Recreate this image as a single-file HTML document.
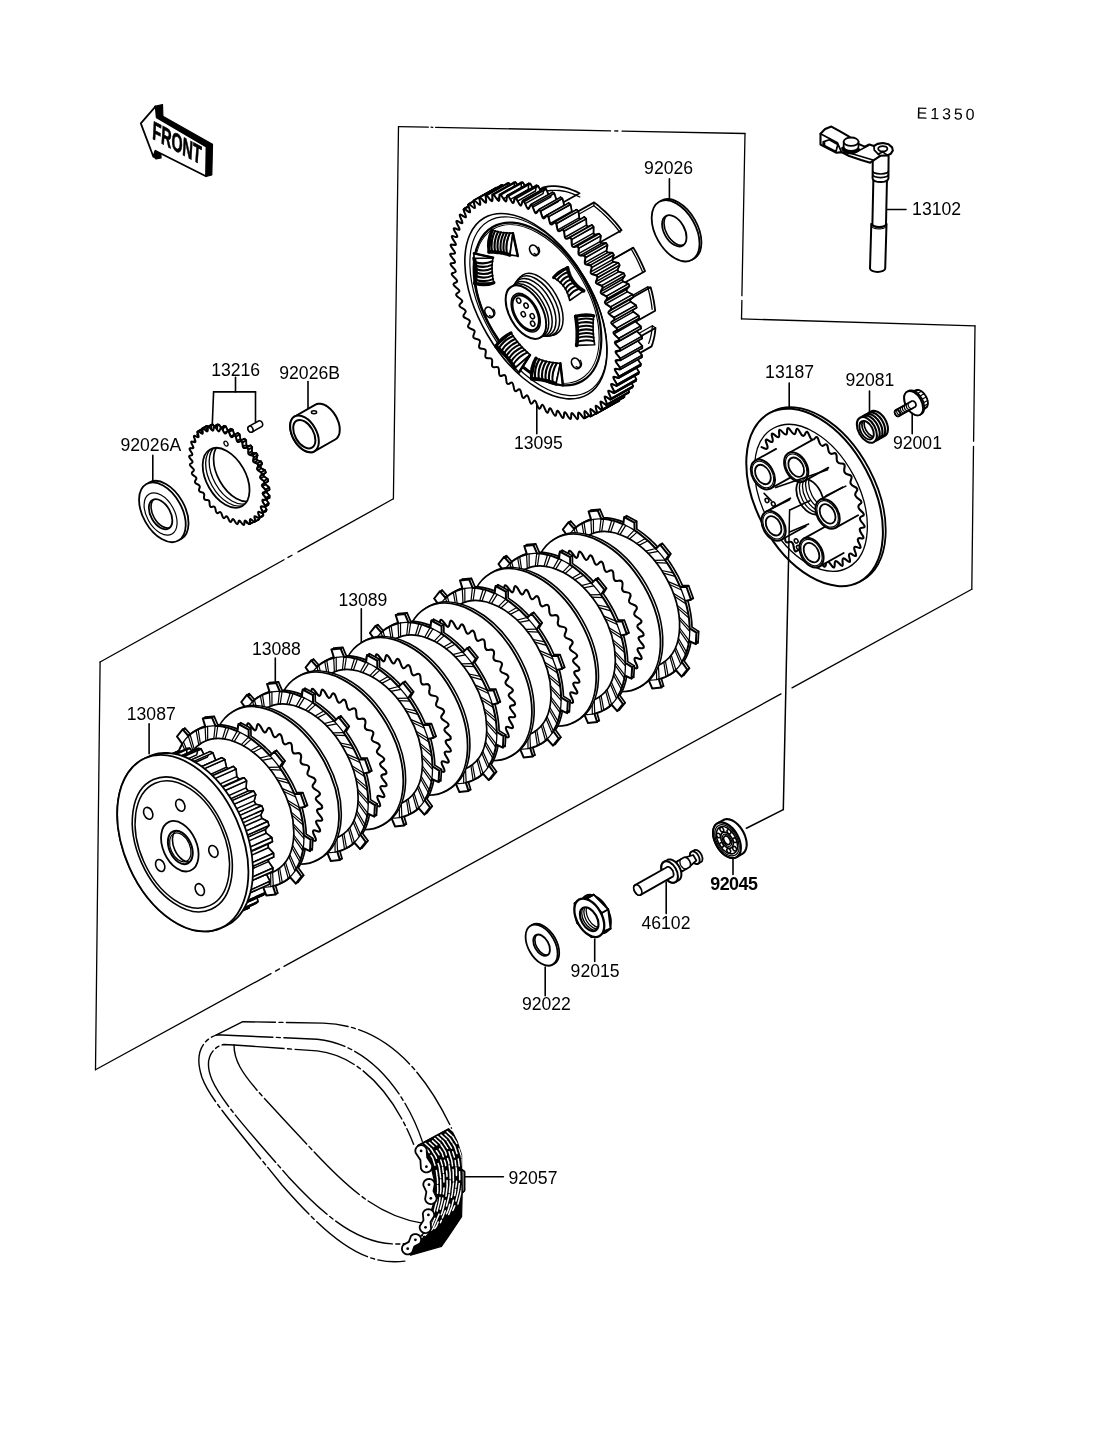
<!DOCTYPE html>
<html><head><meta charset="utf-8"><title>E1350 Clutch</title>
<style>
html,body{margin:0;padding:0;background:#fff;}
svg{display:block;font-family:"Liberation Sans",sans-serif;fill:#000;filter:grayscale(1);}
svg path,svg ellipse{stroke-linecap:round;stroke-linejoin:round;}
</style></head><body>
<svg width="1096" height="1434" viewBox="0 0 1096 1434">
<rect x="0" y="0" width="1096" height="1434" fill="#fff" stroke="none"/>
<path d="M393.4 498.8L398.5 126.6" stroke="#000" stroke-width="1.3" fill="none" />
<path d="M398.5 126.6L428.3 127.2" stroke="#000" stroke-width="1.3" fill="none" />
<path d="M431.1 127.2L432.8 127.3" stroke="#000" stroke-width="1.3" fill="none" />
<path d="M435.6 127.3L610.6 130.8" stroke="#000" stroke-width="1.3" fill="none" />
<path d="M614.7 130.9L617.8 131" stroke="#000" stroke-width="1.3" fill="none" />
<path d="M622 131.1L745 133.5" stroke="#000" stroke-width="1.3" fill="none" />
<path d="M745 133.5L741.9 295.7" stroke="#000" stroke-width="1.3" fill="none" />
<path d="M741.9 300.4L741.5 318.9" stroke="#000" stroke-width="1.3" fill="none" />
<path d="M741.5 318.9L975 325.8" stroke="#000" stroke-width="1.3" fill="none" />
<path d="M975 325.8L973.6 441.2" stroke="#000" stroke-width="1.3" fill="none" />
<path d="M973.5 446.5L971.8 589.3" stroke="#000" stroke-width="1.3" fill="none" />
<path d="M971.8 589.3L792 687.9" stroke="#000" stroke-width="1.3" fill="none" />
<path d="M781 693.9L284 966.4" stroke="#000" stroke-width="1.3" fill="none" />
<path d="M279.5 968.9L275.5 971.1" stroke="#000" stroke-width="1.3" fill="none" />
<path d="M271 973.6L95.5 1069.8" stroke="#000" stroke-width="1.3" fill="none" />
<path d="M95.5 1069.8L100.1 662" stroke="#000" stroke-width="1.3" fill="none" />
<path d="M100.1 662L284 559.7" stroke="#000" stroke-width="1.3" fill="none" />
<path d="M288 557.4L292 555.2" stroke="#000" stroke-width="1.3" fill="none" />
<path d="M298 551.9L393.4 498.8" stroke="#000" stroke-width="1.3" fill="none" />
<text x="912.1" y="215" font-size="17.6" >13102</text>
<text x="644.1" y="174.2" font-size="17.6" >92026</text>
<text x="211.2" y="376" font-size="17.6" >13216</text>
<text x="279.3" y="378.7" font-size="17.6" >92026B</text>
<text x="120.5" y="451.3" font-size="17.6" >92026A</text>
<text x="513.9" y="448.8" font-size="17.6" >13095</text>
<text x="765.1" y="377.5" font-size="17.6" >13187</text>
<text x="845.4" y="386.1" font-size="17.6" >92081</text>
<text x="893" y="448.9" font-size="17.6" >92001</text>
<text x="338.4" y="606" font-size="17.6" >13089</text>
<text x="251.9" y="654.7" font-size="17.6" >13088</text>
<text x="126.8" y="719.6" font-size="17.6" >13087</text>
<text x="641.5" y="928.7" font-size="17.6" >46102</text>
<text x="570.6" y="976.6" font-size="17.6" >92015</text>
<text x="521.9" y="1010.2" font-size="17.6" >92022</text>
<text x="508.5" y="1183.9" font-size="17.6" >92057</text>
<text x="710.2" y="889.8" font-size="17.9" font-weight="bold" textLength="47.8">92045</text>
<text x="916.6" y="118.6" font-size="16" letter-spacing="2.9" transform="rotate(1.2 916 118)">E1350</text>
<path d="M887.5 209.5L906 209.5" stroke="#000" stroke-width="1.6" fill="none" />
<path d="M669.4 178.7L669.4 200.2" stroke="#000" stroke-width="1.6" fill="none" />
<path d="M235.5 377.4L235.5 391.9" stroke="#000" stroke-width="1.6" fill="none" />
<path d="M213.6 391.9L255.5 391.9" stroke="#000" stroke-width="1.6" fill="none" />
<path d="M213.6 391.9L212.2 426.6" stroke="#000" stroke-width="1.6" fill="none" />
<path d="M255.5 391.9L255.5 421.7" stroke="#000" stroke-width="1.6" fill="none" />
<path d="M308 381.5L308 408.9" stroke="#000" stroke-width="1.6" fill="none" />
<path d="M152.8 455.4L152.8 482.8" stroke="#000" stroke-width="1.6" fill="none" />
<path d="M536.8 405L536.8 433.7" stroke="#000" stroke-width="1.6" fill="none" />
<path d="M789.2 383.1L789.2 408.2" stroke="#000" stroke-width="1.6" fill="none" />
<path d="M869.5 391.1L869.5 414.2" stroke="#000" stroke-width="1.6" fill="none" />
<path d="M912.2 413.2L912.2 433.7" stroke="#000" stroke-width="1.6" fill="none" />
<path d="M361.3 608.7L361.3 644.3" stroke="#000" stroke-width="1.6" fill="none" />
<path d="M275.3 658L275.3 683.5" stroke="#000" stroke-width="1.6" fill="none" />
<path d="M149.1 723.7L149.1 753.8" stroke="#000" stroke-width="1.6" fill="none" />
<path d="M733 858L733 874.5" stroke="#000" stroke-width="1.6" fill="none" />
<path d="M666.2 882.1L666.2 913.6" stroke="#000" stroke-width="1.6" fill="none" />
<path d="M594.7 939.1L594.7 961.5" stroke="#000" stroke-width="1.6" fill="none" />
<path d="M545.2 967L545.2 995.7" stroke="#000" stroke-width="1.6" fill="none" />
<path d="M464.7 1176.7L503.4 1176.7" stroke="#000" stroke-width="1.6" fill="none" />
<path d="M746.4 828.2L783.3 809.6" stroke="#000" stroke-width="1.6" fill="none" />
<ellipse cx="677.5" cy="229.7" rx="33.3" ry="20" transform="rotate(60.5 677.5 229.7)" fill="#fff" stroke="#000" stroke-width="1.8"/>
<ellipse cx="675.6" cy="230.8" rx="33.3" ry="20" transform="rotate(60.5 675.6 230.8)" fill="#fff" stroke="#000" stroke-width="1.8"/>
<clipPath id="c59284"><ellipse cx="674.3" cy="230.8" rx="17" ry="10.2" transform="rotate(60.5 674.3 230.8)"/></clipPath>
<g clip-path="url(#c59284)">
<ellipse cx="676.2" cy="229.7" rx="17" ry="10.2" transform="rotate(60.5 676.2 229.7)" fill="none" stroke="#000" stroke-width="1.6"/>
</g>
<ellipse cx="674.3" cy="230.8" rx="17" ry="10.2" transform="rotate(60.5 674.3 230.8)" fill="none" stroke="#000" stroke-width="1.8"/>
<ellipse cx="165.2" cy="510.7" rx="32.5" ry="19.5" transform="rotate(60.5 165.2 510.7)" fill="#fff" stroke="#000" stroke-width="1.8"/>
<ellipse cx="162.4" cy="512.3" rx="32.5" ry="19.5" transform="rotate(60.5 162.4 512.3)" fill="#fff" stroke="#000" stroke-width="1.8"/>
<ellipse cx="160.6" cy="514" rx="23" ry="13.8" transform="rotate(60.5 160.6 514)" fill="none" stroke="#000" stroke-width="1.2"/>
<clipPath id="c18770"><ellipse cx="160.6" cy="514.2" rx="16.4" ry="9.8" transform="rotate(60.5 160.6 514.2)"/></clipPath>
<g clip-path="url(#c18770)">
<ellipse cx="162.8" cy="513" rx="16.4" ry="9.8" transform="rotate(60.5 162.8 513)" fill="none" stroke="#000" stroke-width="1.6"/>
</g>
<ellipse cx="160.6" cy="514.2" rx="16.4" ry="9.8" transform="rotate(60.5 160.6 514.2)" fill="none" stroke="#000" stroke-width="1.8"/>
<ellipse cx="543.2" cy="944.3" rx="22.3" ry="13.4" transform="rotate(60.5 543.2 944.3)" fill="#fff" stroke="#000" stroke-width="1.8"/>
<ellipse cx="541.6" cy="945.2" rx="22.3" ry="13.4" transform="rotate(60.5 541.6 945.2)" fill="#fff" stroke="#000" stroke-width="1.8"/>
<clipPath id="c37927"><ellipse cx="541.6" cy="945.2" rx="11.6" ry="7" transform="rotate(60.5 541.6 945.2)"/></clipPath>
<g clip-path="url(#c37927)">
<ellipse cx="543.2" cy="944.3" rx="11.6" ry="7" transform="rotate(60.5 543.2 944.3)" fill="none" stroke="#000" stroke-width="1.6"/>
</g>
<ellipse cx="541.6" cy="945.2" rx="11.6" ry="7" transform="rotate(60.5 541.6 945.2)" fill="none" stroke="#000" stroke-width="1.8"/>
<path d="M294.7 416.5 L315.5 404.7 L316.3 404.3 L317.1 404 L317.9 403.8 L318.8 403.7 L319.7 403.7 L320.6 403.8 L321.6 403.9 L322.6 404.2 L323.6 404.5 L324.6 404.9 L325.6 405.5 L326.6 406 L327.6 406.7 L328.5 407.4 L329.5 408.3 L330.5 409.1 L331.4 410.1 L332.3 411.1 L333.1 412.1 L334 413.2 L334.7 414.4 L335.5 415.6 L336.2 416.8 L336.8 418 L337.4 419.3 L337.9 420.6 L338.4 421.8 L338.8 423.1 L339.1 424.4 L339.4 425.7 L339.6 426.9 L339.7 428.1 L339.7 429.3 L339.7 430.5 L339.6 431.6 L339.5 432.7 L339.3 433.7 L339 434.7 L338.6 435.6 L338.2 436.4 L337.7 437.2 L337.2 437.9 L336.6 438.5 L335.9 439 L335.2 439.5 L314.3 451.3 L313.6 451.7 L312.8 452 L312 452.2 L311.1 452.3 L310.2 452.3 L309.2 452.2 L308.3 452 L307.3 451.8 L306.3 451.5 L305.3 451 L304.3 450.5 L303.3 449.9 L302.3 449.3 L301.3 448.5 L300.4 447.7 L299.4 446.8 L298.5 445.9 L297.6 444.9 L296.7 443.8 L295.9 442.7 L295.1 441.6 L294.4 440.4 L293.7 439.2 L293.1 438 L292.5 436.7 L292 435.4 L291.5 434.1 L291.1 432.9 L290.8 431.6 L290.5 430.3 L290.3 429.1 L290.2 427.8 L290.1 426.6 L290.2 425.5 L290.2 424.4 L290.4 423.3 L290.6 422.3 L290.9 421.3 L291.3 420.4 L291.7 419.6 L292.2 418.8 L292.7 418.1 L293.3 417.5 L293.9 416.9 L294.7 416.5Z" fill="#fff" stroke="#000" stroke-width="2" />
<ellipse cx="304.5" cy="433.9" rx="20" ry="12" transform="rotate(60.5 304.5 433.9)" fill="#fff" stroke="#000" stroke-width="2"/>
<ellipse cx="304.3" cy="434.2" rx="15.5" ry="9.3" transform="rotate(60.5 304.3 434.2)" fill="none" stroke="#000" stroke-width="2"/>
<ellipse cx="314" cy="412.2" rx="2.6" ry="1.5" transform="rotate(0 314 412.2)" fill="none" stroke="#000" stroke-width="1.5"/>
<path d="M254.4 516.7 L257.8 520 L259.1 519.2 L257.8 514.6 L258.8 513.7 L262.3 516.3 L263.3 515.2 L261.4 510.6 L262.2 509.4 L265.8 511.3 L266.5 509.8 L264.2 505.4 L264.7 503.9 L268.2 505 L268.6 503.3 L265.8 499.2 L266 497.5 L269.4 497.8 L269.5 495.8 L266.3 492.1 L266.3 490.3 L269.4 489.7 L269.2 487.6 L265.7 484.5 L265.4 482.5 L268.1 481.2 L267.6 479 L264 476.5 L263.4 474.5 L265.7 472.4 L264.9 470.2 L261.2 468.4 L260.4 466.4 L262.1 463.6 L261 461.5 L257.5 460.5 L256.4 458.6 L257.5 455.2 L256.3 453.2 L252.9 453.1 L251.7 451.3 L252.1 447.3 L250.7 445.5 L247.6 446.2 L246.2 444.7 L246.1 440.3 L244.4 438.8 L241.8 440.3 L240.3 439 L239.5 434.4 L237.8 433.1 L235.7 435.4 L234.1 434.4 L232.7 429.7 L230.9 428.8 L229.4 431.8 L227.8 431.1 L225.8 426.5 L224.1 425.9 L223.1 429.5 L221.6 429.1 L219.1 424.8 L217.5 424.6 L217.2 428.6 L215.7 428.6 L212.8 424.6 L211.3 424.8 L211.6 429.2 L210.3 429.5 L207 426 L205.7 426.6 L206.7 431.2 L205.6 431.9 L202.1 428.9 L201 429.9 L202.6 434.5 L201.7 435.6 L198.1 433.3 L197.2 434.6 L199.4 439.1 L198.7 440.5 L195.1 439 L194.6 440.6 L197.2 444.9 L196.8 446.5 L193.3 445.8 L193.1 447.6 L196.1 451.5 L196 453.3 L192.8 453.4 L192.8 455.5 L196.1 458.9 L196.3 460.8 L193.4 461.8 L193.8 463.9 L197.3 466.7 L197.8 468.7 L195.3 470.5 L195.9 472.7 L199.6 474.8 L200.3 476.8 L198.3 479.3 L199.2 481.5 L202.8 482.8 L203.8 484.8 L202.4 487.9 L203.5 490 L207 490.5 L208.2 492.4 L207.4 496.1 L208.8 498 L211.9 497.7 L213.3 499.4 L213.1 503.5 L214.7 505.3 L217.5 504.1 L219 505.6 L219.5 510 L221.1 511.5 L223.5 509.6 L225.1 510.7 L226.2 515.4 L227.9 516.5 L229.8 513.8 L231.4 514.7 L233.1 519.3 L234.8 520.1 L236.1 516.8 L237.6 517.3 L239.9 521.8 L241.6 522.2 L242.2 518.4 L243.7 518.6 L246.4 522.8 L248 522.8 L248 518.6 L249.4 518.4 L252.5 522.2 L253.9 521.8 L253.2 517.3Z" fill="#fff" stroke="#000" stroke-width="2" />
<path d="M252.8 460.7 L253.9 457.3 L257.5 455.2 L256.4 458.6Z" fill="#fff" stroke="#000" stroke-width="1.7" />
<path d="M252.6 455.2 L249.3 455.1 L252.9 453.1 L256.3 453.2Z" fill="#fff" stroke="#000" stroke-width="1.7" />
<path d="M253.9 457.3 L252.6 455.2 L256.3 453.2 L257.5 455.2Z" fill="#fff" stroke="#000" stroke-width="1.7" />
<path d="M256.7 468.5 L258.4 465.7 L262.1 463.6 L260.4 466.4Z" fill="#fff" stroke="#000" stroke-width="1.7" />
<path d="M257.4 463.5 L253.9 462.6 L257.5 460.5 L261 461.5Z" fill="#fff" stroke="#000" stroke-width="1.7" />
<path d="M258.4 465.7 L257.4 463.5 L261 461.5 L262.1 463.6Z" fill="#fff" stroke="#000" stroke-width="1.7" />
<path d="M248 453.4 L248.5 449.4 L252.1 447.3 L251.7 451.3Z" fill="#fff" stroke="#000" stroke-width="1.7" />
<path d="M247 447.6 L244 448.3 L247.6 446.2 L250.7 445.5Z" fill="#fff" stroke="#000" stroke-width="1.7" />
<path d="M248.5 449.4 L247 447.6 L250.7 445.5 L252.1 447.3Z" fill="#fff" stroke="#000" stroke-width="1.7" />
<path d="M259.8 476.6 L262 474.4 L265.7 472.4 L263.4 474.5Z" fill="#fff" stroke="#000" stroke-width="1.7" />
<path d="M261.2 472.2 L257.6 470.5 L261.2 468.4 L264.9 470.2Z" fill="#fff" stroke="#000" stroke-width="1.7" />
<path d="M262 474.4 L261.2 472.2 L264.9 470.2 L265.7 472.4Z" fill="#fff" stroke="#000" stroke-width="1.7" />
<path d="M242.6 446.7 L242.4 442.4 L246.1 440.3 L246.2 444.7Z" fill="#fff" stroke="#000" stroke-width="1.7" />
<path d="M240.8 440.8 L238.2 442.4 L241.8 440.3 L244.4 438.8Z" fill="#fff" stroke="#000" stroke-width="1.7" />
<path d="M242.4 442.4 L240.8 440.8 L244.4 438.8 L246.1 440.3Z" fill="#fff" stroke="#000" stroke-width="1.7" />
<path d="M261.7 484.6 L264.5 483.2 L268.1 481.2 L265.4 482.5Z" fill="#fff" stroke="#000" stroke-width="1.7" />
<path d="M264 481.1 L260.4 478.6 L264 476.5 L267.6 479Z" fill="#fff" stroke="#000" stroke-width="1.7" />
<path d="M264.5 483.2 L264 481.1 L267.6 479 L268.1 481.2Z" fill="#fff" stroke="#000" stroke-width="1.7" />
<path d="M236.7 441 L235.8 436.5 L239.5 434.4 L240.3 439Z" fill="#fff" stroke="#000" stroke-width="1.7" />
<path d="M234.1 435.2 L232 437.5 L235.7 435.4 L237.8 433.1Z" fill="#fff" stroke="#000" stroke-width="1.7" />
<path d="M235.8 436.5 L234.1 435.2 L237.8 433.1 L239.5 434.4Z" fill="#fff" stroke="#000" stroke-width="1.7" />
<path d="M262.6 492.3 L265.7 491.8 L269.4 489.7 L266.3 490.3Z" fill="#fff" stroke="#000" stroke-width="1.7" />
<path d="M265.5 489.7 L262.1 486.6 L265.7 484.5 L269.2 487.6Z" fill="#fff" stroke="#000" stroke-width="1.7" />
<path d="M265.7 491.8 L265.5 489.7 L269.2 487.6 L269.4 489.7Z" fill="#fff" stroke="#000" stroke-width="1.7" />
<path d="M230.5 436.5 L229 431.8 L232.7 429.7 L234.1 434.4Z" fill="#fff" stroke="#000" stroke-width="1.7" />
<path d="M227.3 430.9 L225.7 433.8 L229.4 431.8 L230.9 428.8Z" fill="#fff" stroke="#000" stroke-width="1.7" />
<path d="M229 431.8 L227.3 430.9 L230.9 428.8 L232.7 429.7Z" fill="#fff" stroke="#000" stroke-width="1.7" />
<path d="M262.4 499.5 L265.8 499.8 L269.4 497.8 L266 497.5Z" fill="#fff" stroke="#000" stroke-width="1.7" />
<path d="M265.9 497.9 L262.7 494.2 L266.3 492.1 L269.5 495.8Z" fill="#fff" stroke="#000" stroke-width="1.7" />
<path d="M265.8 499.8 L265.9 497.9 L269.5 495.8 L269.4 497.8Z" fill="#fff" stroke="#000" stroke-width="1.7" />
<path d="M224.2 433.1 L222.1 428.6 L225.8 426.5 L227.8 431.1Z" fill="#fff" stroke="#000" stroke-width="1.7" />
<path d="M220.4 428 L219.5 431.5 L223.1 429.5 L224.1 425.9Z" fill="#fff" stroke="#000" stroke-width="1.7" />
<path d="M222.1 428.6 L220.4 428 L224.1 425.9 L225.8 426.5Z" fill="#fff" stroke="#000" stroke-width="1.7" />
<path d="M261 506 L264.6 507.1 L268.2 505 L264.7 503.9Z" fill="#fff" stroke="#000" stroke-width="1.7" />
<path d="M265 505.4 L262.1 501.2 L265.8 499.2 L268.6 503.3Z" fill="#fff" stroke="#000" stroke-width="1.7" />
<path d="M264.6 507.1 L265 505.4 L268.6 503.3 L268.2 505Z" fill="#fff" stroke="#000" stroke-width="1.7" />
<path d="M218 431.2 L215.4 426.8 L219.1 424.8 L221.6 429.1Z" fill="#fff" stroke="#000" stroke-width="1.7" />
<path d="M213.8 426.6 L213.5 430.7 L217.2 428.6 L217.5 424.6Z" fill="#fff" stroke="#000" stroke-width="1.7" />
<path d="M215.4 426.8 L213.8 426.6 L217.5 424.6 L219.1 424.8Z" fill="#fff" stroke="#000" stroke-width="1.7" />
<path d="M258.6 511.4 L262.2 513.3 L265.8 511.3 L262.2 509.4Z" fill="#fff" stroke="#000" stroke-width="1.7" />
<path d="M262.9 511.9 L260.5 507.4 L264.2 505.4 L266.5 509.8Z" fill="#fff" stroke="#000" stroke-width="1.7" />
<path d="M262.2 513.3 L262.9 511.9 L266.5 509.8 L265.8 511.3Z" fill="#fff" stroke="#000" stroke-width="1.7" />
<path d="M212.1 430.7 L209.1 426.6 L212.8 424.6 L215.7 428.6Z" fill="#fff" stroke="#000" stroke-width="1.7" />
<path d="M207.6 426.9 L208 431.2 L211.6 429.2 L211.3 424.8Z" fill="#fff" stroke="#000" stroke-width="1.7" />
<path d="M209.1 426.6 L207.6 426.9 L211.3 424.8 L212.8 424.6Z" fill="#fff" stroke="#000" stroke-width="1.7" />
<path d="M255.1 515.8 L258.7 518.4 L262.3 516.3 L258.8 513.7Z" fill="#fff" stroke="#000" stroke-width="1.7" />
<path d="M259.7 517.3 L257.8 512.6 L261.4 510.6 L263.3 515.2Z" fill="#fff" stroke="#000" stroke-width="1.7" />
<path d="M258.7 518.4 L259.7 517.3 L263.3 515.2 L262.3 516.3Z" fill="#fff" stroke="#000" stroke-width="1.7" />
<path d="M206.7 431.6 L203.4 428.1 L207 426 L210.3 429.5Z" fill="#fff" stroke="#000" stroke-width="1.7" />
<path d="M202.1 428.6 L203.1 433.2 L206.7 431.2 L205.7 426.6Z" fill="#fff" stroke="#000" stroke-width="1.7" />
<path d="M203.4 428.1 L202.1 428.6 L205.7 426.6 L207 426Z" fill="#fff" stroke="#000" stroke-width="1.7" />
<path d="M250.8 518.8 L254.2 522.1 L257.8 520 L254.4 516.7Z" fill="#fff" stroke="#000" stroke-width="1.7" />
<path d="M255.4 521.3 L254.1 516.6 L257.8 514.6 L259.1 519.2Z" fill="#fff" stroke="#000" stroke-width="1.7" />
<path d="M254.2 522.1 L255.4 521.3 L259.1 519.2 L257.8 520Z" fill="#fff" stroke="#000" stroke-width="1.7" />
<path d="M201.9 434 L198.4 431 L202.1 428.9 L205.6 431.9Z" fill="#fff" stroke="#000" stroke-width="1.7" />
<path d="M197.3 432 L198.9 436.6 L202.6 434.5 L201 429.9Z" fill="#fff" stroke="#000" stroke-width="1.7" />
<path d="M198.4 431 L197.3 432 L201 429.9 L202.1 428.9Z" fill="#fff" stroke="#000" stroke-width="1.7" />
<path d="M245.7 520.4 L248.8 524.2 L252.5 522.2 L249.4 518.4Z" fill="#fff" stroke="#000" stroke-width="1.7" />
<path d="M250.2 523.8 L249.6 519.3 L253.2 517.3 L253.9 521.8Z" fill="#fff" stroke="#000" stroke-width="1.7" />
<path d="M248.8 524.2 L250.2 523.8 L253.9 521.8 L252.5 522.2Z" fill="#fff" stroke="#000" stroke-width="1.7" />
<path d="M250.2 519.1 Q250.8 518.8 252.5 520.4 Q254.2 522.1 254.8 521.7 Q255.4 521.3 254.8 519 Q254.1 516.6 254.6 516.2 Q255.1 515.8 256.9 517.1 Q258.7 518.4 259.2 517.8 Q259.7 517.3 258.7 514.9 Q257.8 512.6 258.2 512 Q258.6 511.4 260.4 512.4 Q262.2 513.3 262.5 512.6 Q262.9 511.9 261.7 509.7 Q260.5 507.4 260.8 506.7 Q261 506 262.8 506.5 Q264.6 507.1 264.8 506.2 Q265 505.4 263.6 503.3 Q262.1 501.2 262.3 500.4 Q262.4 499.5 264.1 499.7 Q265.8 499.8 265.8 498.9 Q265.9 497.9 264.3 496 Q262.7 494.2 262.6 493.3 Q262.6 492.3 264.2 492.1 Q265.7 491.8 265.6 490.7 Q265.5 489.7 263.8 488.1 Q262.1 486.6 261.9 485.6 Q261.7 484.6 263.1 483.9 Q264.5 483.2 264.2 482.1 Q264 481.1 262.2 479.8 Q260.4 478.6 260.1 477.6 Q259.8 476.6 260.9 475.5 Q262 474.4 261.6 473.3 Q261.2 472.2 259.4 471.4 Q257.6 470.5 257.2 469.5 Q256.7 468.5 257.6 467.1 Q258.4 465.7 257.9 464.6 Q257.4 463.5 255.6 463.1 Q253.9 462.6 253.3 461.7 Q252.8 460.7 253.3 459 Q253.9 457.3 253.2 456.2 Q252.6 455.2 250.9 455.2 Q249.3 455.1 248.6 454.2 Q248 453.4 248.2 451.4 Q248.5 449.4 247.7 448.5 Q247 447.6 245.5 447.9 Q244 448.3 243.3 447.5 Q242.6 446.7 242.5 444.6 Q242.4 442.4 241.6 441.6 Q240.8 440.8 239.5 441.6 Q238.2 442.4 237.4 441.7 Q236.7 441 236.3 438.8 Q235.8 436.5 235 435.8 Q234.1 435.2 233.1 436.3 Q232 437.5 231.2 437 Q230.5 436.5 229.7 434.1 Q229 431.8 228.1 431.3 Q227.3 430.9 226.5 432.4 Q225.7 433.8 224.9 433.5 Q224.2 433.1 223.1 430.9 Q222.1 428.6 221.3 428.3 Q220.4 428 220 429.8 Q219.5 431.5 218.7 431.4 Q218 431.2 216.7 429 Q215.4 426.8 214.6 426.7 Q213.8 426.6 213.7 428.6 Q213.5 430.7 212.8 430.7 Q212.1 430.7 210.6 428.7 Q209.1 426.6 208.4 426.8 Q207.6 426.9 207.8 429 Q208 431.2 207.3 431.4 Q206.7 431.6 205 429.8 Q203.4 428.1 202.7 428.4 Q202.1 428.6 202.6 430.9 Q203.1 433.2 202.5 433.6 Q201.9 434 200.2 432.5 Q198.4 431 197.9 431.5 Q197.3 432 198.1 434.3 Q198.9 436.6 198.5 437.1 Q198 437.6 196.2 436.5 Q194.4 435.4 194 436 Q193.6 436.7 194.7 438.9 Q195.7 441.2 195.4 441.9 Q195.1 442.6 193.3 441.8 Q191.5 441 191.2 441.8 Q190.9 442.6 192.2 444.8 Q193.5 446.9 193.4 447.7 Q193.2 448.5 191.4 448.2 Q189.7 447.8 189.5 448.7 Q189.4 449.7 190.9 451.6 Q192.5 453.6 192.4 454.5 Q192.4 455.4 190.7 455.4 Q189.1 455.5 189.1 456.5 Q189.1 457.5 190.8 459.2 Q192.5 461 192.6 461.9 Q192.7 462.9 191.2 463.4 Q189.8 463.8 189.9 464.9 Q190.1 466 191.9 467.4 Q193.6 468.8 193.9 469.8 Q194.1 470.8 192.9 471.7 Q191.6 472.5 191.9 473.6 Q192.3 474.8 194.1 475.8 Q195.9 476.9 196.3 477.9 Q196.6 478.9 195.6 480.1 Q194.6 481.4 195.1 482.5 Q195.6 483.5 197.4 484.2 Q199.2 484.9 199.6 485.9 Q200.1 486.8 199.4 488.4 Q198.7 490 199.3 491 Q199.9 492.1 201.6 492.3 Q203.3 492.6 203.9 493.5 Q204.5 494.5 204.1 496.3 Q203.7 498.2 204.4 499.1 Q205.1 500.1 206.7 499.9 Q208.3 499.8 209 500.6 Q209.6 501.5 209.6 503.5 Q209.5 505.6 210.3 506.5 Q211 507.3 212.4 506.8 Q213.9 506.2 214.6 506.9 Q215.3 507.6 215.6 509.9 Q215.8 512.1 216.7 512.8 Q217.5 513.5 218.7 512.6 Q219.9 511.6 220.6 512.2 Q221.4 512.8 222 515.1 Q222.6 517.4 223.4 518 Q224.3 518.5 225.2 517.2 Q226.1 515.9 226.9 516.3 Q227.7 516.8 228.6 519.1 Q229.4 521.4 230.3 521.8 Q231.2 522.2 231.8 520.5 Q232.4 518.9 233.2 519.1 Q234 519.4 235.1 521.7 Q236.3 523.9 237.1 524.1 Q237.9 524.3 238.2 522.4 Q238.6 520.5 239.3 520.6 Q240 520.6 241.4 522.8 Q242.8 524.9 243.6 524.9 Q244.4 524.9 244.3 522.7 Q244.3 520.6 245 520.5 Q245.7 520.4 247.3 522.3 Q248.8 524.2 249.5 524 Q250.2 523.8 249.9 521.6 Q249.6 519.3 250.2 519.1Z" fill="#fff" stroke="#000" stroke-width="2" />
<clipPath id="bore1"><ellipse cx="226.1" cy="477.8" rx="32.6" ry="19.6" transform="rotate(60.5 226.1 477.8)"/></clipPath>
<g clip-path="url(#bore1)">
<ellipse cx="229.1" cy="476.1" rx="32.6" ry="19.6" transform="rotate(60.5 229.1 476.1)" fill="none" stroke="#000" stroke-width="1.3"/>
<ellipse cx="232.6" cy="474.1" rx="32.6" ry="19.6" transform="rotate(60.5 232.6 474.1)" fill="none" stroke="#000" stroke-width="1.3"/>
<ellipse cx="237" cy="471.6" rx="32.6" ry="19.6" transform="rotate(60.5 237 471.6)" fill="none" stroke="#000" stroke-width="1.7"/>
</g>
<ellipse cx="226.1" cy="477.8" rx="32.6" ry="19.6" transform="rotate(60.5 226.1 477.8)" fill="none" stroke="#000" stroke-width="1.8"/>
<ellipse cx="226" cy="443.6" rx="2.6" ry="1.8" transform="rotate(60.5 226 443.6)" fill="none" stroke="#000" stroke-width="1.3"/>
<path d="M248.9 426.4 L258.5 421 L258.6 420.9 L258.8 420.9 L259 420.8 L259.1 420.8 L259.3 420.8 L259.5 420.8 L259.7 420.8 L259.8 420.8 L260 420.8 L260.2 420.9 L260.4 421 L260.6 421 L260.7 421.1 L260.9 421.2 L261.1 421.4 L261.3 421.5 L261.4 421.6 L261.6 421.8 L261.7 422 L261.9 422.1 L262 422.3 L262.1 422.5 L262.2 422.7 L262.3 422.9 L262.4 423.1 L262.5 423.3 L262.5 423.5 L262.6 423.7 L262.6 423.9 L262.7 424.2 L262.7 424.4 L262.7 424.6 L262.7 424.8 L262.7 425 L262.6 425.2 L262.6 425.3 L262.5 425.5 L262.4 425.7 L262.4 425.8 L262.3 426 L262.2 426.1 L262 426.3 L261.9 426.4 L261.8 426.5 L261.6 426.6 L252.1 432 L251.9 432.1 L251.8 432.1 L251.6 432.2 L251.4 432.2 L251.3 432.2 L251.1 432.2 L250.9 432.2 L250.7 432.2 L250.5 432.1 L250.4 432.1 L250.2 432 L250 431.9 L249.8 431.8 L249.6 431.7 L249.5 431.6 L249.3 431.5 L249.2 431.3 L249 431.2 L248.9 431 L248.7 430.8 L248.6 430.7 L248.5 430.5 L248.4 430.3 L248.3 430.1 L248.2 429.9 L248.1 429.7 L248 429.5 L248 429.3 L247.9 429 L247.9 428.8 L247.9 428.6 L247.9 428.4 L247.9 428.2 L247.9 428 L248 427.8 L248 427.6 L248.1 427.5 L248.1 427.3 L248.2 427.1 L248.3 427 L248.4 426.8 L248.5 426.7 L248.6 426.6 L248.8 426.5 L248.9 426.4Z" fill="#fff" stroke="#000" stroke-width="1.5" />
<ellipse cx="250.5" cy="429.2" rx="3.2" ry="2.4" transform="rotate(60.5 250.5 429.2)" fill="#fff" stroke="#000" stroke-width="1.5"/>
<ellipse cx="595.9" cy="914.1" rx="20.8" ry="12.5" transform="rotate(60.5 595.9 914.1)" fill="#fff" stroke="#000" stroke-width="2.1"/>
<path d="M610.5 928.6 L608.2 909.3 L593.6 894.7 L581.3 899.5 L583.6 918.8 L598.2 933.4Z" fill="#fff" stroke="#000" stroke-width="2" />
<path d="M603.9 932.3 L601.6 913 L608.2 909.3 L610.5 928.6Z" fill="#fff" stroke="#000" stroke-width="1.8" />
<path d="M601.6 913 L587 898.5 L593.6 894.7 L608.2 909.3Z" fill="#fff" stroke="#000" stroke-width="1.8" />
<path d="M587 898.5 L574.7 903.3 L581.3 899.5 L593.6 894.7Z" fill="#fff" stroke="#000" stroke-width="1.8" />
<path d="M574.7 903.3 L577 922.6 L583.6 918.8 L581.3 899.5Z" fill="#fff" stroke="#000" stroke-width="1.8" />
<path d="M577 922.6 L591.6 937.1 L598.2 933.4 L583.6 918.8Z" fill="#fff" stroke="#000" stroke-width="1.8" />
<path d="M591.6 937.1 L603.9 932.3 L610.5 928.6 L598.2 933.4Z" fill="#fff" stroke="#000" stroke-width="1.8" />
<path d="M603.9 932.3 L601.6 913 L587 898.5 L574.7 903.3 L577 922.6 L591.6 937.1Z" fill="#fff" stroke="#000" stroke-width="2.1" />
<ellipse cx="589.3" cy="917.8" rx="20.9" ry="12.5" transform="rotate(60.5 589.3 917.8)" fill="#fff" stroke="#000" stroke-width="2.3"/>
<clipPath id="nutc"><ellipse cx="589.2" cy="919.2" rx="13" ry="7.8" transform="rotate(60.5 589.2 919.2)"/></clipPath>
<g clip-path="url(#nutc)">
<ellipse cx="591.1" cy="918.1" rx="13" ry="7.8" transform="rotate(60.5 591.1 918.1)" fill="none" stroke="#000" stroke-width="1.3"/>
<ellipse cx="593.2" cy="916.9" rx="13" ry="7.8" transform="rotate(60.5 593.2 916.9)" fill="none" stroke="#000" stroke-width="1.3"/>
<ellipse cx="595.5" cy="915.7" rx="13" ry="7.8" transform="rotate(60.5 595.5 915.7)" fill="none" stroke="#000" stroke-width="1.3"/>
</g>
<ellipse cx="589.2" cy="919.2" rx="13" ry="7.8" transform="rotate(60.5 589.2 919.2)" fill="none" stroke="#000" stroke-width="2.1"/>
<path d="M691.5 851.8 L694.2 850.3 L694.5 850.1 L694.8 850 L695.1 850 L695.4 849.9 L695.7 849.9 L696 849.9 L696.3 850 L696.6 850.1 L697 850.2 L697.3 850.3 L697.7 850.5 L698 850.7 L698.3 850.9 L698.7 851.2 L699 851.5 L699.3 851.8 L699.6 852.1 L699.9 852.4 L700.2 852.8 L700.5 853.2 L700.8 853.6 L701 854 L701.3 854.4 L701.5 854.8 L701.7 855.2 L701.8 855.7 L702 856.1 L702.1 856.5 L702.3 857 L702.3 857.4 L702.4 857.8 L702.5 858.2 L702.5 858.6 L702.5 859 L702.4 859.4 L702.4 859.8 L702.3 860.1 L702.2 860.5 L702.1 860.8 L702 861 L701.8 861.3 L701.6 861.5 L701.4 861.8 L701.2 861.9 L700.9 862.1 L698.2 863.7 L697.9 863.8 L697.6 863.9 L697.3 864 L697 864 L696.7 864 L696.4 864 L696.1 863.9 L695.8 863.8 L695.4 863.7 L695.1 863.6 L694.8 863.4 L694.4 863.2 L694.1 863 L693.7 862.7 L693.4 862.4 L693.1 862.1 L692.8 861.8 L692.5 861.5 L692.2 861.1 L691.9 860.8 L691.6 860.4 L691.4 860 L691.1 859.5 L690.9 859.1 L690.7 858.7 L690.6 858.3 L690.4 857.8 L690.3 857.4 L690.1 857 L690.1 856.5 L690 856.1 L689.9 855.7 L689.9 855.3 L689.9 854.9 L690 854.5 L690 854.1 L690.1 853.8 L690.2 853.5 L690.3 853.2 L690.4 852.9 L690.6 852.6 L690.8 852.4 L691 852.2 L691.2 852 L691.5 851.8Z" fill="#fff" stroke="#000" stroke-width="1.8" />
<ellipse cx="694.8" cy="857.7" rx="6.8" ry="4.1" transform="rotate(60.5 694.8 857.7)" fill="#fff" stroke="#000" stroke-width="1.8"/>
<path d="M689.1 867 L696.4 860.5 L693.2 855 L684 857.9Z" fill="#fff" stroke="#000" stroke-width="1.7" />
<path d="M669.9 865.4 L683.8 857.6 L684 857.4 L684.2 857.4 L684.5 857.3 L684.7 857.3 L684.9 857.3 L685.2 857.3 L685.5 857.3 L685.8 857.4 L686 857.5 L686.3 857.6 L686.6 857.8 L686.9 857.9 L687.1 858.1 L687.4 858.3 L687.7 858.6 L688 858.8 L688.2 859.1 L688.5 859.3 L688.7 859.6 L688.9 859.9 L689.2 860.3 L689.4 860.6 L689.6 860.9 L689.7 861.3 L689.9 861.6 L690 862 L690.2 862.4 L690.3 862.7 L690.4 863.1 L690.5 863.4 L690.5 863.8 L690.5 864.1 L690.6 864.5 L690.6 864.8 L690.5 865.1 L690.5 865.4 L690.4 865.7 L690.3 866 L690.2 866.2 L690.1 866.4 L690 866.7 L689.8 866.8 L689.7 867 L689.5 867.2 L689.3 867.3 L675.4 875.2 L675.2 875.3 L674.9 875.4 L674.7 875.4 L674.5 875.4 L674.2 875.4 L673.9 875.4 L673.7 875.4 L673.4 875.3 L673.1 875.2 L672.8 875.1 L672.6 875 L672.3 874.8 L672 874.6 L671.7 874.4 L671.5 874.2 L671.2 873.9 L670.9 873.7 L670.7 873.4 L670.4 873.1 L670.2 872.8 L670 872.5 L669.8 872.1 L669.6 871.8 L669.4 871.4 L669.3 871.1 L669.1 870.7 L669 870.4 L668.9 870 L668.8 869.7 L668.7 869.3 L668.6 868.9 L668.6 868.6 L668.6 868.3 L668.6 867.9 L668.6 867.6 L668.7 867.3 L668.7 867 L668.8 866.8 L668.9 866.5 L669 866.3 L669.2 866.1 L669.3 865.9 L669.5 865.7 L669.7 865.6 L669.9 865.4Z" fill="#fff" stroke="#000" stroke-width="1.7" />
<ellipse cx="672.6" cy="870.3" rx="5.6" ry="3.4" transform="rotate(60.5 672.6 870.3)" fill="#fff" stroke="#000" stroke-width="1.7"/>
<path d="M675.1 862.5 L674.9 862.6 L674.7 862.8 L674.5 862.9 L674.4 863.1 L674.2 863.3 L674.1 863.6 L674 863.8 L673.9 864.1 L673.9 864.4 L673.8 864.7 L673.8 865 L673.8 865.3 L673.8 865.7 L673.9 866 L673.9 866.3 L674 866.7 L674.1 867.1 L674.2 867.4 L674.3 867.8 L674.5 868.1 L674.6 868.5 L674.8 868.8 L675 869.2 L675.2 869.5 L675.4 869.8 L675.7 870.1 L675.9 870.4 L676.2 870.7 L676.4 871 L676.7 871.2 L677 871.4 L677.2 871.7 L677.5 871.8 L677.8 872 L678.1 872.1 L678.3 872.3 L678.6 872.4 L678.9 872.4 L679.2 872.5 L679.4 872.5 L679.7 872.5 L679.9 872.5 L680.2 872.4 L680.4 872.3 L680.6 872.2" fill="none" stroke="#000" stroke-width="1.3" />
<path d="M678.1 860.8 L677.9 860.9 L677.7 861 L677.6 861.2 L677.4 861.4 L677.3 861.6 L677.2 861.8 L677.1 862.1 L677 862.4 L676.9 862.7 L676.9 863 L676.9 863.3 L676.9 863.6 L676.9 863.9 L676.9 864.3 L677 864.6 L677 865 L677.1 865.3 L677.2 865.7 L677.4 866.1 L677.5 866.4 L677.7 866.8 L677.9 867.1 L678.1 867.4 L678.3 867.8 L678.5 868.1 L678.7 868.4 L679 868.7 L679.2 869 L679.5 869.2 L679.7 869.5 L680 869.7 L680.3 869.9 L680.6 870.1 L680.8 870.3 L681.1 870.4 L681.4 870.5 L681.7 870.6 L681.9 870.7 L682.2 870.8 L682.5 870.8 L682.7 870.8 L683 870.7 L683.2 870.7 L683.4 870.6 L683.6 870.5" fill="none" stroke="#000" stroke-width="1.3" />
<path d="M681.2 859 L681 859.2 L680.8 859.3 L680.6 859.5 L680.5 859.7 L680.3 859.9 L680.2 860.1 L680.1 860.4 L680 860.6 L680 860.9 L679.9 861.2 L679.9 861.5 L679.9 861.9 L679.9 862.2 L680 862.5 L680 862.9 L680.1 863.3 L680.2 863.6 L680.3 864 L680.4 864.3 L680.6 864.7 L680.7 865 L680.9 865.4 L681.1 865.7 L681.3 866.1 L681.5 866.4 L681.8 866.7 L682 867 L682.3 867.3 L682.5 867.5 L682.8 867.8 L683 868 L683.3 868.2 L683.6 868.4 L683.9 868.6 L684.2 868.7 L684.4 868.8 L684.7 868.9 L685 869 L685.3 869 L685.5 869 L685.8 869 L686 869 L686.3 869 L686.5 868.9 L686.7 868.8" fill="none" stroke="#000" stroke-width="1.3" />
<path d="M663.9 861.9 L667.3 860 L667.8 859.7 L668.2 859.6 L668.7 859.5 L669.2 859.4 L669.8 859.4 L670.3 859.4 L670.8 859.5 L671.4 859.7 L672 859.9 L672.6 860.1 L673.1 860.4 L673.7 860.8 L674.3 861.1 L674.9 861.6 L675.4 862 L676 862.6 L676.5 863.1 L677 863.7 L677.5 864.3 L678 864.9 L678.5 865.6 L678.9 866.3 L679.3 867 L679.7 867.7 L680 868.4 L680.3 869.2 L680.6 869.9 L680.8 870.7 L681 871.4 L681.2 872.1 L681.3 872.9 L681.3 873.6 L681.4 874.3 L681.4 874.9 L681.3 875.6 L681.2 876.2 L681.1 876.8 L680.9 877.4 L680.7 877.9 L680.5 878.4 L680.2 878.8 L679.9 879.2 L679.5 879.6 L679.2 879.9 L678.8 880.2 L675.3 882.1 L674.8 882.3 L674.4 882.5 L673.9 882.6 L673.4 882.7 L672.9 882.7 L672.3 882.6 L671.8 882.5 L671.2 882.4 L670.6 882.2 L670 882 L669.5 881.7 L668.9 881.3 L668.3 880.9 L667.7 880.5 L667.2 880 L666.6 879.5 L666.1 879 L665.6 878.4 L665.1 877.8 L664.6 877.2 L664.1 876.5 L663.7 875.8 L663.3 875.1 L662.9 874.4 L662.6 873.6 L662.3 872.9 L662 872.2 L661.8 871.4 L661.6 870.7 L661.5 869.9 L661.4 869.2 L661.3 868.5 L661.2 867.8 L661.3 867.1 L661.3 866.5 L661.4 865.9 L661.5 865.3 L661.7 864.7 L661.9 864.2 L662.1 863.7 L662.4 863.3 L662.7 862.9 L663.1 862.5 L663.4 862.2 L663.9 861.9Z" fill="#fff" stroke="#000" stroke-width="2" />
<ellipse cx="669.6" cy="872" rx="11.6" ry="7" transform="rotate(60.5 669.6 872)" fill="#fff" stroke="#000" stroke-width="2"/>
<path d="M635 885.1 L666.8 867.2 L667 867 L667.2 867 L667.5 866.9 L667.7 866.9 L668 866.9 L668.2 866.9 L668.5 866.9 L668.8 867 L669.1 867.1 L669.3 867.2 L669.6 867.4 L669.9 867.5 L670.2 867.7 L670.5 867.9 L670.7 868.2 L671 868.4 L671.2 868.7 L671.5 868.9 L671.7 869.2 L672 869.6 L672.2 869.9 L672.4 870.2 L672.6 870.5 L672.8 870.9 L672.9 871.2 L673.1 871.6 L673.2 872 L673.3 872.3 L673.4 872.7 L673.5 873 L673.5 873.4 L673.6 873.7 L673.6 874.1 L673.6 874.4 L673.6 874.7 L673.5 875 L673.5 875.3 L673.4 875.6 L673.3 875.8 L673.2 876 L673 876.3 L672.9 876.5 L672.7 876.6 L672.5 876.8 L672.3 876.9 L640.6 894.9 L640.3 895 L640.1 895.1 L639.9 895.1 L639.6 895.1 L639.4 895.1 L639.1 895.1 L638.9 895.1 L638.6 895 L638.3 894.9 L638 894.8 L637.8 894.7 L637.5 894.5 L637.2 894.3 L636.9 894.1 L636.6 893.9 L636.4 893.6 L636.1 893.4 L635.9 893.1 L635.6 892.8 L635.4 892.5 L635.2 892.2 L635 891.8 L634.8 891.5 L634.6 891.1 L634.4 890.8 L634.3 890.4 L634.2 890.1 L634.1 889.7 L634 889.4 L633.9 889 L633.8 888.6 L633.8 888.3 L633.8 888 L633.8 887.6 L633.8 887.3 L633.9 887 L633.9 886.7 L634 886.5 L634.1 886.2 L634.2 886 L634.3 885.8 L634.5 885.6 L634.7 885.4 L634.8 885.3 L635 885.1Z" fill="#fff" stroke="#000" stroke-width="1.8" />
<ellipse cx="637.8" cy="890" rx="5.6" ry="3.4" transform="rotate(60.5 637.8 890)" fill="#fff" stroke="#000" stroke-width="1.8"/>
<path d="M717.4 823.3 L723.2 820.1 L723.9 819.7 L724.7 819.4 L725.5 819.2 L726.4 819.1 L727.2 819.1 L728.1 819.2 L729.1 819.4 L730 819.6 L731 819.9 L731.9 820.3 L732.9 820.8 L733.9 821.4 L734.8 822 L735.8 822.8 L736.7 823.5 L737.7 824.4 L738.6 825.3 L739.4 826.3 L740.3 827.3 L741.1 828.4 L741.8 829.5 L742.5 830.6 L743.2 831.8 L743.8 833 L744.4 834.2 L744.9 835.5 L745.3 836.7 L745.7 838 L746 839.2 L746.3 840.4 L746.5 841.6 L746.6 842.8 L746.7 844 L746.7 845.1 L746.6 846.2 L746.4 847.2 L746.2 848.2 L745.9 849.2 L745.6 850 L745.2 850.9 L744.7 851.6 L744.2 852.3 L743.6 852.9 L743 853.4 L742.3 853.8 L736.6 857.1 L735.8 857.4 L735.1 857.7 L734.2 857.9 L733.4 858 L732.5 858 L731.6 858 L730.7 857.8 L729.7 857.6 L728.8 857.2 L727.8 856.8 L726.8 856.3 L725.9 855.8 L724.9 855.1 L723.9 854.4 L723 853.6 L722.1 852.8 L721.2 851.8 L720.3 850.9 L719.5 849.8 L718.7 848.8 L717.9 847.7 L717.2 846.5 L716.5 845.3 L715.9 844.1 L715.4 842.9 L714.9 841.7 L714.4 840.4 L714 839.2 L713.7 837.9 L713.4 836.7 L713.3 835.5 L713.1 834.3 L713.1 833.2 L713.1 832 L713.2 830.9 L713.3 829.9 L713.5 828.9 L713.8 828 L714.2 827.1 L714.6 826.3 L715 825.5 L715.5 824.9 L716.1 824.3 L716.8 823.8 L717.4 823.3Z" fill="#fff" stroke="#000" stroke-width="2.1" />
<ellipse cx="727" cy="840.2" rx="19.4" ry="11.6" transform="rotate(60.5 727 840.2)" fill="#fff" stroke="#000" stroke-width="2.1"/>
<ellipse cx="727" cy="840.2" rx="17" ry="10.2" transform="rotate(60.5 727 840.2)" fill="none" stroke="#000" stroke-width="1.2"/>
<ellipse cx="727" cy="840.2" rx="14.8" ry="8.9" transform="rotate(60.5 727 840.2)" fill="none" stroke="#000" stroke-width="1.6"/>
<ellipse cx="734.6" cy="848.7" rx="2.4" ry="1.7" transform="rotate(60.5 734.6 848.7)" fill="#fff" stroke="#000" stroke-width="1.5"/>
<ellipse cx="734.7" cy="840.2" rx="2.4" ry="1.7" transform="rotate(60.5 734.7 840.2)" fill="#fff" stroke="#000" stroke-width="1.5"/>
<ellipse cx="729" cy="831.7" rx="2.4" ry="1.7" transform="rotate(60.5 729 831.7)" fill="#fff" stroke="#000" stroke-width="1.5"/>
<ellipse cx="721.8" cy="829.6" rx="2.4" ry="1.7" transform="rotate(60.5 721.8 829.6)" fill="#fff" stroke="#000" stroke-width="1.5"/>
<ellipse cx="718.5" cy="835.5" rx="2.4" ry="1.7" transform="rotate(60.5 718.5 835.5)" fill="#fff" stroke="#000" stroke-width="1.5"/>
<ellipse cx="721.6" cy="844.9" rx="2.4" ry="1.7" transform="rotate(60.5 721.6 844.9)" fill="#fff" stroke="#000" stroke-width="1.5"/>
<ellipse cx="728.7" cy="850.8" rx="2.4" ry="1.7" transform="rotate(60.5 728.7 850.8)" fill="#fff" stroke="#000" stroke-width="1.5"/>
<ellipse cx="727" cy="840.2" rx="8.8" ry="5.3" transform="rotate(60.5 727 840.2)" fill="#fff" stroke="#000" stroke-width="1.7"/>
<ellipse cx="727" cy="840.2" rx="6.6" ry="4" transform="rotate(60.5 727 840.2)" fill="none" stroke="#000" stroke-width="1.2"/>
<ellipse cx="727" cy="840.2" rx="4.6" ry="2.8" transform="rotate(60.5 727 840.2)" fill="none" stroke="#000" stroke-width="1.8"/>
<path d="M860 417.7 L871 411.5 L871.5 411.3 L872.1 411.1 L872.6 410.9 L873.3 410.8 L873.9 410.8 L874.5 410.9 L875.2 411 L875.9 411.2 L876.6 411.4 L877.3 411.7 L878 412.1 L878.7 412.5 L879.4 412.9 L880.1 413.5 L880.8 414 L881.4 414.6 L882.1 415.3 L882.7 416 L883.3 416.7 L883.9 417.5 L884.4 418.3 L884.9 419.1 L885.4 420 L885.9 420.9 L886.3 421.7 L886.6 422.6 L886.9 423.5 L887.2 424.4 L887.5 425.3 L887.6 426.2 L887.8 427.1 L887.9 427.9 L887.9 428.8 L887.9 429.6 L887.8 430.4 L887.7 431.1 L887.6 431.8 L887.4 432.5 L887.1 433.1 L886.8 433.7 L886.5 434.3 L886.1 434.8 L885.7 435.2 L885.3 435.6 L884.8 435.9 L873.8 442.1 L873.3 442.3 L872.7 442.5 L872.1 442.7 L871.5 442.8 L870.9 442.8 L870.2 442.7 L869.6 442.6 L868.9 442.4 L868.2 442.2 L867.5 441.9 L866.8 441.5 L866.1 441.1 L865.4 440.7 L864.7 440.1 L864 439.6 L863.4 439 L862.7 438.3 L862.1 437.6 L861.5 436.9 L860.9 436.1 L860.3 435.3 L859.8 434.5 L859.4 433.6 L858.9 432.7 L858.5 431.9 L858.1 431 L857.8 430.1 L857.5 429.2 L857.3 428.3 L857.1 427.4 L857 426.5 L856.9 425.7 L856.9 424.8 L856.9 424 L856.9 423.2 L857 422.5 L857.2 421.8 L857.4 421.1 L857.6 420.5 L857.9 419.9 L858.3 419.3 L858.6 418.8 L859.1 418.4 L859.5 418 L860 417.7Z" fill="#fff" stroke="#000" stroke-width="0.1" />
<path d="M881 436.5 L881.7 436.6 L882.3 436.6 L883 436.5 L883.6 436.4 L884.1 436.2 L884.7 435.9 L885.2 435.6 L885.6 435.3 L886.1 434.8 L886.4 434.4 L886.8 433.8 L887.1 433.2 L887.4 432.6 L887.6 431.9 L887.7 431.2 L887.8 430.5 L887.9 429.7 L887.9 428.9 L887.9 428 L887.8 427.1 L887.7 426.3 L887.5 425.4 L887.2 424.5 L887 423.6 L886.6 422.7 L886.3 421.8 L885.9 420.9 L885.4 420 L884.9 419.1 L884.4 418.3 L883.9 417.5 L883.3 416.7 L882.7 416 L882 415.3 L881.4 414.6 L880.7 414 L880 413.4 L879.3 412.9 L878.6 412.4 L877.9 412 L877.2 411.7 L876.5 411.4 L875.8 411.1 L875.1 411 L874.4 410.9 L873.8 410.8 L873.2 410.9 L872.5 410.9 L872 411.1 L871.4 411.3 L870.9 411.6 L870.4 411.9 L869.9 412.3 L869.5 412.7 L869.1 413.2 L868.8 413.8 L868.5 414.4" fill="none" stroke="#000" stroke-width="2.1" />
<path d="M878.3 438 L878.9 438.1 L879.6 438.1 L880.2 438 L880.8 437.9 L881.4 437.7 L881.9 437.5 L882.4 437.2 L882.9 436.8 L883.3 436.4 L883.7 435.9 L884.1 435.4 L884.4 434.8 L884.6 434.2 L884.8 433.5 L885 432.8 L885.1 432 L885.2 431.2 L885.2 430.4 L885.1 429.6 L885 428.7 L884.9 427.8 L884.7 426.9 L884.5 426 L884.2 425.1 L883.9 424.2 L883.5 423.3 L883.1 422.4 L882.7 421.5 L882.2 420.7 L881.7 419.8 L881.1 419 L880.5 418.3 L879.9 417.5 L879.3 416.8 L878.6 416.2 L878 415.5 L877.3 415 L876.6 414.4 L875.9 414 L875.2 413.6 L874.5 413.2 L873.8 412.9 L873.1 412.7 L872.4 412.5 L871.7 412.4 L871 412.4 L870.4 412.4 L869.8 412.5 L869.2 412.6 L868.7 412.8 L868.1 413.1 L867.6 413.5 L867.2 413.8 L866.8 414.3 L866.4 414.8 L866.1 415.3 L865.8 416" fill="none" stroke="#000" stroke-width="2.1" />
<path d="M875.5 439.6 L876.2 439.7 L876.8 439.7 L877.5 439.6 L878.1 439.5 L878.6 439.3 L879.2 439 L879.7 438.7 L880.1 438.4 L880.6 437.9 L881 437.5 L881.3 436.9 L881.6 436.3 L881.9 435.7 L882.1 435 L882.2 434.3 L882.4 433.6 L882.4 432.8 L882.4 432 L882.4 431.1 L882.3 430.2 L882.2 429.4 L882 428.5 L881.8 427.6 L881.5 426.7 L881.2 425.8 L880.8 424.9 L880.4 424 L879.9 423.1 L879.4 422.2 L878.9 421.4 L878.4 420.6 L877.8 419.8 L877.2 419.1 L876.5 418.4 L875.9 417.7 L875.2 417.1 L874.5 416.5 L873.8 416 L873.1 415.5 L872.4 415.1 L871.7 414.8 L871 414.5 L870.3 414.2 L869.6 414.1 L869 414 L868.3 413.9 L867.7 414 L867.1 414 L866.5 414.2 L865.9 414.4 L865.4 414.7 L864.9 415 L864.4 415.4 L864 415.8 L863.7 416.3 L863.3 416.9 L863 417.5" fill="none" stroke="#000" stroke-width="2.1" />
<path d="M872.8 441.1 L873.5 441.2 L874.1 441.2 L874.7 441.1 L875.3 441 L875.9 440.8 L876.4 440.6 L876.9 440.3 L877.4 439.9 L877.8 439.5 L878.2 439 L878.6 438.5 L878.9 437.9 L879.1 437.3 L879.3 436.6 L879.5 435.9 L879.6 435.1 L879.7 434.3 L879.7 433.5 L879.7 432.7 L879.6 431.8 L879.4 430.9 L879.2 430 L879 429.1 L878.7 428.2 L878.4 427.3 L878 426.4 L877.6 425.5 L877.2 424.6 L876.7 423.8 L876.2 423 L875.6 422.1 L875 421.4 L874.4 420.6 L873.8 419.9 L873.2 419.3 L872.5 418.6 L871.8 418.1 L871.1 417.5 L870.4 417.1 L869.7 416.7 L869 416.3 L868.3 416 L867.6 415.8 L866.9 415.6 L866.2 415.5 L865.6 415.5 L864.9 415.5 L864.3 415.6 L863.7 415.7 L863.2 415.9 L862.6 416.2 L862.2 416.6 L861.7 416.9 L861.3 417.4 L860.9 417.9 L860.6 418.5 L860.3 419.1" fill="none" stroke="#000" stroke-width="2.1" />
<ellipse cx="866.9" cy="429.9" rx="14" ry="8.4" transform="rotate(60.5 866.9 429.9)" fill="#fff" stroke="#000" stroke-width="2.1"/>
<ellipse cx="866.6" cy="430.2" rx="10.1" ry="6" transform="rotate(60.5 866.6 430.2)" fill="none" stroke="#000" stroke-width="1.9"/>
<clipPath id="sp8669"><ellipse cx="866.9" cy="429.9" rx="10.1" ry="6" transform="rotate(60.5 866.9 429.9)"/></clipPath>
<g clip-path="url(#sp8669)">
<ellipse cx="869.1" cy="428.7" rx="10.1" ry="6" transform="rotate(60.5 869.1 428.7)" fill="none" stroke="#000" stroke-width="1.7"/>
<ellipse cx="871.3" cy="427.4" rx="10.1" ry="6" transform="rotate(60.5 871.3 427.4)" fill="none" stroke="#000" stroke-width="1.7"/>
</g>
<path d="M909.9 393.6 L915.5 390.4 L915.9 390.2 L916.3 390 L916.8 390 L917.2 389.9 L917.7 389.9 L918.1 389.9 L918.6 390 L919.1 390.1 L919.6 390.3 L920.1 390.5 L920.6 390.8 L921.2 391.1 L921.7 391.4 L922.2 391.8 L922.7 392.2 L923.1 392.7 L923.6 393.1 L924.1 393.7 L924.5 394.2 L924.9 394.8 L925.3 395.3 L925.7 395.9 L926.1 396.6 L926.4 397.2 L926.7 397.8 L926.9 398.5 L927.2 399.1 L927.4 399.8 L927.6 400.4 L927.7 401.1 L927.8 401.7 L927.9 402.4 L927.9 403 L927.9 403.6 L927.8 404.1 L927.8 404.7 L927.6 405.2 L927.5 405.7 L927.3 406.1 L927.1 406.6 L926.9 407 L926.6 407.3 L926.3 407.6 L925.9 407.9 L925.6 408.1 L919.9 411.3 L919.5 411.5 L919.1 411.7 L918.7 411.8 L918.3 411.8 L917.8 411.8 L917.3 411.8 L916.8 411.7 L916.3 411.6 L915.8 411.4 L915.3 411.2 L914.8 410.9 L914.3 410.6 L913.8 410.3 L913.3 409.9 L912.8 409.5 L912.3 409.1 L911.8 408.6 L911.4 408.1 L911 407.5 L910.5 407 L910.1 406.4 L909.8 405.8 L909.4 405.2 L909.1 404.5 L908.8 403.9 L908.5 403.2 L908.3 402.6 L908.1 401.9 L907.9 401.3 L907.8 400.6 L907.7 400 L907.6 399.4 L907.6 398.8 L907.6 398.2 L907.6 397.6 L907.7 397.1 L907.8 396.5 L908 396 L908.2 395.6 L908.4 395.1 L908.6 394.8 L908.9 394.4 L909.2 394.1 L909.5 393.8 L909.9 393.6Z" fill="#fff" stroke="#000" stroke-width="1.8" />
<ellipse cx="914.9" cy="402.5" rx="10.2" ry="6.1" transform="rotate(60.5 914.9 402.5)" fill="#fff" stroke="#000" stroke-width="1.8"/>
<path d="M921.4 409.8L927.1 406.6" stroke="#000" stroke-width="1.2" fill="none" />
<path d="M922.2 407L927.9 403.8" stroke="#000" stroke-width="1.2" fill="none" />
<path d="M921.9 403.6L927.6 400.4" stroke="#000" stroke-width="1.2" fill="none" />
<path d="M920.6 400.1L926.2 396.9" stroke="#000" stroke-width="1.2" fill="none" />
<path d="M918.4 396.9L924.1 393.7" stroke="#000" stroke-width="1.2" fill="none" />
<path d="M915.8 394.4L921.4 391.2" stroke="#000" stroke-width="1.2" fill="none" />
<path d="M913 393.2L918.6 390" stroke="#000" stroke-width="1.2" fill="none" />
<path d="M907.1 391.7 L908.3 391 L908.8 390.8 L909.3 390.6 L909.9 390.5 L910.5 390.4 L911.1 390.4 L911.7 390.4 L912.3 390.5 L913 390.7 L913.6 390.9 L914.3 391.2 L914.9 391.5 L915.6 391.9 L916.2 392.4 L916.9 392.9 L917.5 393.4 L918.2 394 L918.8 394.6 L919.4 395.3 L919.9 395.9 L920.5 396.7 L921 397.4 L921.5 398.2 L921.9 399 L922.4 399.8 L922.7 400.7 L923.1 401.5 L923.4 402.4 L923.6 403.2 L923.9 404 L924 404.9 L924.2 405.7 L924.3 406.5 L924.3 407.3 L924.3 408.1 L924.2 408.8 L924.1 409.5 L924 410.2 L923.8 410.8 L923.6 411.4 L923.3 412 L923 412.5 L922.6 412.9 L922.2 413.3 L921.8 413.7 L921.3 414 L920.1 414.7 L919.6 414.9 L919.1 415.1 L918.5 415.2 L917.9 415.3 L917.4 415.3 L916.7 415.3 L916.1 415.2 L915.5 415 L914.8 414.8 L914.1 414.5 L913.5 414.2 L912.8 413.8 L912.2 413.3 L911.5 412.9 L910.9 412.3 L910.3 411.7 L909.6 411.1 L909.1 410.5 L908.5 409.8 L907.9 409 L907.4 408.3 L906.9 407.5 L906.5 406.7 L906.1 405.9 L905.7 405 L905.3 404.2 L905 403.4 L904.8 402.5 L904.6 401.7 L904.4 400.8 L904.3 400 L904.2 399.2 L904.1 398.4 L904.1 397.6 L904.2 396.9 L904.3 396.2 L904.4 395.5 L904.6 394.9 L904.9 394.3 L905.1 393.7 L905.5 393.2 L905.8 392.8 L906.2 392.4 L906.6 392 L907.1 391.7Z" fill="#fff" stroke="#000" stroke-width="1.8" />
<ellipse cx="913.6" cy="403.2" rx="13.2" ry="7.9" transform="rotate(60.5 913.6 403.2)" fill="#fff" stroke="#000" stroke-width="1.8"/>
<path d="M895.8 410.1 L911.5 401.2 L911.7 401.1 L911.8 401.1 L912 401 L912.2 401 L912.4 401 L912.6 401 L912.8 401 L912.9 401 L913.1 401 L913.3 401.1 L913.5 401.2 L913.7 401.3 L913.9 401.4 L914.1 401.5 L914.3 401.6 L914.4 401.8 L914.6 401.9 L914.8 402.1 L914.9 402.2 L915.1 402.4 L915.2 402.6 L915.3 402.8 L915.5 403 L915.6 403.2 L915.7 403.5 L915.7 403.7 L915.8 403.9 L915.9 404.1 L915.9 404.3 L915.9 404.6 L916 404.8 L916 405 L916 405.2 L915.9 405.4 L915.9 405.6 L915.8 405.8 L915.8 406 L915.7 406.2 L915.6 406.4 L915.5 406.5 L915.4 406.7 L915.3 406.8 L915.2 406.9 L915 407 L914.9 407.1 L899.2 416 L899 416.1 L898.9 416.1 L898.7 416.2 L898.5 416.2 L898.3 416.3 L898.1 416.3 L898 416.2 L897.8 416.2 L897.6 416.2 L897.4 416.1 L897.2 416 L897 416 L896.8 415.9 L896.6 415.7 L896.4 415.6 L896.3 415.5 L896.1 415.3 L895.9 415.1 L895.8 415 L895.6 414.8 L895.5 414.6 L895.4 414.4 L895.2 414.2 L895.1 414 L895 413.8 L895 413.5 L894.9 413.3 L894.8 413.1 L894.8 412.9 L894.8 412.6 L894.7 412.4 L894.7 412.2 L894.8 412 L894.8 411.8 L894.8 411.6 L894.9 411.4 L894.9 411.2 L895 411 L895.1 410.8 L895.2 410.7 L895.3 410.5 L895.4 410.4 L895.6 410.3 L895.7 410.2 L895.8 410.1Z" fill="#fff" stroke="#000" stroke-width="1.7" />
<ellipse cx="897.5" cy="413" rx="3.4" ry="2.5" transform="rotate(60.5 897.5 413)" fill="#fff" stroke="#000" stroke-width="1.7"/>
<path d="M897.8 409 L897.6 409.1 L897.5 409.2 L897.3 409.3 L897.2 409.5 L897.1 409.6 L897 409.8 L896.9 409.9 L896.8 410.1 L896.8 410.3 L896.7 410.5 L896.7 410.7 L896.7 410.9 L896.7 411.1 L896.7 411.3 L896.7 411.6 L896.7 411.8 L896.8 412 L896.8 412.2 L896.9 412.5 L897 412.7 L897.1 412.9 L897.2 413.1 L897.3 413.3 L897.4 413.5 L897.5 413.7 L897.7 413.9 L897.8 414.1 L898 414.2 L898.2 414.4 L898.4 414.5 L898.5 414.7 L898.7 414.8 L898.9 414.9 L899.1 415 L899.3 415 L899.5 415.1 L899.7 415.1 L899.9 415.2 L900.1 415.2 L900.3 415.2 L900.4 415.1 L900.6 415.1 L900.8 415.1 L901 415 L901.1 414.9" fill="none" stroke="#000" stroke-width="1.2" />
<path d="M899.7 407.9 L899.5 408 L899.4 408.1 L899.3 408.2 L899.1 408.4 L899 408.5 L898.9 408.7 L898.8 408.9 L898.8 409 L898.7 409.2 L898.6 409.4 L898.6 409.6 L898.6 409.8 L898.6 410 L898.6 410.3 L898.6 410.5 L898.6 410.7 L898.7 410.9 L898.7 411.2 L898.8 411.4 L898.9 411.6 L899 411.8 L899.1 412 L899.2 412.2 L899.3 412.4 L899.5 412.6 L899.6 412.8 L899.8 413 L899.9 413.1 L900.1 413.3 L900.3 413.4 L900.4 413.6 L900.6 413.7 L900.8 413.8 L901 413.9 L901.2 413.9 L901.4 414 L901.6 414 L901.8 414.1 L902 414.1 L902.2 414.1 L902.3 414.1 L902.5 414 L902.7 414 L902.9 413.9 L903 413.8" fill="none" stroke="#000" stroke-width="1.2" />
<path d="M901.6 406.8 L901.4 406.9 L901.3 407 L901.2 407.2 L901 407.3 L900.9 407.4 L900.8 407.6 L900.7 407.8 L900.7 407.9 L900.6 408.1 L900.6 408.3 L900.5 408.5 L900.5 408.7 L900.5 409 L900.5 409.2 L900.5 409.4 L900.5 409.6 L900.6 409.8 L900.6 410.1 L900.7 410.3 L900.8 410.5 L900.9 410.7 L901 410.9 L901.1 411.1 L901.2 411.3 L901.4 411.5 L901.5 411.7 L901.7 411.9 L901.8 412.1 L902 412.2 L902.2 412.4 L902.4 412.5 L902.5 412.6 L902.7 412.7 L902.9 412.8 L903.1 412.9 L903.3 412.9 L903.5 413 L903.7 413 L903.9 413 L904.1 413 L904.3 413 L904.4 412.9 L904.6 412.9 L904.8 412.8 L904.9 412.8" fill="none" stroke="#000" stroke-width="1.2" />
<path d="M903.5 405.7 L903.4 405.8 L903.2 406 L903.1 406.1 L903 406.2 L902.8 406.4 L902.7 406.5 L902.7 406.7 L902.6 406.9 L902.5 407.1 L902.5 407.2 L902.4 407.5 L902.4 407.7 L902.4 407.9 L902.4 408.1 L902.4 408.3 L902.5 408.5 L902.5 408.8 L902.6 409 L902.6 409.2 L902.7 409.4 L902.8 409.6 L902.9 409.9 L903 410.1 L903.1 410.3 L903.3 410.5 L903.4 410.6 L903.6 410.8 L903.8 411 L903.9 411.1 L904.1 411.3 L904.3 411.4 L904.5 411.5 L904.7 411.6 L904.8 411.7 L905 411.8 L905.2 411.8 L905.4 411.9 L905.6 411.9 L905.8 411.9 L906 411.9 L906.2 411.9 L906.4 411.9 L906.5 411.8 L906.7 411.7 L906.9 411.7" fill="none" stroke="#000" stroke-width="1.2" />
<path d="M905.4 404.7 L905.3 404.8 L905.1 404.9 L905 405 L904.9 405.1 L904.8 405.3 L904.7 405.4 L904.6 405.6 L904.5 405.8 L904.4 406 L904.4 406.2 L904.4 406.4 L904.3 406.6 L904.3 406.8 L904.3 407 L904.3 407.2 L904.4 407.5 L904.4 407.7 L904.5 407.9 L904.5 408.1 L904.6 408.3 L904.7 408.6 L904.8 408.8 L904.9 409 L905.1 409.2 L905.2 409.4 L905.3 409.6 L905.5 409.7 L905.7 409.9 L905.8 410.1 L906 410.2 L906.2 410.3 L906.4 410.4 L906.6 410.5 L906.8 410.6 L907 410.7 L907.1 410.8 L907.3 410.8 L907.5 410.8 L907.7 410.8 L907.9 410.8 L908.1 410.8 L908.3 410.8 L908.4 410.7 L908.6 410.7 L908.8 410.6" fill="none" stroke="#000" stroke-width="1.2" />
<path d="M907.3 403.6 L907.2 403.7 L907 403.8 L906.9 403.9 L906.8 404 L906.7 404.2 L906.6 404.3 L906.5 404.5 L906.4 404.7 L906.4 404.9 L906.3 405.1 L906.3 405.3 L906.2 405.5 L906.2 405.7 L906.2 405.9 L906.3 406.1 L906.3 406.4 L906.3 406.6 L906.4 406.8 L906.5 407 L906.5 407.3 L906.6 407.5 L906.7 407.7 L906.9 407.9 L907 408.1 L907.1 408.3 L907.3 408.5 L907.4 408.6 L907.6 408.8 L907.8 409 L907.9 409.1 L908.1 409.2 L908.3 409.4 L908.5 409.5 L908.7 409.5 L908.9 409.6 L909.1 409.7 L909.3 409.7 L909.4 409.7 L909.6 409.8 L909.8 409.8 L910 409.7 L910.2 409.7 L910.4 409.6 L910.5 409.6 L910.7 409.5" fill="none" stroke="#000" stroke-width="1.2" />
<path d="M909.3 402.5 L909.1 402.6 L909 402.7 L908.8 402.8 L908.7 403 L908.6 403.1 L908.5 403.3 L908.4 403.4 L908.3 403.6 L908.3 403.8 L908.2 404 L908.2 404.2 L908.2 404.4 L908.1 404.6 L908.1 404.8 L908.2 405.1 L908.2 405.3 L908.2 405.5 L908.3 405.7 L908.4 406 L908.4 406.2 L908.5 406.4 L908.6 406.6 L908.8 406.8 L908.9 407 L909 407.2 L909.2 407.4 L909.3 407.6 L909.5 407.7 L909.7 407.9 L909.8 408 L910 408.2 L910.2 408.3 L910.4 408.4 L910.6 408.5 L910.8 408.5 L911 408.6 L911.2 408.6 L911.4 408.7 L911.6 408.7 L911.7 408.7 L911.9 408.6 L912.1 408.6 L912.3 408.6 L912.4 408.5 L912.6 408.4" fill="none" stroke="#000" stroke-width="1.2" />
<path d="M871.3 224 L870 268.5 A7.6 3.4 0 0 0 885.2 268.5 L886.5 224" fill="#fff" stroke="#000" stroke-width="2" />
<path d="M871.3 224 A7.6 3.2 0 0 0 886.5 224" fill="none" stroke="#000" stroke-width="1.6" />
<path d="M871.6 226.5 A7.6 3.2 0 0 0 886.2 226.5" fill="none" stroke="#000" stroke-width="1.2" />
<path d="M873.4 178 L872.4 224 A6.8 3.1 0 0 0 886 224 L887 178" fill="#fff" stroke="#000" stroke-width="2" />
<path d="M872.8 156 L872.6 178.5 A7.9 3.6 0 0 0 888.4 178.5 L888.6 156" fill="#fff" stroke="#000" stroke-width="2" />
<path d="M872.7 171 A7.9 3 0 0 0 888.5 171" fill="none" stroke="#000" stroke-width="1.6" />
<path d="M872.7 174.6 A7.9 3 0 0 0 888.5 174.6" fill="none" stroke="#000" stroke-width="1.6" />
<path d="M820.5 133.7 L825.1 129.1 L831.4 126.6 L840.1 131.4 L848.3 136.2 L858.4 143.9 L864.7 146.6 L869.3 144.5 L873.9 146 L877.5 143.9 L883 143 L888.5 144.2 L892.1 147.4 L892.8 150.6 L890.7 153.8 L887.6 155.4 L880.3 155.8 L873.9 160.1 L870.2 162.7 L861.1 160.1 L849.2 156 L841.5 152.1 L836.5 152.7 L828.2 148.5 L820.5 144.6Z" fill="#fff" stroke="#000" stroke-width="2.1" />
<path d="M873.9 146 L874.3 150.1 L878 153.9 L880.3 155.8" fill="none" stroke="#000" stroke-width="1.7" />
<ellipse cx="882.8" cy="148.8" rx="4.6" ry="2.7" transform="rotate(0 882.8 148.8)" fill="none" stroke="#000" stroke-width="1.8"/>
<path d="M878 153.9 L883 152.1 L887.6 155.4" fill="none" stroke="#000" stroke-width="1.6" />
<path d="M820.5 133.7 L837.4 142.8 L841.5 152.1" fill="none" stroke="#000" stroke-width="1.8" />
<path d="M823.2 141.9 L829.3 139.7 L837.8 144.5 L836 151.5 L823.2 145.1Z" fill="#fff" stroke="#000" stroke-width="1.7" />
<path d="M824.6 142.8 L824.6 145.7" fill="none" stroke="#000" stroke-width="1.5" />
<path d="M841.5 152.1 L852.9 153.9 L868.4 145.5" fill="none" stroke="#000" stroke-width="1.6" />
<path d="M852.9 153.9 L873 160.1" fill="none" stroke="#000" stroke-width="1.6" />
<path d="M842.7 148.2 A8.6 4.8 0 0 0 858.7 149.7" fill="none" stroke="#000" stroke-width="3.2" />
<path d="M843.7 141.7 L843.7 146.7 A7.4 4.2 0 0 0 858.5 146.7 L858.5 141.7" fill="#fff" stroke="#000" stroke-width="1.8" />
<ellipse cx="851.1" cy="141.7" rx="7.4" ry="4.2" transform="rotate(0 851.1 141.7)" fill="#fff" stroke="#000" stroke-width="1.8"/>
<path d="M154.8 106.4 L162.5 104.5 L162.9 116.3 L212.5 144.2 L211.8 174.9 L206 176.5 L206.5 146.9 L156.7 117.4Z" fill="#000" stroke="#000" stroke-width="1.2" />
<path d="M152.8 155.7 L156.1 159 L161.1 157.9 L160.7 152.4 L154.8 147.8Z" fill="#000" stroke="#000" stroke-width="1.2" />
<path d="M140.8 123.4 L155.6 106.4 L156.7 117.4 L206.5 146.7 L206 176.3 L155.3 150.8 L153.4 156.8Z" fill="#fff" stroke="#000" stroke-width="1.8" />
<text transform="matrix(0.875 0.47 -0.06 1 152 138.4)" font-size="25.5" font-weight="bold" textLength="56" lengthAdjust="spacingAndGlyphs" stroke="#000" stroke-width="0.7" x="0" y="0">FRONT</text>
<path d="M579.5 193.2 L575.9 191.4 L572.3 190 L568.7 188.7 L565.2 187.7 L561.7 186.9 L558.3 186.4 L555 186.2 L551.8 186.2 L548.6 186.4 L545.6 187 L542.6 187.7 L508.6 206.9 L511.6 206.1 L514.6 205.6 L517.8 205.3 L521 205.3 L524.3 205.6 L527.7 206.1 L531.2 206.8 L534.7 207.8 L538.3 209.1 L541.9 210.6 L545.5 212.3Z" fill="#fff" stroke="#000" stroke-width="1.8" />
<path d="M579.8 197 L576.3 195.3 L572.9 193.9 L569.5 192.7 L566.1 191.7 L562.8 191 L559.5 190.5 L556.4 190.3 L553.3 190.3 L550.3 190.5 L547.4 191 L544.5 191.7" fill="none" stroke="#000" stroke-width="1.3" />
<path d="M542.6 187.7 L544.5 191.7 L515.8 207.9" fill="none" stroke="#000" stroke-width="1.3" />
<path d="M621.6 230.2 L618.5 226.1 L615.2 222.2 L611.8 218.5 L608.4 214.9 L604.9 211.5 L601.3 208.3 L597.8 205.2 L594.1 202.4 L560.2 221.5 L563.8 224.4 L567.4 227.4 L570.9 230.6 L574.4 234 L577.8 237.6 L581.2 241.4 L584.5 245.3 L587.7 249.3Z" fill="#fff" stroke="#000" stroke-width="1.8" />
<path d="M620.1 232.3 L617 228.5 L613.9 224.7 L610.7 221.2 L607.4 217.7 L604 214.5 L600.7 211.4 L597.2 208.5 L593.8 205.8" fill="none" stroke="#000" stroke-width="1.3" />
<path d="M594.1 202.4 L593.8 205.8 L565 222" fill="none" stroke="#000" stroke-width="1.3" />
<path d="M645 271.2 L643 266.4 L640.8 261.6 L638.4 256.9 L636 252.2 L633.3 247.6 L599.4 266.8 L602 271.3 L604.5 276 L606.8 280.7 L609 285.5 L611 290.3Z" fill="#fff" stroke="#000" stroke-width="1.8" />
<path d="M642.4 271.5 L640.4 266.9 L638.3 262.3 L636.1 257.8 L633.7 253.4 L631.2 249" fill="none" stroke="#000" stroke-width="1.3" />
<path d="M633.3 247.6 L631.2 249 L602.5 265.2" fill="none" stroke="#000" stroke-width="1.3" />
<path d="M655.2 310.7 L654.6 306.2 L653.9 301.5 L653 296.8 L651.9 292 L650.6 287.3 L616.6 306.4 L617.9 311.2 L619 315.9 L619.9 320.7 L620.7 325.3 L621.2 329.9Z" fill="#fff" stroke="#000" stroke-width="1.8" />
<path d="M652.1 309.3 L651.6 304.9 L650.9 300.5 L650 296 L648.9 291.4 L647.7 286.9" fill="none" stroke="#000" stroke-width="1.3" />
<path d="M650.6 287.3 L647.7 286.9 L618.9 303.1" fill="none" stroke="#000" stroke-width="1.3" />
<path d="M651.6 346.4 L652.7 343.1 L653.7 339.6 L654.5 335.9 L655.1 332 L655.5 328 L621.5 347.1 L621.1 351.1 L620.5 355 L619.7 358.7 L618.8 362.2 L617.6 365.6Z" fill="#fff" stroke="#000" stroke-width="1.8" />
<path d="M648.7 343.4 L649.8 340.2 L650.7 336.8 L651.4 333.3 L652 329.6 L652.4 325.8" fill="none" stroke="#000" stroke-width="1.3" />
<path d="M655.5 328 L652.4 325.8 L623.6 342" fill="none" stroke="#000" stroke-width="1.3" />
<path d="M612.9 396.3 L617.9 401.5 L619.1 400.8 L617 393.8 L618.1 393 L623.3 397.8 L624.4 396.8 L621.8 389.8 L622.8 388.8 L628.1 393.1 L629 391.9 L626.1 384.9 L626.9 383.8 L632.2 387.5 L633 386.1 L629.6 379.3 L630.3 377.9 L635.7 381 L636.3 379.5 L632.6 372.8 L633.1 371.3 L638.4 373.8 L638.9 372.1 L634.8 365.7 L635.2 364 L640.4 365.9 L640.8 364.1 L636.4 357.9 L636.6 356.1 L641.7 357.3 L641.9 355.3 L637.2 349.5 L637.3 347.6 L642.2 348.2 L642.2 346.1 L637.3 340.6 L637.2 338.6 L641.9 338.5 L641.8 336.4 L636.7 331.3 L636.5 329.2 L640.9 328.5 L640.6 326.2 L635.4 321.7 L635 319.6 L639.1 318.2 L638.6 315.9 L633.3 311.9 L632.8 309.7 L636.5 307.6 L635.9 305.3 L630.6 301.8 L629.9 299.6 L633.3 296.9 L632.5 294.6 L627.2 291.8 L626.3 289.5 L629.3 286.2 L628.4 283.9 L623.1 281.7 L622.1 279.5 L624.7 275.6 L623.6 273.3 L618.5 271.8 L617.4 269.6 L619.5 265.2 L618.3 262.9 L613.3 262 L612.1 259.9 L613.7 255 L612.4 252.8 L607.6 252.6 L606.3 250.6 L607.4 245.2 L606 243.1 L601.4 243.5 L600 241.6 L600.7 235.8 L599.1 233.8 L594.8 234.9 L593.4 233.1 L593.5 227 L591.9 225.1 L587.9 226.9 L586.4 225.2 L586 218.8 L584.3 217.1 L580.8 219.5 L579.1 217.9 L578.3 211.2 L576.6 209.7 L573.4 212.7 L571.7 211.3 L570.4 204.5 L568.6 203.1 L565.8 206.7 L564.1 205.5 L562.3 198.5 L560.5 197.3 L558.2 201.5 L556.5 200.4 L554.2 193.4 L552.4 192.4 L550.5 197.1 L548.9 196.2 L546.1 189.2 L544.4 188.4 L543 193.6 L541.3 192.9 L538.1 186 L536.4 185.4 L535.5 191 L533.9 190.6 L530.3 183.8 L528.7 183.4 L528.3 189.4 L526.7 189.1 L522.8 182.5 L521.2 182.4 L521.3 188.7 L519.8 188.7 L515.5 182.3 L514 182.4 L514.6 188.9 L513.2 189.1 L508.7 183.1 L507.2 183.4 L508.3 190.2 L507 190.6 L502.2 184.9 L500.9 185.4 L502.5 192.4 L501.3 193 L496.3 187.7 L495 188.5 L497.1 195.5 L496 196.3 L490.9 191.5 L489.8 192.4 L492.3 199.5 L491.3 200.5 L486.1 196.2 L485.1 197.3 L488.1 204.3 L487.3 205.5 L482 201.8 L481.1 203.1 L484.5 210 L483.8 211.4 L478.5 208.2 L477.8 209.7 L481.6 216.4 L481 218 L475.7 215.4 L475.2 217.1 L479.3 223.6 L478.9 225.3 L473.7 223.4 L473.4 225.2 L477.8 231.4 L477.5 233.2 L472.5 231.9 L472.3 233.9 L476.9 239.8 L476.9 241.7 L472 241.1 L472 243.2 L476.8 248.6 L476.9 250.6 L472.2 250.7 L472.4 252.9 L477.5 257.9 L477.7 260 L473.3 260.8 L473.6 263 L478.8 267.5 L479.2 269.7 L475.1 271.1 L475.6 273.4 L480.9 277.4 L481.4 279.6 L477.6 281.6 L478.3 284 L483.6 287.4 L484.3 289.6 L480.9 292.3 L481.7 294.7 L487 297.5 L487.8 299.7 L484.8 303 L485.8 305.4 L491 307.5 L492 309.7 L489.4 313.6 L490.5 315.9 L495.7 317.5 L496.8 319.7 L494.7 324.1 L495.9 326.3 L500.9 327.2 L502.1 329.3 L500.5 334.2 L501.8 336.4 L506.6 336.7 L507.9 338.7 L506.8 344.1 L508.2 346.2 L512.8 345.7 L514.2 347.6 L513.5 353.4 L515 355.4 L519.3 354.3 L520.8 356.1 L520.7 362.3 L522.3 364.1 L526.2 362.4 L527.8 364.1 L528.1 370.5 L529.8 372.2 L533.4 369.8 L535 371.4 L535.9 378 L537.6 379.6 L540.8 376.6 L542.5 378 L543.8 384.8 L545.6 386.2 L548.4 382.6 L550 383.8 L551.9 390.8 L553.6 392 L556 387.8 L557.7 388.8 L560 395.9 L561.7 396.9 L563.6 392.2 L565.3 393 L568 400 L569.8 400.8 L571.2 395.7 L572.8 396.3 L576 403.3 L577.7 403.8 L578.6 398.3 L580.3 398.7 L583.8 405.5 L585.5 405.9 L585.9 399.9 L587.5 400.1 L591.4 406.7 L593 406.9 L592.9 400.6 L594.4 400.6 L598.6 407 L600.2 406.9 L599.6 400.3 L601 400.1 L605.5 406.2 L607 405.8 L605.8 399.1 L607.2 398.7 L611.9 404.3 L613.3 403.8 L611.7 396.9Z" fill="#fff" stroke="#000" stroke-width="2" />
<path d="M469.6 212.7 L464.3 208.5 L486.1 196.2 L491.3 200.5Z" fill="#fff" stroke="#000" stroke-width="1.5" />
<path d="M463.4 209.6 L466.3 216.6 L488.1 204.3 L485.1 197.3Z" fill="#fff" stroke="#000" stroke-width="1.5" />
<path d="M464.3 208.5 L463.4 209.6 L485.1 197.3 L486.1 196.2Z" fill="#fff" stroke="#000" stroke-width="1.5" />
<path d="M579.2 412.4 L583.7 418.4 L605.5 406.2 L601 400.1Z" fill="#fff" stroke="#000" stroke-width="1.5" />
<path d="M585.2 418.1 L584.1 411.3 L605.8 399.1 L607 405.8Z" fill="#fff" stroke="#000" stroke-width="1.5" />
<path d="M583.7 418.4 L585.2 418.1 L607 405.8 L605.5 406.2Z" fill="#fff" stroke="#000" stroke-width="1.5" />
<path d="M474.2 208.5 L469.1 203.7 L490.9 191.5 L496 196.3Z" fill="#fff" stroke="#000" stroke-width="1.5" />
<path d="M468 204.7 L470.5 211.7 L492.3 199.5 L489.8 192.4Z" fill="#fff" stroke="#000" stroke-width="1.5" />
<path d="M469.1 203.7 L468 204.7 L489.8 192.4 L490.9 191.5Z" fill="#fff" stroke="#000" stroke-width="1.5" />
<path d="M585.4 410.9 L590.2 416.6 L611.9 404.3 L607.2 398.7Z" fill="#fff" stroke="#000" stroke-width="1.5" />
<path d="M591.5 416.1 L589.9 409.2 L611.7 396.9 L613.3 403.8Z" fill="#fff" stroke="#000" stroke-width="1.5" />
<path d="M590.2 416.6 L591.5 416.1 L613.3 403.8 L611.9 404.3Z" fill="#fff" stroke="#000" stroke-width="1.5" />
<path d="M479.5 205.2 L474.5 200 L496.3 187.7 L501.3 193Z" fill="#fff" stroke="#000" stroke-width="1.5" />
<path d="M473.3 200.7 L475.4 207.7 L497.1 195.5 L495 188.5Z" fill="#fff" stroke="#000" stroke-width="1.5" />
<path d="M474.5 200 L473.3 200.7 L495 188.5 L496.3 187.7Z" fill="#fff" stroke="#000" stroke-width="1.5" />
<path d="M591.1 408.6 L596.1 413.8 L617.9 401.5 L612.9 396.3Z" fill="#fff" stroke="#000" stroke-width="1.5" />
<path d="M597.3 413.1 L595.2 406.1 L617 393.8 L619.1 400.8Z" fill="#fff" stroke="#000" stroke-width="1.5" />
<path d="M596.1 413.8 L597.3 413.1 L619.1 400.8 L617.9 401.5Z" fill="#fff" stroke="#000" stroke-width="1.5" />
<path d="M485.2 202.9 L480.4 197.2 L502.2 184.9 L507 190.6Z" fill="#fff" stroke="#000" stroke-width="1.5" />
<path d="M479.1 197.7 L480.7 204.6 L502.5 192.4 L500.9 185.4Z" fill="#fff" stroke="#000" stroke-width="1.5" />
<path d="M480.4 197.2 L479.1 197.7 L500.9 185.4 L502.2 184.9Z" fill="#fff" stroke="#000" stroke-width="1.5" />
<path d="M596.4 405.3 L601.5 410.1 L623.3 397.8 L618.1 393Z" fill="#fff" stroke="#000" stroke-width="1.5" />
<path d="M602.6 409.1 L600.1 402.1 L621.8 389.8 L624.4 396.8Z" fill="#fff" stroke="#000" stroke-width="1.5" />
<path d="M601.5 410.1 L602.6 409.1 L624.4 396.8 L623.3 397.8Z" fill="#fff" stroke="#000" stroke-width="1.5" />
<path d="M491.4 201.4 L486.9 195.4 L508.7 183.1 L513.2 189.1Z" fill="#fff" stroke="#000" stroke-width="1.5" />
<path d="M485.4 195.7 L486.5 202.5 L508.3 190.2 L507.2 183.4Z" fill="#fff" stroke="#000" stroke-width="1.5" />
<path d="M486.9 195.4 L485.4 195.7 L507.2 183.4 L508.7 183.1Z" fill="#fff" stroke="#000" stroke-width="1.5" />
<path d="M601 401.1 L606.3 405.3 L628.1 393.1 L622.8 388.8Z" fill="#fff" stroke="#000" stroke-width="1.5" />
<path d="M607.2 404.2 L604.3 397.2 L626.1 384.9 L629 391.9Z" fill="#fff" stroke="#000" stroke-width="1.5" />
<path d="M606.3 405.3 L607.2 404.2 L629 391.9 L628.1 393.1Z" fill="#fff" stroke="#000" stroke-width="1.5" />
<path d="M498 200.9 L493.8 194.6 L515.5 182.3 L519.8 188.7Z" fill="#fff" stroke="#000" stroke-width="1.5" />
<path d="M492.2 194.7 L492.8 201.2 L514.6 188.9 L514 182.4Z" fill="#fff" stroke="#000" stroke-width="1.5" />
<path d="M493.8 194.6 L492.2 194.7 L514 182.4 L515.5 182.3Z" fill="#fff" stroke="#000" stroke-width="1.5" />
<path d="M605.1 396 L610.4 399.8 L632.2 387.5 L626.9 383.8Z" fill="#fff" stroke="#000" stroke-width="1.5" />
<path d="M611.2 398.4 L607.9 391.5 L629.6 379.3 L633 386.1Z" fill="#fff" stroke="#000" stroke-width="1.5" />
<path d="M610.4 399.8 L611.2 398.4 L633 386.1 L632.2 387.5Z" fill="#fff" stroke="#000" stroke-width="1.5" />
<path d="M504.9 201.4 L501 194.8 L522.8 182.5 L526.7 189.1Z" fill="#fff" stroke="#000" stroke-width="1.5" />
<path d="M499.4 194.7 L499.5 200.9 L521.3 188.7 L521.2 182.4Z" fill="#fff" stroke="#000" stroke-width="1.5" />
<path d="M501 194.8 L499.4 194.7 L521.2 182.4 L522.8 182.5Z" fill="#fff" stroke="#000" stroke-width="1.5" />
<path d="M608.6 390.2 L613.9 393.3 L635.7 381 L630.3 377.9Z" fill="#fff" stroke="#000" stroke-width="1.5" />
<path d="M614.6 391.8 L610.8 385.1 L632.6 372.8 L636.3 379.5Z" fill="#fff" stroke="#000" stroke-width="1.5" />
<path d="M613.9 393.3 L614.6 391.8 L636.3 379.5 L635.7 381Z" fill="#fff" stroke="#000" stroke-width="1.5" />
<path d="M512.1 202.8 L508.6 196 L530.3 183.8 L533.9 190.6Z" fill="#fff" stroke="#000" stroke-width="1.5" />
<path d="M506.9 195.7 L506.5 201.6 L528.3 189.4 L528.7 183.4Z" fill="#fff" stroke="#000" stroke-width="1.5" />
<path d="M508.6 196 L506.9 195.7 L528.7 183.4 L530.3 183.8Z" fill="#fff" stroke="#000" stroke-width="1.5" />
<path d="M611.4 383.6 L616.6 386.1 L638.4 373.8 L633.1 371.3Z" fill="#fff" stroke="#000" stroke-width="1.5" />
<path d="M617.2 384.4 L613.1 377.9 L634.8 365.7 L638.9 372.1Z" fill="#fff" stroke="#000" stroke-width="1.5" />
<path d="M616.6 386.1 L617.2 384.4 L638.9 372.1 L638.4 373.8Z" fill="#fff" stroke="#000" stroke-width="1.5" />
<path d="M519.5 205.2 L516.4 198.3 L538.1 186 L541.3 192.9Z" fill="#fff" stroke="#000" stroke-width="1.5" />
<path d="M514.6 197.7 L513.7 203.3 L535.5 191 L536.4 185.4Z" fill="#fff" stroke="#000" stroke-width="1.5" />
<path d="M516.4 198.3 L514.6 197.7 L536.4 185.4 L538.1 186Z" fill="#fff" stroke="#000" stroke-width="1.5" />
<path d="M613.5 376.3 L618.7 378.2 L640.4 365.9 L635.2 364Z" fill="#fff" stroke="#000" stroke-width="1.5" />
<path d="M619 376.3 L614.6 370.1 L636.4 357.9 L640.8 364.1Z" fill="#fff" stroke="#000" stroke-width="1.5" />
<path d="M618.7 378.2 L619 376.3 L640.8 364.1 L640.4 365.9Z" fill="#fff" stroke="#000" stroke-width="1.5" />
<path d="M527.1 208.5 L524.3 201.5 L546.1 189.2 L548.9 196.2Z" fill="#fff" stroke="#000" stroke-width="1.5" />
<path d="M522.6 200.7 L521.2 205.9 L543 193.6 L544.4 188.4Z" fill="#fff" stroke="#000" stroke-width="1.5" />
<path d="M524.3 201.5 L522.6 200.7 L544.4 188.4 L546.1 189.2Z" fill="#fff" stroke="#000" stroke-width="1.5" />
<path d="M614.8 368.3 L619.9 369.6 L641.7 357.3 L636.6 356.1Z" fill="#fff" stroke="#000" stroke-width="1.5" />
<path d="M620.1 367.6 L615.4 361.8 L637.2 349.5 L641.9 355.3Z" fill="#fff" stroke="#000" stroke-width="1.5" />
<path d="M619.9 369.6 L620.1 367.6 L641.9 355.3 L641.7 357.3Z" fill="#fff" stroke="#000" stroke-width="1.5" />
<path d="M534.7 212.7 L532.4 205.7 L554.2 193.4 L556.5 200.4Z" fill="#fff" stroke="#000" stroke-width="1.5" />
<path d="M530.6 204.7 L528.8 209.3 L550.5 197.1 L552.4 192.4Z" fill="#fff" stroke="#000" stroke-width="1.5" />
<path d="M532.4 205.7 L530.6 204.7 L552.4 192.4 L554.2 193.4Z" fill="#fff" stroke="#000" stroke-width="1.5" />
<path d="M615.5 359.9 L620.4 360.4 L642.2 348.2 L637.3 347.6Z" fill="#fff" stroke="#000" stroke-width="1.5" />
<path d="M620.4 358.4 L615.5 352.9 L637.3 340.6 L642.2 346.1Z" fill="#fff" stroke="#000" stroke-width="1.5" />
<path d="M620.4 360.4 L620.4 358.4 L642.2 346.1 L642.2 348.2Z" fill="#fff" stroke="#000" stroke-width="1.5" />
<path d="M542.4 217.7 L540.5 210.8 L562.3 198.5 L564.1 205.5Z" fill="#fff" stroke="#000" stroke-width="1.5" />
<path d="M538.7 209.6 L536.4 213.7 L558.2 201.5 L560.5 197.3Z" fill="#fff" stroke="#000" stroke-width="1.5" />
<path d="M540.5 210.8 L538.7 209.6 L560.5 197.3 L562.3 198.5Z" fill="#fff" stroke="#000" stroke-width="1.5" />
<path d="M615.5 350.9 L620.1 350.8 L641.9 338.5 L637.2 338.6Z" fill="#fff" stroke="#000" stroke-width="1.5" />
<path d="M620 348.6 L614.9 343.6 L636.7 331.3 L641.8 336.4Z" fill="#fff" stroke="#000" stroke-width="1.5" />
<path d="M620.1 350.8 L620 348.6 L641.8 336.4 L641.9 338.5Z" fill="#fff" stroke="#000" stroke-width="1.5" />
<path d="M549.9 223.6 L548.6 216.7 L570.4 204.5 L571.7 211.3Z" fill="#fff" stroke="#000" stroke-width="1.5" />
<path d="M546.8 215.3 L544 218.9 L565.8 206.7 L568.6 203.1Z" fill="#fff" stroke="#000" stroke-width="1.5" />
<path d="M548.6 216.7 L546.8 215.3 L568.6 203.1 L570.4 204.5Z" fill="#fff" stroke="#000" stroke-width="1.5" />
<path d="M614.7 341.5 L619.1 340.8 L640.9 328.5 L636.5 329.2Z" fill="#fff" stroke="#000" stroke-width="1.5" />
<path d="M618.8 338.5 L613.6 334 L635.4 321.7 L640.6 326.2Z" fill="#fff" stroke="#000" stroke-width="1.5" />
<path d="M619.1 340.8 L618.8 338.5 L640.6 326.2 L640.9 328.5Z" fill="#fff" stroke="#000" stroke-width="1.5" />
<path d="M557.4 230.2 L556.5 223.5 L578.3 211.2 L579.1 217.9Z" fill="#fff" stroke="#000" stroke-width="1.5" />
<path d="M554.8 222 L551.6 225 L573.4 212.7 L576.6 209.7Z" fill="#fff" stroke="#000" stroke-width="1.5" />
<path d="M556.5 223.5 L554.8 222 L576.6 209.7 L578.3 211.2Z" fill="#fff" stroke="#000" stroke-width="1.5" />
<path d="M613.2 331.8 L617.3 330.4 L639.1 318.2 L635 319.6Z" fill="#fff" stroke="#000" stroke-width="1.5" />
<path d="M616.8 328.1 L611.5 324.1 L633.3 311.9 L638.6 315.9Z" fill="#fff" stroke="#000" stroke-width="1.5" />
<path d="M617.3 330.4 L616.8 328.1 L638.6 315.9 L639.1 318.2Z" fill="#fff" stroke="#000" stroke-width="1.5" />
<path d="M564.6 237.5 L564.2 231 L586 218.8 L586.4 225.2Z" fill="#fff" stroke="#000" stroke-width="1.5" />
<path d="M562.6 229.3 L559 231.7 L580.8 219.5 L584.3 217.1Z" fill="#fff" stroke="#000" stroke-width="1.5" />
<path d="M564.2 231 L562.6 229.3 L584.3 217.1 L586 218.8Z" fill="#fff" stroke="#000" stroke-width="1.5" />
<path d="M611 321.9 L614.8 319.9 L636.5 307.6 L632.8 309.7Z" fill="#fff" stroke="#000" stroke-width="1.5" />
<path d="M614.1 317.5 L608.8 314.1 L630.6 301.8 L635.9 305.3Z" fill="#fff" stroke="#000" stroke-width="1.5" />
<path d="M614.8 319.9 L614.1 317.5 L635.9 305.3 L636.5 307.6Z" fill="#fff" stroke="#000" stroke-width="1.5" />
<path d="M571.6 245.4 L571.7 239.3 L593.5 227 L593.4 233.1Z" fill="#fff" stroke="#000" stroke-width="1.5" />
<path d="M570.1 237.4 L566.2 239.2 L587.9 226.9 L591.9 225.1Z" fill="#fff" stroke="#000" stroke-width="1.5" />
<path d="M571.7 239.3 L570.1 237.4 L591.9 225.1 L593.5 227Z" fill="#fff" stroke="#000" stroke-width="1.5" />
<path d="M608.1 311.9 L611.5 309.2 L633.3 296.9 L629.9 299.6Z" fill="#fff" stroke="#000" stroke-width="1.5" />
<path d="M610.7 306.9 L605.4 304 L627.2 291.8 L632.5 294.6Z" fill="#fff" stroke="#000" stroke-width="1.5" />
<path d="M611.5 309.2 L610.7 306.9 L632.5 294.6 L633.3 296.9Z" fill="#fff" stroke="#000" stroke-width="1.5" />
<path d="M578.2 253.9 L578.9 248.1 L600.7 235.8 L600 241.6Z" fill="#fff" stroke="#000" stroke-width="1.5" />
<path d="M577.3 246.1 L573.1 247.2 L594.8 234.9 L599.1 233.8Z" fill="#fff" stroke="#000" stroke-width="1.5" />
<path d="M578.9 248.1 L577.3 246.1 L599.1 233.8 L600.7 235.8Z" fill="#fff" stroke="#000" stroke-width="1.5" />
<path d="M604.5 301.8 L607.5 298.5 L629.3 286.2 L626.3 289.5Z" fill="#fff" stroke="#000" stroke-width="1.5" />
<path d="M606.6 296.2 L601.3 294 L623.1 281.7 L628.4 283.9Z" fill="#fff" stroke="#000" stroke-width="1.5" />
<path d="M607.5 298.5 L606.6 296.2 L628.4 283.9 L629.3 286.2Z" fill="#fff" stroke="#000" stroke-width="1.5" />
<path d="M584.5 262.8 L585.6 257.5 L607.4 245.2 L606.3 250.6Z" fill="#fff" stroke="#000" stroke-width="1.5" />
<path d="M584.2 255.4 L579.6 255.8 L601.4 243.5 L606 243.1Z" fill="#fff" stroke="#000" stroke-width="1.5" />
<path d="M585.6 257.5 L584.2 255.4 L606 243.1 L607.4 245.2Z" fill="#fff" stroke="#000" stroke-width="1.5" />
<path d="M600.4 291.8 L602.9 287.9 L624.7 275.6 L622.1 279.5Z" fill="#fff" stroke="#000" stroke-width="1.5" />
<path d="M601.8 285.6 L596.7 284 L618.5 271.8 L623.6 273.3Z" fill="#fff" stroke="#000" stroke-width="1.5" />
<path d="M602.9 287.9 L601.8 285.6 L623.6 273.3 L624.7 275.6Z" fill="#fff" stroke="#000" stroke-width="1.5" />
<path d="M590.3 272.2 L591.9 267.3 L613.7 255 L612.1 259.9Z" fill="#fff" stroke="#000" stroke-width="1.5" />
<path d="M590.6 265.1 L585.8 264.9 L607.6 252.6 L612.4 252.8Z" fill="#fff" stroke="#000" stroke-width="1.5" />
<path d="M591.9 267.3 L590.6 265.1 L612.4 252.8 L613.7 255Z" fill="#fff" stroke="#000" stroke-width="1.5" />
<path d="M595.6 281.9 L597.7 277.5 L619.5 265.2 L617.4 269.6Z" fill="#fff" stroke="#000" stroke-width="1.5" />
<path d="M596.5 275.2 L591.5 274.3 L613.3 262 L618.3 262.9Z" fill="#fff" stroke="#000" stroke-width="1.5" />
<path d="M597.7 277.5 L596.5 275.2 L618.3 262.9 L619.5 265.2Z" fill="#fff" stroke="#000" stroke-width="1.5" />
<path d="M590.5 408.9 Q591.1 408.6 593.6 411.2 Q596.1 413.8 596.7 413.4 Q597.3 413.1 596.3 409.6 Q595.2 406.1 595.8 405.7 Q596.4 405.3 598.9 407.7 Q601.5 410.1 602 409.6 Q602.6 409.1 601.3 405.6 Q600.1 402.1 600.5 401.6 Q601 401.1 603.7 403.2 Q606.3 405.3 606.8 404.8 Q607.2 404.2 605.8 400.7 Q604.3 397.2 604.7 396.6 Q605.1 396 607.8 397.9 Q610.4 399.8 610.8 399.1 Q611.2 398.4 609.6 395 Q607.9 391.5 608.2 390.9 Q608.6 390.2 611.2 391.7 Q613.9 393.3 614.2 392.6 Q614.6 391.8 612.7 388.4 Q610.8 385.1 611.1 384.3 Q611.4 383.6 614 384.8 Q616.6 386.1 616.9 385.3 Q617.2 384.4 615.1 381.2 Q613.1 377.9 613.3 377.1 Q613.5 376.3 616.1 377.2 Q618.7 378.2 618.8 377.2 Q619 376.3 616.8 373.2 Q614.6 370.1 614.7 369.2 Q614.8 368.3 617.4 369 Q619.9 369.6 620 368.6 Q620.1 367.6 617.8 364.7 Q615.4 361.8 615.5 360.8 Q615.5 359.9 618 360.1 Q620.4 360.4 620.4 359.4 Q620.4 358.4 618 355.6 Q615.5 352.9 615.5 351.9 Q615.5 350.9 617.8 350.8 Q620.1 350.8 620.1 349.7 Q620 348.6 617.4 346.1 Q614.9 343.6 614.8 342.6 Q614.7 341.5 616.9 341.1 Q619.1 340.8 618.9 339.6 Q618.8 338.5 616.2 336.3 Q613.6 334 613.4 332.9 Q613.2 331.8 615.2 331.1 Q617.3 330.4 617.1 329.3 Q616.8 328.1 614.2 326.1 Q611.5 324.1 611.2 323 Q611 321.9 612.9 320.9 Q614.8 319.9 614.4 318.7 Q614.1 317.5 611.4 315.8 Q608.8 314.1 608.4 313 Q608.1 311.9 609.8 310.6 Q611.5 309.2 611.1 308 Q610.7 306.9 608 305.4 Q605.4 304 605 302.9 Q604.5 301.8 606 300.2 Q607.5 298.5 607.1 297.3 Q606.6 296.2 604 295.1 Q601.3 294 600.8 292.9 Q600.4 291.8 601.6 289.8 Q602.9 287.9 602.4 286.7 Q601.8 285.6 599.3 284.8 Q596.7 284 596.1 283 Q595.6 281.9 596.7 279.7 Q597.7 277.5 597.1 276.3 Q596.5 275.2 594 274.8 Q591.5 274.3 590.9 273.3 Q590.3 272.2 591.1 269.7 Q591.9 267.3 591.3 266.2 Q590.6 265.1 588.2 265 Q585.8 264.9 585.1 263.9 Q584.5 262.8 585 260.2 Q585.6 257.5 584.9 256.4 Q584.2 255.4 581.9 255.6 Q579.6 255.8 578.9 254.8 Q578.2 253.9 578.5 251 Q578.9 248.1 578.1 247.1 Q577.3 246.1 575.2 246.7 Q573.1 247.2 572.3 246.3 Q571.6 245.4 571.6 242.3 Q571.7 239.3 570.9 238.3 Q570.1 237.4 568.1 238.3 Q566.2 239.2 565.4 238.3 Q564.6 237.5 564.4 234.3 Q564.2 231 563.4 230.2 Q562.6 229.3 560.8 230.5 Q559 231.7 558.2 230.9 Q557.4 230.2 556.9 226.8 Q556.5 223.5 555.6 222.7 Q554.8 222 553.2 223.5 Q551.6 225 550.7 224.3 Q549.9 223.6 549.2 220.2 Q548.6 216.7 547.7 216 Q546.8 215.3 545.4 217.1 Q544 218.9 543.2 218.3 Q542.4 217.7 541.4 214.2 Q540.5 210.8 539.6 210.2 Q538.7 209.6 537.6 211.6 Q536.4 213.7 535.6 213.2 Q534.7 212.7 533.6 209.2 Q532.4 205.7 531.5 205.2 Q530.6 204.7 529.7 207 Q528.8 209.3 527.9 208.9 Q527.1 208.5 525.7 205 Q524.3 201.5 523.5 201.1 Q522.6 200.7 521.9 203.3 Q521.2 205.9 520.4 205.5 Q519.5 205.2 518 201.7 Q516.4 198.3 515.5 198 Q514.6 197.7 514.2 200.5 Q513.7 203.3 512.9 203.1 Q512.1 202.8 510.3 199.4 Q508.6 196 507.7 195.8 Q506.9 195.7 506.7 198.7 Q506.5 201.6 505.7 201.5 Q504.9 201.4 503 198.1 Q501 194.8 500.2 194.7 Q499.4 194.7 499.4 197.8 Q499.5 200.9 498.7 200.9 Q498 200.9 495.9 197.8 Q493.8 194.6 493 194.6 Q492.2 194.7 492.5 197.9 Q492.8 201.2 492.1 201.3 Q491.4 201.4 489.1 198.4 Q486.9 195.4 486.1 195.5 Q485.4 195.7 486 199.1 Q486.5 202.5 485.9 202.7 Q485.2 202.9 482.8 200 Q480.4 197.2 479.8 197.4 Q479.1 197.7 479.9 201.2 Q480.7 204.6 480.1 204.9 Q479.5 205.2 477 202.6 Q474.5 200 473.9 200.4 Q473.3 200.7 474.3 204.2 Q475.4 207.7 474.8 208.1 Q474.2 208.5 471.7 206.1 Q469.1 203.7 468.6 204.2 Q468 204.7 469.3 208.2 Q470.5 211.7 470.1 212.2 Q469.6 212.7 466.9 210.6 Q464.3 208.5 463.8 209 Q463.4 209.6 464.8 213.1 Q466.3 216.6 465.9 217.2 Q465.5 217.8 462.8 215.9 Q460.2 214 459.8 214.7 Q459.4 215.4 461 218.8 Q462.7 222.3 462.4 222.9 Q462 223.6 459.4 222.1 Q456.7 220.5 456.4 221.2 Q456 222 457.9 225.4 Q459.8 228.7 459.5 229.5 Q459.2 230.2 456.6 229 Q454 227.7 453.7 228.5 Q453.4 229.4 455.5 232.6 Q457.5 235.9 457.3 236.7 Q457.1 237.5 454.5 236.6 Q451.9 235.6 451.8 236.6 Q451.6 237.5 453.8 240.6 Q456 243.7 455.9 244.6 Q455.8 245.5 453.2 244.8 Q450.7 244.2 450.6 245.2 Q450.5 246.2 452.8 249.1 Q455.2 252 455.1 253 Q455.1 253.9 452.6 253.7 Q450.2 253.4 450.2 254.4 Q450.2 255.4 452.6 258.2 Q455.1 260.9 455.1 261.9 Q455.1 262.9 452.8 263 Q450.5 263 450.5 264.1 Q450.6 265.2 453.2 267.7 Q455.7 270.2 455.8 271.2 Q455.9 272.3 453.7 272.7 Q451.5 273 451.7 274.2 Q451.8 275.3 454.4 277.5 Q457 279.8 457.2 280.9 Q457.4 282 455.4 282.7 Q453.3 283.4 453.5 284.5 Q453.8 285.7 456.4 287.7 Q459.1 289.7 459.4 290.8 Q459.6 291.9 457.7 292.9 Q455.8 293.9 456.2 295.1 Q456.5 296.3 459.2 298 Q461.8 299.7 462.2 300.8 Q462.5 301.9 460.8 303.2 Q459.1 304.6 459.5 305.8 Q459.9 306.9 462.6 308.4 Q465.2 309.8 465.6 310.9 Q466.1 312 464.6 313.6 Q463.1 315.3 463.5 316.5 Q464 317.6 466.6 318.7 Q469.3 319.8 469.8 320.9 Q470.2 322 469 324 Q467.7 325.9 468.2 327.1 Q468.8 328.2 471.3 329 Q473.9 329.8 474.5 330.8 Q475 331.9 473.9 334.1 Q472.9 336.3 473.5 337.5 Q474.1 338.6 476.6 339 Q479.1 339.5 479.7 340.5 Q480.3 341.6 479.5 344.1 Q478.7 346.5 479.3 347.6 Q480 348.7 482.4 348.8 Q484.8 348.9 485.5 349.9 Q486.1 351 485.6 353.6 Q485 356.3 485.7 357.4 Q486.4 358.4 488.7 358.2 Q491 358 491.7 359 Q492.4 359.9 492.1 362.8 Q491.7 365.7 492.5 366.7 Q493.3 367.7 495.4 367.1 Q497.5 366.6 498.3 367.5 Q499 368.4 499 371.5 Q498.9 374.5 499.7 375.5 Q500.5 376.4 502.5 375.5 Q504.4 374.6 505.2 375.5 Q506 376.3 506.2 379.5 Q506.4 382.8 507.2 383.6 Q508 384.5 509.8 383.3 Q511.6 382.1 512.4 382.9 Q513.2 383.6 513.7 387 Q514.1 390.3 515 391.1 Q515.8 391.8 517.4 390.3 Q519 388.8 519.9 389.5 Q520.7 390.2 521.4 393.6 Q522 397.1 522.9 397.8 Q523.8 398.5 525.2 396.7 Q526.6 394.9 527.4 395.5 Q528.2 396.1 529.2 399.6 Q530.1 403 531 403.6 Q531.9 404.2 533 402.2 Q534.2 400.1 535 400.6 Q535.9 401.1 537 404.6 Q538.2 408.1 539.1 408.6 Q540 409.1 540.9 406.8 Q541.8 404.5 542.7 404.9 Q543.5 405.3 544.9 408.8 Q546.3 412.3 547.1 412.7 Q548 413.1 548.7 410.5 Q549.4 407.9 550.2 408.3 Q551.1 408.6 552.6 412.1 Q554.2 415.5 555.1 415.8 Q556 416.1 556.4 413.3 Q556.9 410.5 557.7 410.7 Q558.5 411 560.3 414.4 Q562 417.8 562.9 418 Q563.7 418.1 563.9 415.1 Q564.1 412.2 564.9 412.3 Q565.7 412.4 567.6 415.7 Q569.6 419 570.4 419.1 Q571.2 419.1 571.2 416 Q571.1 412.9 571.9 412.9 Q572.6 412.9 574.7 416 Q576.8 419.2 577.6 419.2 Q578.4 419.1 578.1 415.9 Q577.8 412.6 578.5 412.5 Q579.2 412.4 581.5 415.4 Q583.7 418.4 584.5 418.3 Q585.2 418.1 584.6 414.7 Q584.1 411.3 584.7 411.1 Q585.4 410.9 587.8 413.8 Q590.2 416.6 590.8 416.4 Q591.5 416.1 590.7 412.6 Q589.9 409.2 590.5 408.9Z" fill="#fff" stroke="#000" stroke-width="2" />
<ellipse cx="535.9" cy="306.2" rx="102.3" ry="56.3" transform="rotate(59.5 535.9 306.2)" fill="none" stroke="#000" stroke-width="1.6"/>
<ellipse cx="538.4" cy="306.2" rx="98.7" ry="54.3" transform="rotate(59.5 538.4 306.2)" fill="none" stroke="#000" stroke-width="1.2"/>
<ellipse cx="537.5" cy="304" rx="89.1" ry="52.6" transform="rotate(59.8 537.5 304)" fill="none" stroke="#000" stroke-width="2.2"/>
<ellipse cx="537" cy="304" rx="86.8" ry="51.2" transform="rotate(59.8 537 304)" fill="none" stroke="#000" stroke-width="1.1"/>
<path d="M492.1 230.1 L494.2 230.8 L496.2 231.3 L498.3 231.8 L500.3 232.2 L502.4 232.5 L504.5 232.7 L506.6 232.9 L508.7 233 L510.8 233.1 L512.9 233.1 L509.9 254.9 L507.8 254.2 L505.8 253.7 L503.7 253.2 L501.7 252.8 L499.6 252.5 L497.5 252.3 L495.4 252.1 L493.3 252 L491.2 251.9 L489.1 251.9Z" fill="#fff" stroke="#000" stroke-width="1.6" />
<path d="M509.9 254.9 L507.8 254.2 L505.8 253.7 L503.7 253.2 L501.7 252.8 L499.6 252.5 L497.5 252.3 L495.4 252.1 L493.3 252 L491.2 251.9 L489.1 251.9" fill="none" stroke="#000" stroke-width="3.7" />
<path d="M492.1 230.1 Q487.1 240.6 489.1 251.9" fill="none" stroke="#000" stroke-width="3.2" />
<path d="M495 231 Q490.1 241 492.1 251.9" fill="none" stroke="#000" stroke-width="2.1" />
<path d="M498 231.7 Q493.1 241.4 495.1 252.1" fill="none" stroke="#000" stroke-width="2.1" />
<path d="M500.9 232.3 Q496 241.8 498.1 252.3" fill="none" stroke="#000" stroke-width="2.1" />
<path d="M503.9 232.7 Q499 242.2 501.1 252.7" fill="none" stroke="#000" stroke-width="2.1" />
<path d="M506.9 232.9 Q502 242.6 504 253.3" fill="none" stroke="#000" stroke-width="2.1" />
<path d="M509.9 233.1 Q505 243.1 507 254" fill="none" stroke="#000" stroke-width="2.1" />
<path d="M512.9 233.1 L509.9 254.9 L517.8 256Z" fill="#fff" stroke="#000" stroke-width="1.7" />
<path d="M512.9 233.1 L517.8 256" fill="none" stroke="#000" stroke-width="2.4" />
<path d="M493.1 257.7 L492.6 260.2 L492.3 262.7 L492.1 265.2 L492 267.7 L492.1 270.2 L492.2 272.7 L492.5 275.2 L492.8 277.7 L493.3 280.2 L493.9 282.7 L474.9 283.3 L475.4 280.8 L475.7 278.3 L475.9 275.8 L476 273.3 L475.9 270.8 L475.8 268.3 L475.5 265.8 L475.2 263.3 L474.7 260.8 L474.1 258.3Z" fill="#fff" stroke="#000" stroke-width="1.6" />
<path d="M474.9 283.3 L475.4 280.8 L475.7 278.3 L475.9 275.8 L476 273.3 L475.9 270.8 L475.8 268.3 L475.5 265.8 L475.2 263.3 L474.7 260.8 L474.1 258.3" fill="none" stroke="#000" stroke-width="3.7" />
<path d="M493.9 282.7 Q484.6 286.5 474.9 283.3" fill="none" stroke="#000" stroke-width="3.2" />
<path d="M492.5 261.3 Q483.8 265.1 474.9 261.9" fill="none" stroke="#000" stroke-width="2.1" />
<path d="M492.1 264.9 Q483.9 268.6 475.5 265.4" fill="none" stroke="#000" stroke-width="2.1" />
<path d="M492 268.4 Q484.1 272.2 475.8 269" fill="none" stroke="#000" stroke-width="2.1" />
<path d="M492.2 272 Q484.2 275.8 476 272.6" fill="none" stroke="#000" stroke-width="2.1" />
<path d="M492.5 275.6 Q484.3 279.4 475.9 276.1" fill="none" stroke="#000" stroke-width="2.1" />
<path d="M493.1 279.1 Q484.4 282.9 475.5 279.7" fill="none" stroke="#000" stroke-width="2.1" />
<path d="M493.1 257.7 L474.1 258.3 L473.9 253.3Z" fill="#fff" stroke="#000" stroke-width="1.7" />
<path d="M493.1 257.7 L473.9 253.3" fill="none" stroke="#000" stroke-width="2.4" />
<path d="M567.5 267.9 L568.2 270.8 L569.1 273.6 L570.1 276.3 L571.4 278.8 L572.9 281.2 L574.6 283.4 L576.6 285.5 L578.7 287.4 L581 289.2 L583.6 290.8 L569.7 300.5 L569 297.6 L568.1 294.8 L567.1 292.1 L565.8 289.6 L564.3 287.2 L562.6 285 L560.6 282.9 L558.5 281 L556.2 279.2 L553.6 277.6Z" fill="#fff" stroke="#000" stroke-width="1.6" />
<path d="M567.5 267.9 L568.2 270.8 L569.1 273.6 L570.1 276.3 L571.4 278.8 L572.9 281.2 L574.6 283.4 L576.6 285.5 L578.7 287.4 L581 289.2 L583.6 290.8" fill="none" stroke="#000" stroke-width="3.7" />
<path d="M567.5 267.9 Q559.1 270.7 553.6 277.6" fill="none" stroke="#000" stroke-width="3.2" />
<path d="M568.5 272 Q561.4 274 557.2 280" fill="none" stroke="#000" stroke-width="2.1" />
<path d="M570 275.9 Q563.7 277.2 560.4 282.6" fill="none" stroke="#000" stroke-width="2.1" />
<path d="M571.8 279.5 Q566 280.5 563.1 285.6" fill="none" stroke="#000" stroke-width="2.1" />
<path d="M574.1 282.8 Q568.3 283.8 565.4 288.9" fill="none" stroke="#000" stroke-width="2.1" />
<path d="M576.8 285.8 Q570.6 287.1 567.2 292.5" fill="none" stroke="#000" stroke-width="2.1" />
<path d="M580 288.4 Q572.9 290.3 568.7 296.4" fill="none" stroke="#000" stroke-width="2.1" />
<path d="M593.7 315.8 L593.4 318.7 L593.2 321.6 L593.1 324.5 L593.1 327.4 L593.1 330.3 L593.3 333.2 L593.5 336.1 L593.8 339 L594.2 341.9 L594.7 344.8 L576.7 345.4 L577 342.5 L577.2 339.6 L577.3 336.7 L577.3 333.8 L577.3 330.9 L577.1 328 L576.9 325.1 L576.6 322.2 L576.2 319.3 L575.7 316.4Z" fill="#fff" stroke="#000" stroke-width="1.6" />
<path d="M576.7 345.4 L577 342.5 L577.2 339.6 L577.3 336.7 L577.3 333.8 L577.3 330.9 L577.1 328 L576.9 325.1 L576.6 322.2 L576.2 319.3 L575.7 316.4" fill="none" stroke="#000" stroke-width="3.7" />
<path d="M593.7 315.8 Q584.6 313.6 575.7 316.4" fill="none" stroke="#000" stroke-width="3.2" />
<path d="M593.3 319.4 Q584.7 317.2 576.3 320" fill="none" stroke="#000" stroke-width="2.1" />
<path d="M593.1 323.1 Q584.9 320.9 576.8 323.6" fill="none" stroke="#000" stroke-width="2.1" />
<path d="M593.1 326.7 Q585 324.5 577.1 327.3" fill="none" stroke="#000" stroke-width="2.1" />
<path d="M593.1 330.3 Q585.1 328.1 577.3 330.9" fill="none" stroke="#000" stroke-width="2.1" />
<path d="M593.3 333.9 Q585.2 331.7 577.3 334.5" fill="none" stroke="#000" stroke-width="2.1" />
<path d="M593.6 337.6 Q585.4 335.3 577.3 338.1" fill="none" stroke="#000" stroke-width="2.1" />
<path d="M594.1 341.2 Q585.5 339 577.1 341.8" fill="none" stroke="#000" stroke-width="2.1" />
<path d="M511 333 L512.7 335.4 L514.4 337.8 L516.1 340.1 L517.9 342.4 L519.8 344.6 L521.7 346.8 L523.7 348.9 L525.8 350.9 L527.9 352.9 L530.1 354.9 L515 368 L513.3 365.6 L511.6 363.2 L509.9 360.9 L508.1 358.6 L506.2 356.4 L504.3 354.2 L502.3 352.1 L500.2 350.1 L498.1 348.1 L495.9 346.1Z" fill="#fff" stroke="#000" stroke-width="1.6" />
<path d="M515 368 L513.3 365.6 L511.6 363.2 L509.9 360.9 L508.1 358.6 L506.2 356.4 L504.3 354.2 L502.3 352.1 L500.2 350.1 L498.1 348.1 L495.9 346.1" fill="none" stroke="#000" stroke-width="3.7" />
<path d="M511 333 Q501.5 337.3 495.9 346.1" fill="none" stroke="#000" stroke-width="3.2" />
<path d="M513.1 336 Q503.9 340 498.6 348.6" fill="none" stroke="#000" stroke-width="2.1" />
<path d="M515.2 339 Q506.3 342.8 501.3 351.1" fill="none" stroke="#000" stroke-width="2.1" />
<path d="M517.5 341.8 Q508.7 345.5 503.8 353.7" fill="none" stroke="#000" stroke-width="2.1" />
<path d="M519.8 344.6 Q511 348.2 506.2 356.4" fill="none" stroke="#000" stroke-width="2.1" />
<path d="M522.2 347.3 Q513.4 351 508.5 359.2" fill="none" stroke="#000" stroke-width="2.1" />
<path d="M524.7 349.9 Q515.8 353.7 510.8 362" fill="none" stroke="#000" stroke-width="2.1" />
<path d="M527.4 352.4 Q518.2 356.4 512.9 365" fill="none" stroke="#000" stroke-width="2.1" />
<path d="M530.1 354.9 L515 368 L518.9 372.5Z" fill="#fff" stroke="#000" stroke-width="1.7" />
<path d="M530.1 354.9 L518.9 372.5" fill="none" stroke="#000" stroke-width="2.4" />
<path d="M536 358.1 L538.3 359 L540.7 359.8 L543.1 360.6 L545.5 361.2 L548 361.8 L550.4 362.2 L552.9 362.6 L555.4 362.9 L557.9 363.2 L560.4 363.3 L556 383.9 L553.7 383 L551.3 382.2 L548.9 381.4 L546.5 380.8 L544 380.2 L541.6 379.8 L539.1 379.4 L536.6 379.1 L534.1 378.8 L531.6 378.7Z" fill="#fff" stroke="#000" stroke-width="1.6" />
<path d="M556 383.9 L553.7 383 L551.3 382.2 L548.9 381.4 L546.5 380.8 L544 380.2 L541.6 379.8 L539.1 379.4 L536.6 379.1 L534.1 378.8 L531.6 378.7" fill="none" stroke="#000" stroke-width="3.7" />
<path d="M536 358.1 Q530.3 367.7 531.6 378.7" fill="none" stroke="#000" stroke-width="3.2" />
<path d="M539.3 359.4 Q533.8 368.4 535.2 378.9" fill="none" stroke="#000" stroke-width="2.1" />
<path d="M542.8 360.5 Q537.3 369.2 538.8 379.3" fill="none" stroke="#000" stroke-width="2.1" />
<path d="M546.2 361.4 Q540.8 369.9 542.3 379.9" fill="none" stroke="#000" stroke-width="2.1" />
<path d="M549.7 362.1 Q544.3 370.6 545.8 380.6" fill="none" stroke="#000" stroke-width="2.1" />
<path d="M553.2 362.7 Q547.8 371.4 549.2 381.5" fill="none" stroke="#000" stroke-width="2.1" />
<path d="M556.8 363.1 Q551.3 372.1 552.7 382.6" fill="none" stroke="#000" stroke-width="2.1" />
<path d="M560.4 363.3 L556 383.9 L562.9 385.3Z" fill="#fff" stroke="#000" stroke-width="1.7" />
<path d="M560.4 363.3 L562.9 385.3" fill="none" stroke="#000" stroke-width="2.4" />
<ellipse cx="534" cy="250.3" rx="5.6" ry="4" transform="rotate(60 534 250.3)" fill="#fff" stroke="#000" stroke-width="1.7"/>
<path d="M534.1 253.4 L534.4 253.6 L534.7 253.8 L534.9 253.9 L535.2 254.1 L535.5 254.2 L535.8 254.3 L536 254.3 L536.3 254.4 L536.6 254.4 L536.9 254.4 L537.1 254.4 L537.4 254.3 L537.6 254.2 L537.9 254.1 L538.1 254 L538.3 253.9 L538.5 253.7 L538.7 253.6 L538.8 253.4 L539 253.1 L539.1 252.9 L539.2 252.7 L539.4 252.4 L539.4 252.1 L539.5 251.9 L539.5 251.6 L539.6 251.3 L539.6 250.9 L539.6 250.6 L539.5 250.3 L539.5 250 L539.4 249.6 L539.3 249.3 L539.2 249 L539.1 248.7 L538.9 248.4 L538.8 248 L538.6 247.7 L538.4 247.4 L538.2 247.2" fill="none" stroke="#000" stroke-width="1.3" />
<ellipse cx="489.3" cy="312.3" rx="5.6" ry="4" transform="rotate(60 489.3 312.3)" fill="#fff" stroke="#000" stroke-width="1.7"/>
<path d="M489.4 315.5 L489.7 315.6 L490 315.8 L490.2 316 L490.5 316.1 L490.8 316.2 L491.1 316.3 L491.3 316.4 L491.6 316.4 L491.9 316.4 L492.2 316.4 L492.4 316.4 L492.7 316.3 L492.9 316.3 L493.1 316.2 L493.4 316.1 L493.6 315.9 L493.8 315.8 L494 315.6 L494.1 315.4 L494.3 315.2 L494.4 315 L494.5 314.7 L494.6 314.5 L494.7 314.2 L494.8 313.9 L494.8 313.6 L494.9 313.3 L494.9 313 L494.9 312.7 L494.8 312.3 L494.8 312 L494.7 311.7 L494.6 311.4 L494.5 311 L494.4 310.7 L494.2 310.4 L494.1 310.1 L493.9 309.8 L493.7 309.5 L493.5 309.2" fill="none" stroke="#000" stroke-width="1.3" />
<ellipse cx="575.9" cy="363.4" rx="5.6" ry="4" transform="rotate(60 575.9 363.4)" fill="#fff" stroke="#000" stroke-width="1.7"/>
<path d="M576.1 366.6 L576.4 366.7 L576.6 366.9 L576.9 367.1 L577.2 367.2 L577.5 367.3 L577.7 367.4 L578 367.5 L578.3 367.5 L578.6 367.5 L578.8 367.5 L579.1 367.5 L579.3 367.4 L579.6 367.4 L579.8 367.3 L580 367.2 L580.3 367 L580.5 366.9 L580.6 366.7 L580.8 366.5 L581 366.3 L581.1 366.1 L581.2 365.8 L581.3 365.5 L581.4 365.3 L581.5 365 L581.5 364.7 L581.5 364.4 L581.5 364.1 L581.5 363.8 L581.5 363.4 L581.4 363.1 L581.4 362.8 L581.3 362.5 L581.2 362.1 L581.1 361.8 L580.9 361.5 L580.8 361.2 L580.6 360.9 L580.4 360.6 L580.2 360.3" fill="none" stroke="#000" stroke-width="1.3" />
<ellipse cx="539.6" cy="304.4" rx="34" ry="19" transform="rotate(60.6 539.6 304.4)" fill="#fff" stroke="#000" stroke-width="1.5"/>
<ellipse cx="536.8" cy="306" rx="33" ry="18.5" transform="rotate(60.6 536.8 306)" fill="#fff" stroke="#000" stroke-width="1.5"/>
<ellipse cx="534.2" cy="307.4" rx="31.5" ry="17.6" transform="rotate(60.6 534.2 307.4)" fill="#fff" stroke="#000" stroke-width="1.5"/>
<ellipse cx="531.3" cy="309.1" rx="30.2" ry="16.9" transform="rotate(60.6 531.3 309.1)" fill="#fff" stroke="#000" stroke-width="1.5"/>
<ellipse cx="528.5" cy="310.6" rx="29.3" ry="16.4" transform="rotate(60.6 528.5 310.6)" fill="#fff" stroke="#000" stroke-width="1.5"/>
<ellipse cx="525.9" cy="312.1" rx="29.3" ry="16.4" transform="rotate(60.6 525.9 312.1)" fill="#fff" stroke="#000" stroke-width="2"/>
<ellipse cx="525.7" cy="312.7" rx="21.1" ry="11.8" transform="rotate(60.6 525.7 312.7)" fill="none" stroke="#000" stroke-width="1.5"/>
<ellipse cx="525.7" cy="312.7" rx="19.2" ry="10.8" transform="rotate(60.6 525.7 312.7)" fill="none" stroke="#000" stroke-width="2.2"/>
<ellipse cx="518.7" cy="300.6" rx="2.7" ry="2" transform="rotate(62 518.7 300.6)" fill="none" stroke="#000" stroke-width="1.5"/>
<ellipse cx="526.1" cy="305.6" rx="2.7" ry="2" transform="rotate(62 526.1 305.6)" fill="none" stroke="#000" stroke-width="1.5"/>
<ellipse cx="523.3" cy="314.2" rx="2.7" ry="2" transform="rotate(62 523.3 314.2)" fill="none" stroke="#000" stroke-width="1.5"/>
<ellipse cx="532.3" cy="316.2" rx="2.7" ry="2" transform="rotate(62 532.3 316.2)" fill="none" stroke="#000" stroke-width="1.5"/>
<ellipse cx="532.7" cy="323.6" rx="2.7" ry="2" transform="rotate(62 532.7 323.6)" fill="none" stroke="#000" stroke-width="1.5"/>
<path d="M677.9 668.7 L683.8 675.3 L689.5 668.2 L684.2 660.9 L685.9 657.8 L687.4 654.6 L688.7 651.1 L689.8 647.5 L690.6 643.7 L691.3 639.7 L698 642.8 L698.7 631.4 L692 627.1 L691.8 622.7 L691.3 618.2 L690.7 613.6 L689.8 609 L688.8 604.3 L687.5 599.6 L693.3 598.4 L688.7 585.7 L682.5 585.6 L680.4 581 L678.2 576.4 L675.7 572 L673.2 567.6 L670.4 563.3 L667.6 559.1 L670.8 553.9 L662.3 543.3 L658.1 547.5 L654.8 543.9 L651.3 540.5 L647.8 537.4 L644.2 534.4 L640.5 531.6 L636.8 529.1 L636.7 521.3 L626.5 515.7 L625.6 522.9 L621.8 521.4 L618 520.1 L614.3 519.1 L610.7 518.3 L607.1 517.8 L603.5 517.6 L600 509.3 L590.9 510.2 L593.4 518.6 L590.3 519.4 L587.2 520.6 L584.3 522 L581.6 523.6 L579 525.5 L576.6 527.7 L570.7 521.1 L565 528.2 L570.3 535.5 L568.6 538.6 L567.1 541.8 L565.8 545.3 L564.8 548.9 L563.9 552.7 L563.2 556.7 L556.5 553.6 L555.8 565 L562.5 569.3 L562.7 573.7 L563.2 578.2 L563.8 582.8 L564.7 587.4 L565.7 592.1 L567 596.8 L561.2 598 L565.8 610.7 L572 610.8 L574.1 615.4 L576.3 620 L578.8 624.4 L581.3 628.8 L584.1 633.1 L586.9 637.3 L583.7 642.5 L592.2 653.1 L596.4 648.9 L599.7 652.5 L603.2 655.9 L606.7 659 L610.3 662 L614 664.8 L617.7 667.3 L617.8 675.1 L628 680.7 L629 673.5 L632.7 675 L636.5 676.3 L640.2 677.3 L643.8 678.1 L647.4 678.6 L651 678.8 L654.5 687.1 L663.6 686.2 L661.1 677.8 L664.2 677 L667.3 675.8 L670.2 674.4 L672.9 672.8 L675.5 670.9Z" fill="#fff" stroke="#000" stroke-width="1.7" />
<path d="M681.6 676.6L683.8 675.3" stroke="#000" stroke-width="1.3" fill="none" />
<path d="M687.2 669.5L689.5 668.2" stroke="#000" stroke-width="1.3" fill="none" />
<path d="M695.8 644.1L698 642.8" stroke="#000" stroke-width="1.3" fill="none" />
<path d="M696.4 632.7L698.7 631.4" stroke="#000" stroke-width="1.3" fill="none" />
<path d="M691 599.7L693.3 598.4" stroke="#000" stroke-width="1.3" fill="none" />
<path d="M686.5 587L688.7 585.7" stroke="#000" stroke-width="1.3" fill="none" />
<path d="M668.6 555.2L670.8 553.9" stroke="#000" stroke-width="1.3" fill="none" />
<path d="M660.1 544.6L662.3 543.3" stroke="#000" stroke-width="1.3" fill="none" />
<path d="M634.4 522.6L636.7 521.3" stroke="#000" stroke-width="1.3" fill="none" />
<path d="M624.2 517L626.5 515.7" stroke="#000" stroke-width="1.3" fill="none" />
<path d="M597.8 510.6L600 509.3" stroke="#000" stroke-width="1.3" fill="none" />
<path d="M588.6 511.5L590.9 510.2" stroke="#000" stroke-width="1.3" fill="none" />
<path d="M568.4 522.4L570.7 521.1" stroke="#000" stroke-width="1.3" fill="none" />
<path d="M562.8 529.5L565 528.2" stroke="#000" stroke-width="1.3" fill="none" />
<path d="M554.2 554.9L556.5 553.6" stroke="#000" stroke-width="1.3" fill="none" />
<path d="M553.6 566.3L555.8 565" stroke="#000" stroke-width="1.3" fill="none" />
<path d="M559 599.3L561.2 598" stroke="#000" stroke-width="1.3" fill="none" />
<path d="M563.5 612L565.8 610.7" stroke="#000" stroke-width="1.3" fill="none" />
<path d="M581.4 643.8L583.7 642.5" stroke="#000" stroke-width="1.3" fill="none" />
<path d="M589.9 654.4L592.2 653.1" stroke="#000" stroke-width="1.3" fill="none" />
<path d="M615.6 676.4L617.8 675.1" stroke="#000" stroke-width="1.3" fill="none" />
<path d="M625.8 682L628 680.7" stroke="#000" stroke-width="1.3" fill="none" />
<path d="M652.2 688.4L654.5 687.1" stroke="#000" stroke-width="1.3" fill="none" />
<path d="M661.4 687.5L663.6 686.2" stroke="#000" stroke-width="1.3" fill="none" />
<path d="M675.7 670 L681.6 676.6 L687.2 669.5 L681.9 662.2 L683.6 659.1 L685.1 655.9 L686.4 652.4 L687.5 648.8 L688.4 645 L689 641 L695.8 644.1 L696.4 632.7 L689.7 628.4 L689.5 624 L689.1 619.5 L688.5 614.9 L687.6 610.3 L686.5 605.6 L685.2 600.9 L691 599.7 L686.5 587 L680.2 586.9 L678.1 582.3 L675.9 577.7 L673.5 573.3 L670.9 568.9 L668.2 564.6 L665.3 560.4 L668.6 555.2 L660.1 544.6 L655.9 548.8 L652.5 545.2 L649.1 541.8 L645.5 538.7 L641.9 535.7 L638.3 532.9 L634.6 530.4 L634.4 522.6 L624.2 517 L623.3 524.2 L619.5 522.7 L615.8 521.4 L612.1 520.4 L608.4 519.6 L604.8 519.1 L601.3 518.9 L597.8 510.6 L588.6 511.5 L591.2 519.9 L588 520.7 L585 521.9 L582.1 523.3 L579.3 524.9 L576.7 526.8 L574.3 529 L568.4 522.4 L562.8 529.5 L568.1 536.8 L566.4 539.9 L564.9 543.1 L563.6 546.6 L562.5 550.2 L561.6 554 L561 558 L554.2 554.9 L553.6 566.3 L560.3 570.6 L560.5 575 L560.9 579.5 L561.5 584.1 L562.4 588.7 L563.5 593.4 L564.8 598.1 L559 599.3 L563.5 612 L569.8 612.1 L571.9 616.7 L574.1 621.3 L576.5 625.7 L579.1 630.1 L581.8 634.4 L584.7 638.6 L581.4 643.8 L589.9 654.4 L594.1 650.2 L597.5 653.8 L600.9 657.2 L604.5 660.3 L608.1 663.3 L611.7 666.1 L615.4 668.6 L615.6 676.4 L625.8 682 L626.7 674.8 L630.5 676.3 L634.2 677.6 L637.9 678.6 L641.6 679.4 L645.2 679.9 L648.7 680.1 L652.2 688.4 L661.4 687.5 L658.8 679.1 L662 678.3 L665 677.1 L667.9 675.7 L670.7 674.1 L673.3 672.2Z" fill="#fff" stroke="#000" stroke-width="2" />
<path d="M675.7 670 L677.4 668.3 L679 666.4 L680.5 664.3 L681.9 662.2" fill="none" stroke="#000" stroke-width="1.3" />
<path d="M689 641 L689.4 638 L689.6 634.9 L689.7 631.7 L689.7 628.4" fill="none" stroke="#000" stroke-width="1.3" />
<path d="M685.2 600.9 L684.2 597.4 L682.9 593.9 L681.6 590.4 L680.2 586.9" fill="none" stroke="#000" stroke-width="1.3" />
<path d="M665.3 560.4 L663.1 557.4 L660.7 554.4 L658.3 551.6 L655.9 548.8" fill="none" stroke="#000" stroke-width="1.3" />
<path d="M634.6 530.4 L631.8 528.6 L628.9 527 L626.1 525.6 L623.3 524.2" fill="none" stroke="#000" stroke-width="1.3" />
<path d="M601.3 518.9 L598.7 518.9 L596.1 519.1 L593.6 519.4 L591.2 519.9" fill="none" stroke="#000" stroke-width="1.3" />
<path d="M574.3 529 L572.6 530.7 L571 532.6 L569.5 534.7 L568.1 536.8" fill="none" stroke="#000" stroke-width="1.3" />
<path d="M561 558 L560.6 561 L560.4 564.1 L560.3 567.3 L560.3 570.6" fill="none" stroke="#000" stroke-width="1.3" />
<path d="M564.8 598.1 L565.8 601.6 L567.1 605.1 L568.4 608.6 L569.8 612.1" fill="none" stroke="#000" stroke-width="1.3" />
<path d="M584.7 638.6 L586.9 641.6 L589.3 644.6 L591.7 647.4 L594.1 650.2" fill="none" stroke="#000" stroke-width="1.3" />
<path d="M615.4 668.6 L618.2 670.4 L621.1 672 L623.9 673.4 L626.7 674.8" fill="none" stroke="#000" stroke-width="1.3" />
<path d="M648.7 680.1 L651.3 680.1 L653.9 679.9 L656.4 679.6 L658.8 679.1" fill="none" stroke="#000" stroke-width="1.3" />
<ellipse cx="625" cy="599.5" rx="73.8" ry="46.5" transform="rotate(60 625 599.5)" fill="none" stroke="#000" stroke-width="1.7"/>
<path d="M663.8 662.2L666 676.7" stroke="#000" stroke-width="1.2" fill="none" />
<path d="M665.4 661L668.1 675.6" stroke="#000" stroke-width="1.2" fill="none" />
<path d="M669.9 656.7L674.1 671.5" stroke="#000" stroke-width="1.2" fill="none" />
<path d="M671.2 655L675.9 669.9" stroke="#000" stroke-width="1.2" fill="none" />
<path d="M674.6 649.5L680.7 664.1" stroke="#000" stroke-width="1.2" fill="none" />
<path d="M675.6 647.4L682 662" stroke="#000" stroke-width="1.2" fill="none" />
<path d="M677.8 640.7L685.6 654.8" stroke="#000" stroke-width="1.2" fill="none" />
<path d="M678.4 638.3L686.5 652.1" stroke="#000" stroke-width="1.2" fill="none" />
<path d="M679.4 630.7L688.6 643.7" stroke="#000" stroke-width="1.2" fill="none" />
<path d="M679.6 628L689.1 640.7" stroke="#000" stroke-width="1.2" fill="none" />
<path d="M679.4 619.7L689.7 631.3" stroke="#000" stroke-width="1.2" fill="none" />
<path d="M679.1 616.8L689.7 628.1" stroke="#000" stroke-width="1.2" fill="none" />
<path d="M677.7 608.1L688.9 618" stroke="#000" stroke-width="1.2" fill="none" />
<path d="M677 605.1L688.4 614.6" stroke="#000" stroke-width="1.2" fill="none" />
<path d="M674.4 596.3L686.1 604.1" stroke="#000" stroke-width="1.2" fill="none" />
<path d="M673.3 593.3L685.1 600.6" stroke="#000" stroke-width="1.2" fill="none" />
<path d="M669.6 584.5L681.5 590" stroke="#000" stroke-width="1.2" fill="none" />
<path d="M668.2 581.6L680.1 586.6" stroke="#000" stroke-width="1.2" fill="none" />
<path d="M663.4 573.2L675.1 576.3" stroke="#000" stroke-width="1.2" fill="none" />
<path d="M661.7 570.5L673.3 572.9" stroke="#000" stroke-width="1.2" fill="none" />
<path d="M656.1 562.7L667.3 563.2" stroke="#000" stroke-width="1.2" fill="none" />
<path d="M654.1 560.3L665.1 560.1" stroke="#000" stroke-width="1.2" fill="none" />
<path d="M647.9 553.3L658.1 551.3" stroke="#000" stroke-width="1.2" fill="none" />
<path d="M645.7 551.2L655.6 548.5" stroke="#000" stroke-width="1.2" fill="none" />
<path d="M638.9 545.4L647.9 540.8" stroke="#000" stroke-width="1.2" fill="none" />
<path d="M636.6 543.6L645.3 538.4" stroke="#000" stroke-width="1.2" fill="none" />
<path d="M629.5 539L637.1 532.1" stroke="#000" stroke-width="1.2" fill="none" />
<path d="M627.1 537.7L634.3 530.2" stroke="#000" stroke-width="1.2" fill="none" />
<path d="M620 534.6L625.8 525.4" stroke="#000" stroke-width="1.2" fill="none" />
<path d="M617.6 533.7L623 524.1" stroke="#000" stroke-width="1.2" fill="none" />
<path d="M610.6 532L614.6 521" stroke="#000" stroke-width="1.2" fill="none" />
<path d="M608.3 531.7L611.8 520.3" stroke="#000" stroke-width="1.2" fill="none" />
<path d="M601.7 531.6L603.6 519" stroke="#000" stroke-width="1.2" fill="none" />
<path d="M599.6 531.8L601 518.9" stroke="#000" stroke-width="1.2" fill="none" />
<path d="M593.5 533.2L593.4 519.4" stroke="#000" stroke-width="1.2" fill="none" />
<path d="M591.6 533.9L590.9 519.9" stroke="#000" stroke-width="1.2" fill="none" />
<path d="M586.2 536.8L584 522.3" stroke="#000" stroke-width="1.2" fill="none" />
<path d="M584.6 538L581.9 523.4" stroke="#000" stroke-width="1.2" fill="none" />
<path d="M580.1 542.3L575.9 527.5" stroke="#000" stroke-width="1.2" fill="none" />
<path d="M578.8 544L574.1 529.1" stroke="#000" stroke-width="1.2" fill="none" />
<path d="M575.4 549.5L569.3 534.9" stroke="#000" stroke-width="1.2" fill="none" />
<path d="M574.4 551.6L568 537" stroke="#000" stroke-width="1.2" fill="none" />
<path d="M572.2 558.3L564.4 544.2" stroke="#000" stroke-width="1.2" fill="none" />
<path d="M571.6 560.7L563.5 546.9" stroke="#000" stroke-width="1.2" fill="none" />
<path d="M570.6 568.3L561.4 555.3" stroke="#000" stroke-width="1.2" fill="none" />
<path d="M570.4 571L560.9 558.3" stroke="#000" stroke-width="1.2" fill="none" />
<path d="M570.6 579.3L560.3 567.7" stroke="#000" stroke-width="1.2" fill="none" />
<path d="M570.9 582.2L560.3 570.9" stroke="#000" stroke-width="1.2" fill="none" />
<path d="M572.3 590.9L561.1 581" stroke="#000" stroke-width="1.2" fill="none" />
<path d="M573 593.9L561.6 584.4" stroke="#000" stroke-width="1.2" fill="none" />
<path d="M575.6 602.7L563.9 594.9" stroke="#000" stroke-width="1.2" fill="none" />
<path d="M576.7 605.7L564.9 598.4" stroke="#000" stroke-width="1.2" fill="none" />
<path d="M580.4 614.5L568.5 609" stroke="#000" stroke-width="1.2" fill="none" />
<path d="M581.8 617.4L569.9 612.4" stroke="#000" stroke-width="1.2" fill="none" />
<path d="M586.6 625.8L574.9 622.7" stroke="#000" stroke-width="1.2" fill="none" />
<path d="M588.3 628.5L576.7 626.1" stroke="#000" stroke-width="1.2" fill="none" />
<path d="M593.9 636.3L582.7 635.8" stroke="#000" stroke-width="1.2" fill="none" />
<path d="M595.9 638.7L584.9 638.9" stroke="#000" stroke-width="1.2" fill="none" />
<path d="M602.1 645.7L591.9 647.7" stroke="#000" stroke-width="1.2" fill="none" />
<path d="M604.3 647.8L594.4 650.5" stroke="#000" stroke-width="1.2" fill="none" />
<path d="M611.1 653.6L602.1 658.2" stroke="#000" stroke-width="1.2" fill="none" />
<path d="M613.4 655.4L604.7 660.6" stroke="#000" stroke-width="1.2" fill="none" />
<path d="M620.5 660L612.9 666.9" stroke="#000" stroke-width="1.2" fill="none" />
<path d="M622.9 661.3L615.7 668.8" stroke="#000" stroke-width="1.2" fill="none" />
<path d="M630 664.4L624.2 673.6" stroke="#000" stroke-width="1.2" fill="none" />
<path d="M632.4 665.3L627 674.9" stroke="#000" stroke-width="1.2" fill="none" />
<path d="M639.4 667L635.4 678" stroke="#000" stroke-width="1.2" fill="none" />
<path d="M641.7 667.3L638.2 678.7" stroke="#000" stroke-width="1.2" fill="none" />
<path d="M648.3 667.4L646.4 680" stroke="#000" stroke-width="1.2" fill="none" />
<path d="M650.4 667.2L649 680.1" stroke="#000" stroke-width="1.2" fill="none" />
<path d="M656.5 665.8L656.6 679.6" stroke="#000" stroke-width="1.2" fill="none" />
<path d="M658.4 665.1L659.1 679.1" stroke="#000" stroke-width="1.2" fill="none" />
<ellipse cx="599.6" cy="611.6" rx="85.4" ry="53.8" transform="rotate(60 599.6 611.6)" fill="#fff" stroke="#000" stroke-width="1.6"/>
<ellipse cx="597.3" cy="612.9" rx="85.4" ry="53.8" transform="rotate(60 597.3 612.9)" fill="#fff" stroke="#000" stroke-width="1.8"/>
<path d="M622.7 679.9 Q623.8 679.5 623 675.7 Q622.3 671.9 623.2 671.4 Q624.1 670.8 627.1 673.4 Q630 676 630.9 675.3 Q631.7 674.5 630.4 670.7 Q629 666.8 629.7 666 Q630.5 665.1 633.5 667.1 Q636.6 669 637.3 668 Q637.9 667 636 663.3 Q634 659.6 634.6 658.5 Q635.1 657.3 638.2 658.5 Q641.3 659.7 641.6 658.5 Q642 657.2 639.7 653.8 Q637.3 650.4 637.5 649.1 Q637.8 647.7 640.7 648.2 Q643.7 648.6 643.8 647.1 Q644 645.7 641.2 642.7 Q638.5 639.7 638.5 638.3 Q638.4 636.8 641.2 636.4 Q643.9 636 643.7 634.4 Q643.6 632.8 640.6 630.4 Q637.6 628.1 637.3 626.5 Q637.1 624.9 639.4 623.7 Q641.8 622.5 641.4 620.9 Q640.9 619.2 637.8 617.6 Q634.8 615.9 634.2 614.3 Q633.7 612.7 635.6 610.7 Q637.5 608.8 636.8 607.2 Q636.1 605.6 633.1 604.6 Q630 603.7 629.2 602.1 Q628.5 600.6 629.8 598 Q631.1 595.4 630.2 593.9 Q629.4 592.3 626.4 592.2 Q623.5 592.1 622.6 590.6 Q621.6 589.2 622.4 586.1 Q623.1 583 622 581.6 Q620.9 580.2 618.3 580.8 Q615.7 581.5 614.6 580.2 Q613.5 579 613.5 575.5 Q613.6 571.9 612.4 570.7 Q611.2 569.6 609 571 Q606.8 572.5 605.6 571.4 Q604.3 570.4 603.8 566.6 Q603.2 562.9 601.9 561.9 Q600.6 561 598.9 563.2 Q597.2 565.3 595.9 564.6 Q594.6 563.8 593.5 560 Q592.3 556.1 590.9 555.5 Q589.6 554.9 588.5 557.6 Q587.4 560.4 586.1 560 Q584.8 559.5 583.1 555.8 Q581.3 552 580 551.7 Q578.7 551.4 578.2 554.7 Q577.7 558 576.5 557.9 Q575.3 557.7 573 554.2 Q570.8 550.7 569.6 550.7 Q568.4 550.8 568.5 554.4 Q568.6 558.1 567.5 558.3 Q566.4 558.5 563.8 555.4 Q561.1 552.3 560.1 552.7 Q559 553.1 559.8 556.9 Q560.6 560.7 559.6 561.2 Q558.7 561.8 555.8 559.2 Q552.8 556.6 552 557.3 Q551.1 558.1 552.5 561.9 Q553.8 565.8 553.1 566.6 Q552.4 567.5 549.3 565.5 Q546.2 563.6 545.6 564.6 Q544.9 565.6 546.8 569.3 Q548.8 573 548.3 574.1 Q547.8 575.3 544.7 574.1 Q541.6 572.9 541.2 574.1 Q540.8 575.4 543.2 578.8 Q545.6 582.2 545.3 583.5 Q545 584.9 542.1 584.4 Q539.1 584 539 585.5 Q538.9 586.9 541.6 589.9 Q544.4 592.9 544.4 594.3 Q544.4 595.8 541.6 596.2 Q538.9 596.6 539.1 598.2 Q539.2 599.8 542.2 602.2 Q545.2 604.5 545.5 606.1 Q545.8 607.7 543.4 608.9 Q541 610.1 541.5 611.7 Q541.9 613.4 545 615 Q548.1 616.7 548.6 618.3 Q549.1 619.9 547.2 621.9 Q545.4 623.8 546 625.4 Q546.7 627 549.8 628 Q552.8 628.9 553.6 630.5 Q554.4 632 553 634.6 Q551.7 637.2 552.6 638.7 Q553.5 640.3 556.4 640.4 Q559.3 640.5 560.2 642 Q561.2 643.4 560.5 646.5 Q559.7 649.6 560.8 651 Q561.9 652.4 564.5 651.8 Q567.1 651.1 568.2 652.4 Q569.4 653.6 569.3 657.1 Q569.2 660.7 570.4 661.9 Q571.6 663 573.8 661.6 Q576 660.1 577.3 661.2 Q578.5 662.2 579.1 666 Q579.6 669.7 580.9 670.7 Q582.2 671.6 583.9 669.4 Q585.6 667.3 586.9 668 Q588.2 668.8 589.4 672.6 Q590.5 676.5 591.9 677.1 Q593.2 677.7 594.3 675 Q595.5 672.2 596.7 672.6 Q598 673.1 599.8 676.8 Q601.5 680.6 602.8 680.9 Q604.1 681.2 604.6 677.9 Q605.1 674.6 606.3 674.7 Q607.6 674.9 609.8 678.4 Q612.1 681.9 613.3 681.9 Q614.5 681.8 614.3 678.2 Q614.2 674.5 615.3 674.3 Q616.4 674.1 619 677.2 Q621.7 680.3 622.7 679.9Z" fill="none" stroke="#000" stroke-width="2.1" />
<path d="M613.6 703.2 L619.5 709.8 L625.2 702.7 L619.9 695.4 L621.6 692.3 L623.1 689.1 L624.4 685.6 L625.5 682 L626.3 678.2 L627 674.2 L633.7 677.3 L634.4 665.9 L627.7 661.6 L627.5 657.2 L627 652.7 L626.4 648.1 L625.5 643.5 L624.5 638.8 L623.2 634.1 L629 632.9 L624.4 620.2 L618.2 620.1 L616.1 615.5 L613.9 610.9 L611.4 606.5 L608.9 602.1 L606.1 597.8 L603.3 593.6 L606.5 588.4 L598 577.8 L593.8 582 L590.5 578.4 L587 575 L583.5 571.9 L579.9 568.9 L576.2 566.1 L572.5 563.6 L572.4 555.8 L562.2 550.2 L561.3 557.4 L557.5 555.9 L553.7 554.6 L550 553.6 L546.4 552.8 L542.8 552.3 L539.2 552.1 L535.7 543.8 L526.6 544.7 L529.1 553.1 L526 553.9 L522.9 555.1 L520 556.5 L517.3 558.1 L514.7 560 L512.3 562.2 L506.4 555.6 L500.7 562.7 L506 570 L504.3 573.1 L502.8 576.3 L501.5 579.8 L500.5 583.4 L499.6 587.2 L498.9 591.2 L492.2 588.1 L491.5 599.5 L498.2 603.8 L498.4 608.2 L498.9 612.7 L499.5 617.3 L500.4 621.9 L501.4 626.6 L502.7 631.3 L496.9 632.5 L501.5 645.2 L507.7 645.3 L509.8 649.9 L512 654.5 L514.5 658.9 L517 663.3 L519.8 667.6 L522.6 671.8 L519.4 677 L527.9 687.6 L532.1 683.4 L535.4 687 L538.9 690.4 L542.4 693.5 L546 696.5 L549.7 699.3 L553.4 701.8 L553.5 709.6 L563.7 715.2 L564.7 708 L568.4 709.5 L572.2 710.8 L575.9 711.8 L579.5 712.6 L583.1 713.1 L586.7 713.3 L590.2 721.6 L599.3 720.7 L596.8 712.3 L599.9 711.5 L603 710.3 L605.9 708.9 L608.6 707.3 L611.2 705.4Z" fill="#fff" stroke="#000" stroke-width="1.7" />
<path d="M617.3 711.1L619.5 709.8" stroke="#000" stroke-width="1.3" fill="none" />
<path d="M622.9 704L625.2 702.7" stroke="#000" stroke-width="1.3" fill="none" />
<path d="M631.5 678.6L633.7 677.3" stroke="#000" stroke-width="1.3" fill="none" />
<path d="M632.1 667.2L634.4 665.9" stroke="#000" stroke-width="1.3" fill="none" />
<path d="M626.7 634.2L629 632.9" stroke="#000" stroke-width="1.3" fill="none" />
<path d="M622.2 621.5L624.4 620.2" stroke="#000" stroke-width="1.3" fill="none" />
<path d="M604.3 589.7L606.5 588.4" stroke="#000" stroke-width="1.3" fill="none" />
<path d="M595.8 579.1L598 577.8" stroke="#000" stroke-width="1.3" fill="none" />
<path d="M570.1 557.1L572.4 555.8" stroke="#000" stroke-width="1.3" fill="none" />
<path d="M559.9 551.5L562.2 550.2" stroke="#000" stroke-width="1.3" fill="none" />
<path d="M533.5 545.1L535.7 543.8" stroke="#000" stroke-width="1.3" fill="none" />
<path d="M524.3 546L526.6 544.7" stroke="#000" stroke-width="1.3" fill="none" />
<path d="M504.1 556.9L506.4 555.6" stroke="#000" stroke-width="1.3" fill="none" />
<path d="M498.5 564L500.7 562.7" stroke="#000" stroke-width="1.3" fill="none" />
<path d="M489.9 589.4L492.2 588.1" stroke="#000" stroke-width="1.3" fill="none" />
<path d="M489.3 600.8L491.5 599.5" stroke="#000" stroke-width="1.3" fill="none" />
<path d="M494.7 633.8L496.9 632.5" stroke="#000" stroke-width="1.3" fill="none" />
<path d="M499.2 646.5L501.5 645.2" stroke="#000" stroke-width="1.3" fill="none" />
<path d="M517.1 678.3L519.4 677" stroke="#000" stroke-width="1.3" fill="none" />
<path d="M525.6 688.9L527.9 687.6" stroke="#000" stroke-width="1.3" fill="none" />
<path d="M551.3 710.9L553.5 709.6" stroke="#000" stroke-width="1.3" fill="none" />
<path d="M561.5 716.5L563.7 715.2" stroke="#000" stroke-width="1.3" fill="none" />
<path d="M587.9 722.9L590.2 721.6" stroke="#000" stroke-width="1.3" fill="none" />
<path d="M597.1 722L599.3 720.7" stroke="#000" stroke-width="1.3" fill="none" />
<path d="M611.4 704.5 L617.3 711.1 L622.9 704 L617.6 696.7 L619.3 693.6 L620.8 690.4 L622.1 686.9 L623.2 683.3 L624.1 679.5 L624.7 675.5 L631.5 678.6 L632.1 667.2 L625.4 662.9 L625.2 658.5 L624.8 654 L624.2 649.4 L623.3 644.8 L622.2 640.1 L620.9 635.4 L626.7 634.2 L622.2 621.5 L615.9 621.4 L613.8 616.8 L611.6 612.2 L609.2 607.8 L606.6 603.4 L603.9 599.1 L601 594.9 L604.3 589.7 L595.8 579.1 L591.6 583.3 L588.2 579.7 L584.8 576.3 L581.2 573.2 L577.6 570.2 L574 567.4 L570.3 564.9 L570.1 557.1 L559.9 551.5 L559 558.7 L555.2 557.2 L551.5 555.9 L547.8 554.9 L544.1 554.1 L540.5 553.6 L537 553.4 L533.5 545.1 L524.3 546 L526.9 554.4 L523.7 555.2 L520.7 556.4 L517.8 557.8 L515 559.4 L512.4 561.3 L510 563.5 L504.1 556.9 L498.5 564 L503.8 571.3 L502.1 574.4 L500.6 577.6 L499.3 581.1 L498.2 584.7 L497.3 588.5 L496.7 592.5 L489.9 589.4 L489.3 600.8 L496 605.1 L496.2 609.5 L496.6 614 L497.2 618.6 L498.1 623.2 L499.2 627.9 L500.5 632.6 L494.7 633.8 L499.2 646.5 L505.5 646.6 L507.6 651.2 L509.8 655.8 L512.2 660.2 L514.8 664.6 L517.5 668.9 L520.4 673.1 L517.1 678.3 L525.6 688.9 L529.8 684.7 L533.2 688.3 L536.6 691.7 L540.2 694.8 L543.8 697.8 L547.4 700.6 L551.1 703.1 L551.3 710.9 L561.5 716.5 L562.4 709.3 L566.2 710.8 L569.9 712.1 L573.6 713.1 L577.3 713.9 L580.9 714.4 L584.4 714.6 L587.9 722.9 L597.1 722 L594.5 713.6 L597.7 712.8 L600.7 711.6 L603.6 710.2 L606.4 708.6 L609 706.7Z" fill="#fff" stroke="#000" stroke-width="2" />
<path d="M611.4 704.5 L613.1 702.8 L614.7 700.9 L616.2 698.8 L617.6 696.7" fill="none" stroke="#000" stroke-width="1.3" />
<path d="M624.7 675.5 L625.1 672.5 L625.3 669.4 L625.4 666.2 L625.4 662.9" fill="none" stroke="#000" stroke-width="1.3" />
<path d="M620.9 635.4 L619.9 631.9 L618.6 628.4 L617.3 624.9 L615.9 621.4" fill="none" stroke="#000" stroke-width="1.3" />
<path d="M601 594.9 L598.8 591.9 L596.4 588.9 L594 586.1 L591.6 583.3" fill="none" stroke="#000" stroke-width="1.3" />
<path d="M570.3 564.9 L567.5 563.1 L564.6 561.5 L561.8 560.1 L559 558.7" fill="none" stroke="#000" stroke-width="1.3" />
<path d="M537 553.4 L534.4 553.4 L531.8 553.6 L529.3 553.9 L526.9 554.4" fill="none" stroke="#000" stroke-width="1.3" />
<path d="M510 563.5 L508.3 565.2 L506.7 567.1 L505.2 569.2 L503.8 571.3" fill="none" stroke="#000" stroke-width="1.3" />
<path d="M496.7 592.5 L496.3 595.5 L496.1 598.6 L496 601.8 L496 605.1" fill="none" stroke="#000" stroke-width="1.3" />
<path d="M500.5 632.6 L501.5 636.1 L502.8 639.6 L504.1 643.1 L505.5 646.6" fill="none" stroke="#000" stroke-width="1.3" />
<path d="M520.4 673.1 L522.6 676.1 L525 679.1 L527.4 681.9 L529.8 684.7" fill="none" stroke="#000" stroke-width="1.3" />
<path d="M551.1 703.1 L553.9 704.9 L556.8 706.5 L559.6 707.9 L562.4 709.3" fill="none" stroke="#000" stroke-width="1.3" />
<path d="M584.4 714.6 L587 714.6 L589.6 714.4 L592.1 714.1 L594.5 713.6" fill="none" stroke="#000" stroke-width="1.3" />
<ellipse cx="560.7" cy="634" rx="73.8" ry="46.5" transform="rotate(60 560.7 634)" fill="none" stroke="#000" stroke-width="1.7"/>
<path d="M599.5 696.7L601.7 711.2" stroke="#000" stroke-width="1.2" fill="none" />
<path d="M601.1 695.5L603.8 710.1" stroke="#000" stroke-width="1.2" fill="none" />
<path d="M605.6 691.2L609.8 706" stroke="#000" stroke-width="1.2" fill="none" />
<path d="M606.9 689.5L611.6 704.4" stroke="#000" stroke-width="1.2" fill="none" />
<path d="M610.3 684L616.4 698.6" stroke="#000" stroke-width="1.2" fill="none" />
<path d="M611.3 681.9L617.7 696.5" stroke="#000" stroke-width="1.2" fill="none" />
<path d="M613.5 675.2L621.3 689.3" stroke="#000" stroke-width="1.2" fill="none" />
<path d="M614.1 672.8L622.2 686.6" stroke="#000" stroke-width="1.2" fill="none" />
<path d="M615.1 665.2L624.3 678.2" stroke="#000" stroke-width="1.2" fill="none" />
<path d="M615.3 662.5L624.8 675.2" stroke="#000" stroke-width="1.2" fill="none" />
<path d="M615.1 654.2L625.4 665.8" stroke="#000" stroke-width="1.2" fill="none" />
<path d="M614.8 651.3L625.4 662.6" stroke="#000" stroke-width="1.2" fill="none" />
<path d="M613.4 642.6L624.6 652.5" stroke="#000" stroke-width="1.2" fill="none" />
<path d="M612.7 639.6L624.1 649.1" stroke="#000" stroke-width="1.2" fill="none" />
<path d="M610.1 630.8L621.8 638.6" stroke="#000" stroke-width="1.2" fill="none" />
<path d="M609 627.8L620.8 635.1" stroke="#000" stroke-width="1.2" fill="none" />
<path d="M605.3 619L617.2 624.5" stroke="#000" stroke-width="1.2" fill="none" />
<path d="M603.9 616.1L615.8 621.1" stroke="#000" stroke-width="1.2" fill="none" />
<path d="M599.1 607.7L610.8 610.8" stroke="#000" stroke-width="1.2" fill="none" />
<path d="M597.4 605L609 607.4" stroke="#000" stroke-width="1.2" fill="none" />
<path d="M591.8 597.2L603 597.7" stroke="#000" stroke-width="1.2" fill="none" />
<path d="M589.8 594.8L600.8 594.6" stroke="#000" stroke-width="1.2" fill="none" />
<path d="M583.6 587.8L593.8 585.8" stroke="#000" stroke-width="1.2" fill="none" />
<path d="M581.4 585.7L591.3 583" stroke="#000" stroke-width="1.2" fill="none" />
<path d="M574.6 579.9L583.6 575.3" stroke="#000" stroke-width="1.2" fill="none" />
<path d="M572.3 578.1L581 572.9" stroke="#000" stroke-width="1.2" fill="none" />
<path d="M565.2 573.5L572.8 566.6" stroke="#000" stroke-width="1.2" fill="none" />
<path d="M562.8 572.2L570 564.7" stroke="#000" stroke-width="1.2" fill="none" />
<path d="M555.7 569.1L561.5 559.9" stroke="#000" stroke-width="1.2" fill="none" />
<path d="M553.3 568.2L558.7 558.6" stroke="#000" stroke-width="1.2" fill="none" />
<path d="M546.3 566.5L550.3 555.5" stroke="#000" stroke-width="1.2" fill="none" />
<path d="M544 566.2L547.5 554.8" stroke="#000" stroke-width="1.2" fill="none" />
<path d="M537.4 566.1L539.3 553.5" stroke="#000" stroke-width="1.2" fill="none" />
<path d="M535.3 566.3L536.7 553.4" stroke="#000" stroke-width="1.2" fill="none" />
<path d="M529.2 567.7L529.1 553.9" stroke="#000" stroke-width="1.2" fill="none" />
<path d="M527.3 568.4L526.6 554.4" stroke="#000" stroke-width="1.2" fill="none" />
<path d="M521.9 571.3L519.7 556.8" stroke="#000" stroke-width="1.2" fill="none" />
<path d="M520.3 572.5L517.6 557.9" stroke="#000" stroke-width="1.2" fill="none" />
<path d="M515.8 576.8L511.6 562" stroke="#000" stroke-width="1.2" fill="none" />
<path d="M514.5 578.5L509.8 563.6" stroke="#000" stroke-width="1.2" fill="none" />
<path d="M511.1 584L505 569.4" stroke="#000" stroke-width="1.2" fill="none" />
<path d="M510.1 586.1L503.7 571.5" stroke="#000" stroke-width="1.2" fill="none" />
<path d="M507.9 592.8L500.1 578.7" stroke="#000" stroke-width="1.2" fill="none" />
<path d="M507.3 595.2L499.2 581.4" stroke="#000" stroke-width="1.2" fill="none" />
<path d="M506.3 602.8L497.1 589.8" stroke="#000" stroke-width="1.2" fill="none" />
<path d="M506.1 605.5L496.6 592.8" stroke="#000" stroke-width="1.2" fill="none" />
<path d="M506.3 613.8L496 602.2" stroke="#000" stroke-width="1.2" fill="none" />
<path d="M506.6 616.7L496 605.4" stroke="#000" stroke-width="1.2" fill="none" />
<path d="M508 625.4L496.8 615.5" stroke="#000" stroke-width="1.2" fill="none" />
<path d="M508.7 628.4L497.3 618.9" stroke="#000" stroke-width="1.2" fill="none" />
<path d="M511.3 637.2L499.6 629.4" stroke="#000" stroke-width="1.2" fill="none" />
<path d="M512.4 640.2L500.6 632.9" stroke="#000" stroke-width="1.2" fill="none" />
<path d="M516.1 649L504.2 643.5" stroke="#000" stroke-width="1.2" fill="none" />
<path d="M517.5 651.9L505.6 646.9" stroke="#000" stroke-width="1.2" fill="none" />
<path d="M522.3 660.3L510.6 657.2" stroke="#000" stroke-width="1.2" fill="none" />
<path d="M524 663L512.4 660.6" stroke="#000" stroke-width="1.2" fill="none" />
<path d="M529.6 670.8L518.4 670.3" stroke="#000" stroke-width="1.2" fill="none" />
<path d="M531.6 673.2L520.6 673.4" stroke="#000" stroke-width="1.2" fill="none" />
<path d="M537.8 680.2L527.6 682.2" stroke="#000" stroke-width="1.2" fill="none" />
<path d="M540 682.3L530.1 685" stroke="#000" stroke-width="1.2" fill="none" />
<path d="M546.8 688.1L537.8 692.7" stroke="#000" stroke-width="1.2" fill="none" />
<path d="M549.1 689.9L540.4 695.1" stroke="#000" stroke-width="1.2" fill="none" />
<path d="M556.2 694.5L548.6 701.4" stroke="#000" stroke-width="1.2" fill="none" />
<path d="M558.6 695.8L551.4 703.3" stroke="#000" stroke-width="1.2" fill="none" />
<path d="M565.7 698.9L559.9 708.1" stroke="#000" stroke-width="1.2" fill="none" />
<path d="M568.1 699.8L562.7 709.4" stroke="#000" stroke-width="1.2" fill="none" />
<path d="M575.1 701.5L571.1 712.5" stroke="#000" stroke-width="1.2" fill="none" />
<path d="M577.4 701.8L573.9 713.2" stroke="#000" stroke-width="1.2" fill="none" />
<path d="M584 701.9L582.1 714.5" stroke="#000" stroke-width="1.2" fill="none" />
<path d="M586.1 701.7L584.7 714.6" stroke="#000" stroke-width="1.2" fill="none" />
<path d="M592.2 700.3L592.3 714.1" stroke="#000" stroke-width="1.2" fill="none" />
<path d="M594.1 699.6L594.8 713.6" stroke="#000" stroke-width="1.2" fill="none" />
<ellipse cx="535.3" cy="646.1" rx="85.4" ry="53.8" transform="rotate(60 535.3 646.1)" fill="#fff" stroke="#000" stroke-width="1.6"/>
<ellipse cx="533" cy="647.4" rx="85.4" ry="53.8" transform="rotate(60 533 647.4)" fill="#fff" stroke="#000" stroke-width="1.8"/>
<path d="M558.4 714.4 Q559.5 714 558.7 710.2 Q558 706.4 558.9 705.9 Q559.8 705.3 562.8 707.9 Q565.7 710.5 566.6 709.8 Q567.4 709 566.1 705.2 Q564.7 701.3 565.4 700.5 Q566.2 699.6 569.2 701.6 Q572.3 703.5 573 702.5 Q573.6 701.5 571.7 697.8 Q569.7 694.1 570.3 693 Q570.8 691.8 573.9 693 Q577 694.2 577.3 693 Q577.7 691.7 575.4 688.3 Q573 684.9 573.2 683.6 Q573.5 682.2 576.4 682.7 Q579.4 683.1 579.5 681.6 Q579.7 680.2 576.9 677.2 Q574.2 674.2 574.2 672.8 Q574.1 671.3 576.9 670.9 Q579.6 670.5 579.4 668.9 Q579.3 667.3 576.3 664.9 Q573.3 662.6 573 661 Q572.8 659.4 575.1 658.2 Q577.5 657 577.1 655.4 Q576.6 653.7 573.5 652.1 Q570.5 650.4 569.9 648.8 Q569.4 647.2 571.3 645.2 Q573.2 643.3 572.5 641.7 Q571.8 640.1 568.8 639.1 Q565.7 638.2 564.9 636.6 Q564.2 635.1 565.5 632.5 Q566.8 629.9 565.9 628.4 Q565.1 626.8 562.1 626.7 Q559.2 626.6 558.3 625.1 Q557.3 623.7 558.1 620.6 Q558.8 617.5 557.7 616.1 Q556.6 614.7 554 615.3 Q551.4 616 550.3 614.7 Q549.2 613.5 549.2 610 Q549.3 606.4 548.1 605.2 Q546.9 604.1 544.7 605.5 Q542.5 607 541.3 605.9 Q540 604.9 539.5 601.1 Q538.9 597.4 537.6 596.4 Q536.3 595.5 534.6 597.7 Q532.9 599.8 531.6 599.1 Q530.3 598.3 529.2 594.5 Q528 590.6 526.6 590 Q525.3 589.4 524.2 592.1 Q523.1 594.9 521.8 594.5 Q520.5 594 518.8 590.3 Q517 586.5 515.7 586.2 Q514.4 585.9 513.9 589.2 Q513.4 592.5 512.2 592.4 Q511 592.2 508.7 588.7 Q506.5 585.2 505.3 585.2 Q504.1 585.3 504.2 588.9 Q504.3 592.6 503.2 592.8 Q502.1 593 499.5 589.9 Q496.8 586.8 495.8 587.2 Q494.7 587.6 495.5 591.4 Q496.3 595.2 495.3 595.7 Q494.4 596.3 491.5 593.7 Q488.5 591.1 487.7 591.8 Q486.8 592.6 488.2 596.4 Q489.5 600.3 488.8 601.1 Q488.1 602 485 600 Q481.9 598.1 481.3 599.1 Q480.6 600.1 482.5 603.8 Q484.5 607.5 484 608.6 Q483.5 609.8 480.4 608.6 Q477.3 607.4 476.9 608.6 Q476.5 609.9 478.9 613.3 Q481.3 616.7 481 618 Q480.7 619.4 477.8 618.9 Q474.8 618.5 474.7 620 Q474.6 621.4 477.3 624.4 Q480.1 627.4 480.1 628.8 Q480.1 630.3 477.3 630.7 Q474.6 631.1 474.8 632.7 Q474.9 634.3 477.9 636.7 Q480.9 639 481.2 640.6 Q481.5 642.2 479.1 643.4 Q476.7 644.6 477.2 646.2 Q477.6 647.9 480.7 649.5 Q483.8 651.2 484.3 652.8 Q484.8 654.4 482.9 656.4 Q481.1 658.3 481.7 659.9 Q482.4 661.5 485.5 662.5 Q488.5 663.4 489.3 665 Q490.1 666.5 488.7 669.1 Q487.4 671.7 488.3 673.2 Q489.2 674.8 492.1 674.9 Q495 675 495.9 676.5 Q496.9 677.9 496.2 681 Q495.4 684.1 496.5 685.5 Q497.6 686.9 500.2 686.3 Q502.8 685.6 503.9 686.9 Q505.1 688.1 505 691.6 Q504.9 695.2 506.1 696.4 Q507.3 697.5 509.5 696.1 Q511.7 694.6 513 695.7 Q514.2 696.7 514.8 700.5 Q515.3 704.2 516.6 705.2 Q517.9 706.1 519.6 703.9 Q521.3 701.8 522.6 702.5 Q523.9 703.3 525.1 707.1 Q526.2 711 527.6 711.6 Q528.9 712.2 530 709.5 Q531.2 706.7 532.4 707.1 Q533.7 707.6 535.5 711.3 Q537.2 715.1 538.5 715.4 Q539.8 715.7 540.3 712.4 Q540.8 709.1 542 709.2 Q543.3 709.4 545.5 712.9 Q547.8 716.4 549 716.4 Q550.2 716.3 550 712.7 Q549.9 709 551 708.8 Q552.1 708.6 554.7 711.7 Q557.4 714.8 558.4 714.4Z" fill="none" stroke="#000" stroke-width="2.1" />
<path d="M549.3 737.7 L555.2 744.3 L560.9 737.2 L555.6 729.9 L557.3 726.8 L558.8 723.6 L560.1 720.1 L561.2 716.5 L562 712.7 L562.7 708.7 L569.4 711.8 L570.1 700.4 L563.4 696.1 L563.2 691.7 L562.7 687.2 L562.1 682.6 L561.2 678 L560.2 673.3 L558.9 668.6 L564.7 667.4 L560.1 654.7 L553.9 654.6 L551.8 650 L549.6 645.4 L547.1 641 L544.6 636.6 L541.8 632.3 L539 628.1 L542.2 622.9 L533.7 612.3 L529.5 616.5 L526.2 612.9 L522.7 609.5 L519.2 606.4 L515.6 603.4 L511.9 600.6 L508.2 598.1 L508.1 590.3 L497.9 584.7 L497 591.9 L493.2 590.4 L489.4 589.1 L485.7 588.1 L482.1 587.3 L478.5 586.8 L474.9 586.6 L471.4 578.3 L462.3 579.2 L464.8 587.6 L461.7 588.4 L458.6 589.6 L455.7 591 L453 592.6 L450.4 594.5 L448 596.7 L442.1 590.1 L436.4 597.2 L441.7 604.5 L440 607.6 L438.5 610.8 L437.2 614.3 L436.2 617.9 L435.3 621.7 L434.6 625.7 L427.9 622.6 L427.2 634 L433.9 638.3 L434.1 642.7 L434.6 647.2 L435.2 651.8 L436.1 656.4 L437.1 661.1 L438.4 665.8 L432.6 667 L437.2 679.7 L443.4 679.8 L445.5 684.4 L447.7 689 L450.2 693.4 L452.7 697.8 L455.5 702.1 L458.3 706.3 L455.1 711.5 L463.6 722.1 L467.8 717.9 L471.1 721.5 L474.6 724.9 L478.1 728 L481.7 731 L485.4 733.8 L489.1 736.3 L489.2 744.1 L499.4 749.7 L500.4 742.5 L504.1 744 L507.9 745.3 L511.6 746.3 L515.2 747.1 L518.8 747.6 L522.4 747.8 L525.9 756.1 L535 755.2 L532.5 746.8 L535.6 746 L538.7 744.8 L541.6 743.4 L544.3 741.8 L546.9 739.9Z" fill="#fff" stroke="#000" stroke-width="1.7" />
<path d="M553 745.6L555.2 744.3" stroke="#000" stroke-width="1.3" fill="none" />
<path d="M558.6 738.5L560.9 737.2" stroke="#000" stroke-width="1.3" fill="none" />
<path d="M567.2 713.1L569.4 711.8" stroke="#000" stroke-width="1.3" fill="none" />
<path d="M567.8 701.7L570.1 700.4" stroke="#000" stroke-width="1.3" fill="none" />
<path d="M562.4 668.7L564.7 667.4" stroke="#000" stroke-width="1.3" fill="none" />
<path d="M557.9 656L560.1 654.7" stroke="#000" stroke-width="1.3" fill="none" />
<path d="M540 624.2L542.2 622.9" stroke="#000" stroke-width="1.3" fill="none" />
<path d="M531.5 613.6L533.7 612.3" stroke="#000" stroke-width="1.3" fill="none" />
<path d="M505.8 591.6L508.1 590.3" stroke="#000" stroke-width="1.3" fill="none" />
<path d="M495.6 586L497.9 584.7" stroke="#000" stroke-width="1.3" fill="none" />
<path d="M469.2 579.6L471.4 578.3" stroke="#000" stroke-width="1.3" fill="none" />
<path d="M460 580.5L462.3 579.2" stroke="#000" stroke-width="1.3" fill="none" />
<path d="M439.8 591.4L442.1 590.1" stroke="#000" stroke-width="1.3" fill="none" />
<path d="M434.2 598.5L436.4 597.2" stroke="#000" stroke-width="1.3" fill="none" />
<path d="M425.6 623.9L427.9 622.6" stroke="#000" stroke-width="1.3" fill="none" />
<path d="M425 635.3L427.2 634" stroke="#000" stroke-width="1.3" fill="none" />
<path d="M430.4 668.3L432.6 667" stroke="#000" stroke-width="1.3" fill="none" />
<path d="M434.9 681L437.2 679.7" stroke="#000" stroke-width="1.3" fill="none" />
<path d="M452.8 712.8L455.1 711.5" stroke="#000" stroke-width="1.3" fill="none" />
<path d="M461.3 723.4L463.6 722.1" stroke="#000" stroke-width="1.3" fill="none" />
<path d="M487 745.4L489.2 744.1" stroke="#000" stroke-width="1.3" fill="none" />
<path d="M497.2 751L499.4 749.7" stroke="#000" stroke-width="1.3" fill="none" />
<path d="M523.6 757.4L525.9 756.1" stroke="#000" stroke-width="1.3" fill="none" />
<path d="M532.8 756.5L535 755.2" stroke="#000" stroke-width="1.3" fill="none" />
<path d="M547.1 739 L553 745.6 L558.6 738.5 L553.3 731.2 L555 728.1 L556.5 724.9 L557.8 721.4 L558.9 717.8 L559.8 714 L560.4 710 L567.2 713.1 L567.8 701.7 L561.1 697.4 L560.9 693 L560.5 688.5 L559.9 683.9 L559 679.3 L557.9 674.6 L556.6 669.9 L562.4 668.7 L557.9 656 L551.6 655.9 L549.5 651.3 L547.3 646.7 L544.9 642.3 L542.3 637.9 L539.6 633.6 L536.7 629.4 L540 624.2 L531.5 613.6 L527.3 617.8 L523.9 614.2 L520.5 610.8 L516.9 607.7 L513.3 604.7 L509.7 601.9 L506 599.4 L505.8 591.6 L495.6 586 L494.7 593.2 L490.9 591.7 L487.2 590.4 L483.5 589.4 L479.8 588.6 L476.2 588.1 L472.7 587.9 L469.2 579.6 L460 580.5 L462.6 588.9 L459.4 589.7 L456.4 590.9 L453.5 592.3 L450.7 593.9 L448.1 595.8 L445.7 598 L439.8 591.4 L434.2 598.5 L439.5 605.8 L437.8 608.9 L436.3 612.1 L435 615.6 L433.9 619.2 L433 623 L432.4 627 L425.6 623.9 L425 635.3 L431.7 639.6 L431.9 644 L432.3 648.5 L432.9 653.1 L433.8 657.7 L434.9 662.4 L436.2 667.1 L430.4 668.3 L434.9 681 L441.2 681.1 L443.3 685.7 L445.5 690.3 L447.9 694.7 L450.5 699.1 L453.2 703.4 L456.1 707.6 L452.8 712.8 L461.3 723.4 L465.5 719.2 L468.9 722.8 L472.3 726.2 L475.9 729.3 L479.5 732.3 L483.1 735.1 L486.8 737.6 L487 745.4 L497.2 751 L498.1 743.8 L501.9 745.3 L505.6 746.6 L509.3 747.6 L513 748.4 L516.6 748.9 L520.1 749.1 L523.6 757.4 L532.8 756.5 L530.2 748.1 L533.4 747.3 L536.4 746.1 L539.3 744.7 L542.1 743.1 L544.7 741.2Z" fill="#fff" stroke="#000" stroke-width="2" />
<path d="M547.1 739 L548.8 737.3 L550.4 735.4 L551.9 733.3 L553.3 731.2" fill="none" stroke="#000" stroke-width="1.3" />
<path d="M560.4 710 L560.8 707 L561 703.9 L561.1 700.7 L561.1 697.4" fill="none" stroke="#000" stroke-width="1.3" />
<path d="M556.6 669.9 L555.6 666.4 L554.3 662.9 L553 659.4 L551.6 655.9" fill="none" stroke="#000" stroke-width="1.3" />
<path d="M536.7 629.4 L534.5 626.4 L532.1 623.4 L529.7 620.6 L527.3 617.8" fill="none" stroke="#000" stroke-width="1.3" />
<path d="M506 599.4 L503.2 597.6 L500.3 596 L497.5 594.6 L494.7 593.2" fill="none" stroke="#000" stroke-width="1.3" />
<path d="M472.7 587.9 L470.1 587.9 L467.5 588.1 L465 588.4 L462.6 588.9" fill="none" stroke="#000" stroke-width="1.3" />
<path d="M445.7 598 L444 599.7 L442.4 601.6 L440.9 603.7 L439.5 605.8" fill="none" stroke="#000" stroke-width="1.3" />
<path d="M432.4 627 L432 630 L431.8 633.1 L431.7 636.3 L431.7 639.6" fill="none" stroke="#000" stroke-width="1.3" />
<path d="M436.2 667.1 L437.2 670.6 L438.5 674.1 L439.8 677.6 L441.2 681.1" fill="none" stroke="#000" stroke-width="1.3" />
<path d="M456.1 707.6 L458.3 710.6 L460.7 713.6 L463.1 716.4 L465.5 719.2" fill="none" stroke="#000" stroke-width="1.3" />
<path d="M486.8 737.6 L489.6 739.4 L492.5 741 L495.3 742.4 L498.1 743.8" fill="none" stroke="#000" stroke-width="1.3" />
<path d="M520.1 749.1 L522.7 749.1 L525.3 748.9 L527.8 748.6 L530.2 748.1" fill="none" stroke="#000" stroke-width="1.3" />
<ellipse cx="496.4" cy="668.5" rx="73.8" ry="46.5" transform="rotate(60 496.4 668.5)" fill="none" stroke="#000" stroke-width="1.7"/>
<path d="M535.2 731.2L537.4 745.7" stroke="#000" stroke-width="1.2" fill="none" />
<path d="M536.8 730L539.5 744.6" stroke="#000" stroke-width="1.2" fill="none" />
<path d="M541.3 725.7L545.5 740.5" stroke="#000" stroke-width="1.2" fill="none" />
<path d="M542.6 724L547.3 738.9" stroke="#000" stroke-width="1.2" fill="none" />
<path d="M546 718.5L552.1 733.1" stroke="#000" stroke-width="1.2" fill="none" />
<path d="M547 716.4L553.4 731" stroke="#000" stroke-width="1.2" fill="none" />
<path d="M549.2 709.7L557 723.8" stroke="#000" stroke-width="1.2" fill="none" />
<path d="M549.8 707.3L557.9 721.1" stroke="#000" stroke-width="1.2" fill="none" />
<path d="M550.8 699.7L560 712.7" stroke="#000" stroke-width="1.2" fill="none" />
<path d="M551 697L560.5 709.7" stroke="#000" stroke-width="1.2" fill="none" />
<path d="M550.8 688.7L561.1 700.3" stroke="#000" stroke-width="1.2" fill="none" />
<path d="M550.5 685.8L561.1 697.1" stroke="#000" stroke-width="1.2" fill="none" />
<path d="M549.1 677.1L560.3 687" stroke="#000" stroke-width="1.2" fill="none" />
<path d="M548.4 674.1L559.8 683.6" stroke="#000" stroke-width="1.2" fill="none" />
<path d="M545.8 665.3L557.5 673.1" stroke="#000" stroke-width="1.2" fill="none" />
<path d="M544.7 662.3L556.5 669.6" stroke="#000" stroke-width="1.2" fill="none" />
<path d="M541 653.5L552.9 659" stroke="#000" stroke-width="1.2" fill="none" />
<path d="M539.6 650.6L551.5 655.6" stroke="#000" stroke-width="1.2" fill="none" />
<path d="M534.8 642.2L546.5 645.3" stroke="#000" stroke-width="1.2" fill="none" />
<path d="M533.1 639.5L544.7 641.9" stroke="#000" stroke-width="1.2" fill="none" />
<path d="M527.5 631.7L538.7 632.2" stroke="#000" stroke-width="1.2" fill="none" />
<path d="M525.5 629.3L536.5 629.1" stroke="#000" stroke-width="1.2" fill="none" />
<path d="M519.3 622.3L529.5 620.3" stroke="#000" stroke-width="1.2" fill="none" />
<path d="M517.1 620.2L527 617.5" stroke="#000" stroke-width="1.2" fill="none" />
<path d="M510.3 614.4L519.3 609.8" stroke="#000" stroke-width="1.2" fill="none" />
<path d="M508 612.6L516.7 607.4" stroke="#000" stroke-width="1.2" fill="none" />
<path d="M500.9 608L508.5 601.1" stroke="#000" stroke-width="1.2" fill="none" />
<path d="M498.5 606.7L505.7 599.2" stroke="#000" stroke-width="1.2" fill="none" />
<path d="M491.4 603.6L497.2 594.4" stroke="#000" stroke-width="1.2" fill="none" />
<path d="M489 602.7L494.4 593.1" stroke="#000" stroke-width="1.2" fill="none" />
<path d="M482 601L486 590" stroke="#000" stroke-width="1.2" fill="none" />
<path d="M479.7 600.7L483.2 589.3" stroke="#000" stroke-width="1.2" fill="none" />
<path d="M473.1 600.6L475 588" stroke="#000" stroke-width="1.2" fill="none" />
<path d="M471 600.8L472.4 587.9" stroke="#000" stroke-width="1.2" fill="none" />
<path d="M464.9 602.2L464.8 588.4" stroke="#000" stroke-width="1.2" fill="none" />
<path d="M463 602.9L462.3 588.9" stroke="#000" stroke-width="1.2" fill="none" />
<path d="M457.6 605.8L455.4 591.3" stroke="#000" stroke-width="1.2" fill="none" />
<path d="M456 607L453.3 592.4" stroke="#000" stroke-width="1.2" fill="none" />
<path d="M451.5 611.3L447.3 596.5" stroke="#000" stroke-width="1.2" fill="none" />
<path d="M450.2 613L445.5 598.1" stroke="#000" stroke-width="1.2" fill="none" />
<path d="M446.8 618.5L440.7 603.9" stroke="#000" stroke-width="1.2" fill="none" />
<path d="M445.8 620.6L439.4 606" stroke="#000" stroke-width="1.2" fill="none" />
<path d="M443.6 627.3L435.8 613.2" stroke="#000" stroke-width="1.2" fill="none" />
<path d="M443 629.7L434.9 615.9" stroke="#000" stroke-width="1.2" fill="none" />
<path d="M442 637.3L432.8 624.3" stroke="#000" stroke-width="1.2" fill="none" />
<path d="M441.8 640L432.3 627.3" stroke="#000" stroke-width="1.2" fill="none" />
<path d="M442 648.3L431.7 636.7" stroke="#000" stroke-width="1.2" fill="none" />
<path d="M442.3 651.2L431.7 639.9" stroke="#000" stroke-width="1.2" fill="none" />
<path d="M443.7 659.9L432.5 650" stroke="#000" stroke-width="1.2" fill="none" />
<path d="M444.4 662.9L433 653.4" stroke="#000" stroke-width="1.2" fill="none" />
<path d="M447 671.7L435.3 663.9" stroke="#000" stroke-width="1.2" fill="none" />
<path d="M448.1 674.7L436.3 667.4" stroke="#000" stroke-width="1.2" fill="none" />
<path d="M451.8 683.5L439.9 678" stroke="#000" stroke-width="1.2" fill="none" />
<path d="M453.2 686.4L441.3 681.4" stroke="#000" stroke-width="1.2" fill="none" />
<path d="M458 694.8L446.3 691.7" stroke="#000" stroke-width="1.2" fill="none" />
<path d="M459.7 697.5L448.1 695.1" stroke="#000" stroke-width="1.2" fill="none" />
<path d="M465.3 705.3L454.1 704.8" stroke="#000" stroke-width="1.2" fill="none" />
<path d="M467.3 707.7L456.3 707.9" stroke="#000" stroke-width="1.2" fill="none" />
<path d="M473.5 714.7L463.3 716.7" stroke="#000" stroke-width="1.2" fill="none" />
<path d="M475.7 716.8L465.8 719.5" stroke="#000" stroke-width="1.2" fill="none" />
<path d="M482.5 722.6L473.5 727.2" stroke="#000" stroke-width="1.2" fill="none" />
<path d="M484.8 724.4L476.1 729.6" stroke="#000" stroke-width="1.2" fill="none" />
<path d="M491.9 729L484.3 735.9" stroke="#000" stroke-width="1.2" fill="none" />
<path d="M494.3 730.3L487.1 737.8" stroke="#000" stroke-width="1.2" fill="none" />
<path d="M501.4 733.4L495.6 742.6" stroke="#000" stroke-width="1.2" fill="none" />
<path d="M503.8 734.3L498.4 743.9" stroke="#000" stroke-width="1.2" fill="none" />
<path d="M510.8 736L506.8 747" stroke="#000" stroke-width="1.2" fill="none" />
<path d="M513.1 736.3L509.6 747.7" stroke="#000" stroke-width="1.2" fill="none" />
<path d="M519.7 736.4L517.8 749" stroke="#000" stroke-width="1.2" fill="none" />
<path d="M521.8 736.2L520.4 749.1" stroke="#000" stroke-width="1.2" fill="none" />
<path d="M527.9 734.8L528 748.6" stroke="#000" stroke-width="1.2" fill="none" />
<path d="M529.8 734.1L530.5 748.1" stroke="#000" stroke-width="1.2" fill="none" />
<ellipse cx="471" cy="680.6" rx="85.4" ry="53.8" transform="rotate(60 471 680.6)" fill="#fff" stroke="#000" stroke-width="1.6"/>
<ellipse cx="468.7" cy="681.9" rx="85.4" ry="53.8" transform="rotate(60 468.7 681.9)" fill="#fff" stroke="#000" stroke-width="1.8"/>
<path d="M494.1 748.9 Q495.2 748.5 494.4 744.7 Q493.7 740.9 494.6 740.4 Q495.5 739.8 498.5 742.4 Q501.4 745 502.3 744.3 Q503.1 743.5 501.8 739.7 Q500.4 735.8 501.1 735 Q501.9 734.1 504.9 736.1 Q508 738 508.7 737 Q509.3 736 507.4 732.3 Q505.4 728.6 506 727.5 Q506.5 726.3 509.6 727.5 Q512.7 728.7 513 727.5 Q513.4 726.2 511.1 722.8 Q508.7 719.4 508.9 718.1 Q509.2 716.7 512.1 717.2 Q515.1 717.6 515.2 716.1 Q515.4 714.7 512.6 711.7 Q509.9 708.7 509.9 707.3 Q509.8 705.8 512.6 705.4 Q515.3 705 515.1 703.4 Q515 701.8 512 699.4 Q509 697.1 508.7 695.5 Q508.5 693.9 510.8 692.7 Q513.2 691.5 512.8 689.9 Q512.3 688.2 509.2 686.6 Q506.2 684.9 505.6 683.3 Q505.1 681.7 507 679.7 Q508.9 677.8 508.2 676.2 Q507.5 674.6 504.5 673.6 Q501.4 672.7 500.6 671.1 Q499.9 669.6 501.2 667 Q502.5 664.4 501.6 662.9 Q500.8 661.3 497.8 661.2 Q494.9 661.1 494 659.6 Q493 658.2 493.8 655.1 Q494.5 652 493.4 650.6 Q492.3 649.2 489.7 649.8 Q487.1 650.5 486 649.2 Q484.9 648 484.9 644.5 Q485 640.9 483.8 639.7 Q482.6 638.6 480.4 640 Q478.2 641.5 477 640.4 Q475.7 639.4 475.2 635.6 Q474.6 631.9 473.3 630.9 Q472 630 470.3 632.2 Q468.6 634.3 467.3 633.6 Q466 632.8 464.9 629 Q463.7 625.1 462.3 624.5 Q461 623.9 459.9 626.6 Q458.8 629.4 457.5 629 Q456.2 628.5 454.5 624.8 Q452.7 621 451.4 620.7 Q450.1 620.4 449.6 623.7 Q449.1 627 447.9 626.9 Q446.7 626.7 444.4 623.2 Q442.2 619.7 441 619.7 Q439.8 619.8 439.9 623.4 Q440 627.1 438.9 627.3 Q437.8 627.5 435.2 624.4 Q432.5 621.3 431.5 621.7 Q430.4 622.1 431.2 625.9 Q432 629.7 431 630.2 Q430.1 630.8 427.2 628.2 Q424.2 625.6 423.4 626.3 Q422.5 627.1 423.9 630.9 Q425.2 634.8 424.5 635.6 Q423.8 636.5 420.7 634.5 Q417.6 632.6 417 633.6 Q416.3 634.6 418.2 638.3 Q420.2 642 419.7 643.1 Q419.2 644.3 416.1 643.1 Q413 641.9 412.6 643.1 Q412.2 644.4 414.6 647.8 Q417 651.2 416.7 652.5 Q416.4 653.9 413.5 653.4 Q410.5 653 410.4 654.5 Q410.3 655.9 413 658.9 Q415.8 661.9 415.8 663.3 Q415.8 664.8 413 665.2 Q410.3 665.6 410.5 667.2 Q410.6 668.8 413.6 671.2 Q416.6 673.5 416.9 675.1 Q417.2 676.7 414.8 677.9 Q412.4 679.1 412.9 680.7 Q413.3 682.4 416.4 684 Q419.5 685.7 420 687.3 Q420.5 688.9 418.6 690.9 Q416.8 692.8 417.4 694.4 Q418.1 696 421.2 697 Q424.2 697.9 425 699.5 Q425.8 701 424.4 703.6 Q423.1 706.2 424 707.7 Q424.9 709.3 427.8 709.4 Q430.7 709.5 431.6 711 Q432.6 712.4 431.9 715.5 Q431.1 718.6 432.2 720 Q433.3 721.4 435.9 720.8 Q438.5 720.1 439.6 721.4 Q440.8 722.6 440.7 726.1 Q440.6 729.7 441.8 730.9 Q443 732 445.2 730.6 Q447.4 729.1 448.7 730.2 Q449.9 731.2 450.5 735 Q451 738.7 452.3 739.7 Q453.6 740.6 455.3 738.4 Q457 736.3 458.3 737 Q459.6 737.8 460.8 741.6 Q461.9 745.5 463.3 746.1 Q464.6 746.7 465.7 744 Q466.9 741.2 468.1 741.6 Q469.4 742.1 471.2 745.8 Q472.9 749.6 474.2 749.9 Q475.5 750.2 476 746.9 Q476.5 743.6 477.7 743.7 Q479 743.9 481.2 747.4 Q483.5 750.9 484.7 750.9 Q485.9 750.8 485.7 747.2 Q485.6 743.5 486.7 743.3 Q487.8 743.1 490.4 746.2 Q493.1 749.3 494.1 748.9Z" fill="none" stroke="#000" stroke-width="2.1" />
<path d="M485 772.2 L490.9 778.8 L496.6 771.7 L491.3 764.4 L493 761.3 L494.5 758.1 L495.8 754.6 L496.9 751 L497.7 747.2 L498.4 743.2 L505.1 746.3 L505.8 734.9 L499.1 730.6 L498.9 726.2 L498.4 721.7 L497.8 717.1 L496.9 712.5 L495.9 707.8 L494.6 703.1 L500.4 701.9 L495.8 689.2 L489.6 689.1 L487.5 684.5 L485.3 679.9 L482.8 675.5 L480.3 671.1 L477.5 666.8 L474.7 662.6 L477.9 657.4 L469.4 646.8 L465.2 651 L461.9 647.4 L458.4 644 L454.9 640.9 L451.3 637.9 L447.6 635.1 L443.9 632.6 L443.8 624.8 L433.6 619.2 L432.7 626.4 L428.9 624.9 L425.1 623.6 L421.4 622.6 L417.8 621.8 L414.2 621.3 L410.6 621.1 L407.1 612.8 L398 613.7 L400.5 622.1 L397.4 622.9 L394.3 624.1 L391.4 625.5 L388.7 627.1 L386.1 629 L383.7 631.2 L377.8 624.6 L372.1 631.7 L377.4 639 L375.7 642.1 L374.2 645.3 L372.9 648.8 L371.9 652.4 L371 656.2 L370.3 660.2 L363.6 657.1 L362.9 668.5 L369.6 672.8 L369.8 677.2 L370.3 681.7 L370.9 686.3 L371.8 690.9 L372.8 695.6 L374.1 700.3 L368.3 701.5 L372.9 714.2 L379.1 714.3 L381.2 718.9 L383.4 723.5 L385.9 727.9 L388.4 732.3 L391.2 736.6 L394 740.8 L390.8 746 L399.3 756.6 L403.5 752.4 L406.8 756 L410.3 759.4 L413.8 762.5 L417.4 765.5 L421.1 768.3 L424.8 770.8 L424.9 778.6 L435.1 784.2 L436.1 777 L439.8 778.5 L443.6 779.8 L447.3 780.8 L450.9 781.6 L454.5 782.1 L458.1 782.3 L461.6 790.6 L470.7 789.7 L468.2 781.3 L471.3 780.5 L474.4 779.3 L477.3 777.9 L480 776.3 L482.6 774.4Z" fill="#fff" stroke="#000" stroke-width="1.7" />
<path d="M488.7 780.1L490.9 778.8" stroke="#000" stroke-width="1.3" fill="none" />
<path d="M494.3 773L496.6 771.7" stroke="#000" stroke-width="1.3" fill="none" />
<path d="M502.9 747.6L505.1 746.3" stroke="#000" stroke-width="1.3" fill="none" />
<path d="M503.5 736.2L505.8 734.9" stroke="#000" stroke-width="1.3" fill="none" />
<path d="M498.1 703.2L500.4 701.9" stroke="#000" stroke-width="1.3" fill="none" />
<path d="M493.6 690.5L495.8 689.2" stroke="#000" stroke-width="1.3" fill="none" />
<path d="M475.7 658.7L477.9 657.4" stroke="#000" stroke-width="1.3" fill="none" />
<path d="M467.2 648.1L469.4 646.8" stroke="#000" stroke-width="1.3" fill="none" />
<path d="M441.5 626.1L443.8 624.8" stroke="#000" stroke-width="1.3" fill="none" />
<path d="M431.3 620.5L433.6 619.2" stroke="#000" stroke-width="1.3" fill="none" />
<path d="M404.9 614.1L407.1 612.8" stroke="#000" stroke-width="1.3" fill="none" />
<path d="M395.7 615L398 613.7" stroke="#000" stroke-width="1.3" fill="none" />
<path d="M375.5 625.9L377.8 624.6" stroke="#000" stroke-width="1.3" fill="none" />
<path d="M369.9 633L372.1 631.7" stroke="#000" stroke-width="1.3" fill="none" />
<path d="M361.3 658.4L363.6 657.1" stroke="#000" stroke-width="1.3" fill="none" />
<path d="M360.7 669.8L362.9 668.5" stroke="#000" stroke-width="1.3" fill="none" />
<path d="M366.1 702.8L368.3 701.5" stroke="#000" stroke-width="1.3" fill="none" />
<path d="M370.6 715.5L372.9 714.2" stroke="#000" stroke-width="1.3" fill="none" />
<path d="M388.5 747.3L390.8 746" stroke="#000" stroke-width="1.3" fill="none" />
<path d="M397 757.9L399.3 756.6" stroke="#000" stroke-width="1.3" fill="none" />
<path d="M422.7 779.9L424.9 778.6" stroke="#000" stroke-width="1.3" fill="none" />
<path d="M432.9 785.5L435.1 784.2" stroke="#000" stroke-width="1.3" fill="none" />
<path d="M459.3 791.9L461.6 790.6" stroke="#000" stroke-width="1.3" fill="none" />
<path d="M468.5 791L470.7 789.7" stroke="#000" stroke-width="1.3" fill="none" />
<path d="M482.8 773.5 L488.7 780.1 L494.3 773 L489 765.7 L490.7 762.6 L492.2 759.4 L493.5 755.9 L494.6 752.3 L495.5 748.5 L496.1 744.5 L502.9 747.6 L503.5 736.2 L496.8 731.9 L496.6 727.5 L496.2 723 L495.6 718.4 L494.7 713.8 L493.6 709.1 L492.3 704.4 L498.1 703.2 L493.6 690.5 L487.3 690.4 L485.2 685.8 L483 681.2 L480.6 676.8 L478 672.4 L475.3 668.1 L472.4 663.9 L475.7 658.7 L467.2 648.1 L463 652.3 L459.6 648.7 L456.2 645.3 L452.6 642.2 L449 639.2 L445.4 636.4 L441.7 633.9 L441.5 626.1 L431.3 620.5 L430.4 627.7 L426.6 626.2 L422.9 624.9 L419.2 623.9 L415.5 623.1 L411.9 622.6 L408.4 622.4 L404.9 614.1 L395.7 615 L398.3 623.4 L395.1 624.2 L392.1 625.4 L389.2 626.8 L386.4 628.4 L383.8 630.3 L381.4 632.5 L375.5 625.9 L369.9 633 L375.2 640.3 L373.5 643.4 L372 646.6 L370.7 650.1 L369.6 653.7 L368.7 657.5 L368.1 661.5 L361.3 658.4 L360.7 669.8 L367.4 674.1 L367.6 678.5 L368 683 L368.6 687.6 L369.5 692.2 L370.6 696.9 L371.9 701.6 L366.1 702.8 L370.6 715.5 L376.9 715.6 L379 720.2 L381.2 724.8 L383.6 729.2 L386.2 733.6 L388.9 737.9 L391.8 742.1 L388.5 747.3 L397 757.9 L401.2 753.7 L404.6 757.3 L408 760.7 L411.6 763.8 L415.2 766.8 L418.8 769.6 L422.5 772.1 L422.7 779.9 L432.9 785.5 L433.8 778.3 L437.6 779.8 L441.3 781.1 L445 782.1 L448.7 782.9 L452.3 783.4 L455.8 783.6 L459.3 791.9 L468.5 791 L465.9 782.6 L469.1 781.8 L472.1 780.6 L475 779.2 L477.8 777.6 L480.4 775.7Z" fill="#fff" stroke="#000" stroke-width="2" />
<path d="M482.8 773.5 L484.5 771.8 L486.1 769.9 L487.6 767.8 L489 765.7" fill="none" stroke="#000" stroke-width="1.3" />
<path d="M496.1 744.5 L496.5 741.5 L496.7 738.4 L496.8 735.2 L496.8 731.9" fill="none" stroke="#000" stroke-width="1.3" />
<path d="M492.3 704.4 L491.3 700.9 L490 697.4 L488.7 693.9 L487.3 690.4" fill="none" stroke="#000" stroke-width="1.3" />
<path d="M472.4 663.9 L470.2 660.9 L467.8 657.9 L465.4 655.1 L463 652.3" fill="none" stroke="#000" stroke-width="1.3" />
<path d="M441.7 633.9 L438.9 632.1 L436 630.5 L433.2 629.1 L430.4 627.7" fill="none" stroke="#000" stroke-width="1.3" />
<path d="M408.4 622.4 L405.8 622.4 L403.2 622.6 L400.7 622.9 L398.3 623.4" fill="none" stroke="#000" stroke-width="1.3" />
<path d="M381.4 632.5 L379.7 634.2 L378.1 636.1 L376.6 638.2 L375.2 640.3" fill="none" stroke="#000" stroke-width="1.3" />
<path d="M368.1 661.5 L367.7 664.5 L367.5 667.6 L367.4 670.8 L367.4 674.1" fill="none" stroke="#000" stroke-width="1.3" />
<path d="M371.9 701.6 L372.9 705.1 L374.2 708.6 L375.5 712.1 L376.9 715.6" fill="none" stroke="#000" stroke-width="1.3" />
<path d="M391.8 742.1 L394 745.1 L396.4 748.1 L398.8 750.9 L401.2 753.7" fill="none" stroke="#000" stroke-width="1.3" />
<path d="M422.5 772.1 L425.3 773.9 L428.2 775.5 L431 776.9 L433.8 778.3" fill="none" stroke="#000" stroke-width="1.3" />
<path d="M455.8 783.6 L458.4 783.6 L461 783.4 L463.5 783.1 L465.9 782.6" fill="none" stroke="#000" stroke-width="1.3" />
<ellipse cx="432.1" cy="703" rx="73.8" ry="46.5" transform="rotate(60 432.1 703)" fill="none" stroke="#000" stroke-width="1.7"/>
<path d="M470.9 765.7L473.1 780.2" stroke="#000" stroke-width="1.2" fill="none" />
<path d="M472.5 764.5L475.2 779.1" stroke="#000" stroke-width="1.2" fill="none" />
<path d="M477 760.2L481.2 775" stroke="#000" stroke-width="1.2" fill="none" />
<path d="M478.3 758.5L483 773.4" stroke="#000" stroke-width="1.2" fill="none" />
<path d="M481.7 753L487.8 767.6" stroke="#000" stroke-width="1.2" fill="none" />
<path d="M482.7 750.9L489.1 765.5" stroke="#000" stroke-width="1.2" fill="none" />
<path d="M484.9 744.2L492.7 758.3" stroke="#000" stroke-width="1.2" fill="none" />
<path d="M485.5 741.8L493.6 755.6" stroke="#000" stroke-width="1.2" fill="none" />
<path d="M486.5 734.2L495.7 747.2" stroke="#000" stroke-width="1.2" fill="none" />
<path d="M486.7 731.5L496.2 744.2" stroke="#000" stroke-width="1.2" fill="none" />
<path d="M486.5 723.2L496.8 734.8" stroke="#000" stroke-width="1.2" fill="none" />
<path d="M486.2 720.3L496.8 731.6" stroke="#000" stroke-width="1.2" fill="none" />
<path d="M484.8 711.6L496 721.5" stroke="#000" stroke-width="1.2" fill="none" />
<path d="M484.1 708.6L495.5 718.1" stroke="#000" stroke-width="1.2" fill="none" />
<path d="M481.5 699.8L493.2 707.6" stroke="#000" stroke-width="1.2" fill="none" />
<path d="M480.4 696.8L492.2 704.1" stroke="#000" stroke-width="1.2" fill="none" />
<path d="M476.7 688L488.6 693.5" stroke="#000" stroke-width="1.2" fill="none" />
<path d="M475.3 685.1L487.2 690.1" stroke="#000" stroke-width="1.2" fill="none" />
<path d="M470.5 676.7L482.2 679.8" stroke="#000" stroke-width="1.2" fill="none" />
<path d="M468.8 674L480.4 676.4" stroke="#000" stroke-width="1.2" fill="none" />
<path d="M463.2 666.2L474.4 666.7" stroke="#000" stroke-width="1.2" fill="none" />
<path d="M461.2 663.8L472.2 663.6" stroke="#000" stroke-width="1.2" fill="none" />
<path d="M455 656.8L465.2 654.8" stroke="#000" stroke-width="1.2" fill="none" />
<path d="M452.8 654.7L462.7 652" stroke="#000" stroke-width="1.2" fill="none" />
<path d="M446 648.9L455 644.3" stroke="#000" stroke-width="1.2" fill="none" />
<path d="M443.7 647.1L452.4 641.9" stroke="#000" stroke-width="1.2" fill="none" />
<path d="M436.6 642.5L444.2 635.6" stroke="#000" stroke-width="1.2" fill="none" />
<path d="M434.2 641.2L441.4 633.7" stroke="#000" stroke-width="1.2" fill="none" />
<path d="M427.1 638.1L432.9 628.9" stroke="#000" stroke-width="1.2" fill="none" />
<path d="M424.7 637.2L430.1 627.6" stroke="#000" stroke-width="1.2" fill="none" />
<path d="M417.7 635.5L421.7 624.5" stroke="#000" stroke-width="1.2" fill="none" />
<path d="M415.4 635.2L418.9 623.8" stroke="#000" stroke-width="1.2" fill="none" />
<path d="M408.8 635.1L410.7 622.5" stroke="#000" stroke-width="1.2" fill="none" />
<path d="M406.7 635.3L408.1 622.4" stroke="#000" stroke-width="1.2" fill="none" />
<path d="M400.6 636.7L400.5 622.9" stroke="#000" stroke-width="1.2" fill="none" />
<path d="M398.7 637.4L398 623.4" stroke="#000" stroke-width="1.2" fill="none" />
<path d="M393.3 640.3L391.1 625.8" stroke="#000" stroke-width="1.2" fill="none" />
<path d="M391.7 641.5L389 626.9" stroke="#000" stroke-width="1.2" fill="none" />
<path d="M387.2 645.8L383 631" stroke="#000" stroke-width="1.2" fill="none" />
<path d="M385.9 647.5L381.2 632.6" stroke="#000" stroke-width="1.2" fill="none" />
<path d="M382.5 653L376.4 638.4" stroke="#000" stroke-width="1.2" fill="none" />
<path d="M381.5 655.1L375.1 640.5" stroke="#000" stroke-width="1.2" fill="none" />
<path d="M379.3 661.8L371.5 647.7" stroke="#000" stroke-width="1.2" fill="none" />
<path d="M378.7 664.2L370.6 650.4" stroke="#000" stroke-width="1.2" fill="none" />
<path d="M377.7 671.8L368.5 658.8" stroke="#000" stroke-width="1.2" fill="none" />
<path d="M377.5 674.5L368 661.8" stroke="#000" stroke-width="1.2" fill="none" />
<path d="M377.7 682.8L367.4 671.2" stroke="#000" stroke-width="1.2" fill="none" />
<path d="M378 685.7L367.4 674.4" stroke="#000" stroke-width="1.2" fill="none" />
<path d="M379.4 694.4L368.2 684.5" stroke="#000" stroke-width="1.2" fill="none" />
<path d="M380.1 697.4L368.7 687.9" stroke="#000" stroke-width="1.2" fill="none" />
<path d="M382.7 706.2L371 698.4" stroke="#000" stroke-width="1.2" fill="none" />
<path d="M383.8 709.2L372 701.9" stroke="#000" stroke-width="1.2" fill="none" />
<path d="M387.5 718L375.6 712.5" stroke="#000" stroke-width="1.2" fill="none" />
<path d="M388.9 720.9L377 715.9" stroke="#000" stroke-width="1.2" fill="none" />
<path d="M393.7 729.3L382 726.2" stroke="#000" stroke-width="1.2" fill="none" />
<path d="M395.4 732L383.8 729.6" stroke="#000" stroke-width="1.2" fill="none" />
<path d="M401 739.8L389.8 739.3" stroke="#000" stroke-width="1.2" fill="none" />
<path d="M403 742.2L392 742.4" stroke="#000" stroke-width="1.2" fill="none" />
<path d="M409.2 749.2L399 751.2" stroke="#000" stroke-width="1.2" fill="none" />
<path d="M411.4 751.3L401.5 754" stroke="#000" stroke-width="1.2" fill="none" />
<path d="M418.2 757.1L409.2 761.7" stroke="#000" stroke-width="1.2" fill="none" />
<path d="M420.5 758.9L411.8 764.1" stroke="#000" stroke-width="1.2" fill="none" />
<path d="M427.6 763.5L420 770.4" stroke="#000" stroke-width="1.2" fill="none" />
<path d="M430 764.8L422.8 772.3" stroke="#000" stroke-width="1.2" fill="none" />
<path d="M437.1 767.9L431.3 777.1" stroke="#000" stroke-width="1.2" fill="none" />
<path d="M439.5 768.8L434.1 778.4" stroke="#000" stroke-width="1.2" fill="none" />
<path d="M446.5 770.5L442.5 781.5" stroke="#000" stroke-width="1.2" fill="none" />
<path d="M448.8 770.8L445.3 782.2" stroke="#000" stroke-width="1.2" fill="none" />
<path d="M455.4 770.9L453.5 783.5" stroke="#000" stroke-width="1.2" fill="none" />
<path d="M457.5 770.7L456.1 783.6" stroke="#000" stroke-width="1.2" fill="none" />
<path d="M463.6 769.3L463.7 783.1" stroke="#000" stroke-width="1.2" fill="none" />
<path d="M465.5 768.6L466.2 782.6" stroke="#000" stroke-width="1.2" fill="none" />
<ellipse cx="406.7" cy="715.1" rx="85.4" ry="53.8" transform="rotate(60 406.7 715.1)" fill="#fff" stroke="#000" stroke-width="1.6"/>
<ellipse cx="404.4" cy="716.4" rx="85.4" ry="53.8" transform="rotate(60 404.4 716.4)" fill="#fff" stroke="#000" stroke-width="1.8"/>
<path d="M429.8 783.4 Q430.9 783 430.1 779.2 Q429.4 775.4 430.3 774.9 Q431.2 774.3 434.2 776.9 Q437.1 779.5 438 778.8 Q438.8 778 437.5 774.2 Q436.1 770.3 436.8 769.5 Q437.6 768.6 440.6 770.6 Q443.7 772.5 444.4 771.5 Q445 770.5 443.1 766.8 Q441.1 763.1 441.7 762 Q442.2 760.8 445.3 762 Q448.4 763.2 448.7 762 Q449.1 760.7 446.8 757.3 Q444.4 753.9 444.6 752.6 Q444.9 751.2 447.8 751.7 Q450.8 752.1 450.9 750.6 Q451.1 749.2 448.3 746.2 Q445.6 743.2 445.6 741.8 Q445.5 740.3 448.3 739.9 Q451 739.5 450.8 737.9 Q450.7 736.3 447.7 733.9 Q444.7 731.6 444.4 730 Q444.2 728.4 446.5 727.2 Q448.9 726 448.5 724.4 Q448 722.7 444.9 721.1 Q441.9 719.4 441.3 717.8 Q440.8 716.2 442.7 714.2 Q444.6 712.3 443.9 710.7 Q443.2 709.1 440.2 708.1 Q437.1 707.2 436.3 705.6 Q435.6 704.1 436.9 701.5 Q438.2 698.9 437.3 697.4 Q436.5 695.8 433.5 695.7 Q430.6 695.6 429.7 694.1 Q428.7 692.7 429.5 689.6 Q430.2 686.5 429.1 685.1 Q428 683.7 425.4 684.3 Q422.8 685 421.7 683.7 Q420.6 682.5 420.6 679 Q420.7 675.4 419.5 674.2 Q418.3 673.1 416.1 674.5 Q413.9 676 412.7 674.9 Q411.4 673.9 410.9 670.1 Q410.3 666.4 409 665.4 Q407.7 664.5 406 666.7 Q404.3 668.8 403 668.1 Q401.7 667.3 400.6 663.5 Q399.4 659.6 398 659 Q396.7 658.4 395.6 661.1 Q394.5 663.9 393.2 663.5 Q391.9 663 390.2 659.3 Q388.4 655.5 387.1 655.2 Q385.8 654.9 385.3 658.2 Q384.8 661.5 383.6 661.4 Q382.4 661.2 380.1 657.7 Q377.9 654.2 376.7 654.2 Q375.5 654.3 375.6 657.9 Q375.7 661.6 374.6 661.8 Q373.5 662 370.9 658.9 Q368.2 655.8 367.2 656.2 Q366.1 656.6 366.9 660.4 Q367.7 664.2 366.7 664.7 Q365.8 665.3 362.9 662.7 Q359.9 660.1 359.1 660.8 Q358.2 661.6 359.6 665.4 Q360.9 669.3 360.2 670.1 Q359.5 671 356.4 669 Q353.3 667.1 352.7 668.1 Q352 669.1 353.9 672.8 Q355.9 676.5 355.4 677.6 Q354.9 678.8 351.8 677.6 Q348.7 676.4 348.3 677.6 Q347.9 678.9 350.3 682.3 Q352.7 685.7 352.4 687 Q352.1 688.4 349.2 687.9 Q346.2 687.5 346.1 689 Q346 690.4 348.7 693.4 Q351.5 696.4 351.5 697.8 Q351.5 699.3 348.7 699.7 Q346 700.1 346.2 701.7 Q346.3 703.3 349.3 705.7 Q352.3 708 352.6 709.6 Q352.9 711.2 350.5 712.4 Q348.1 713.6 348.6 715.2 Q349 716.9 352.1 718.5 Q355.2 720.2 355.7 721.8 Q356.2 723.4 354.3 725.4 Q352.5 727.3 353.1 728.9 Q353.8 730.5 356.9 731.5 Q359.9 732.4 360.7 734 Q361.5 735.5 360.1 738.1 Q358.8 740.7 359.7 742.2 Q360.6 743.8 363.5 743.9 Q366.4 744 367.3 745.5 Q368.3 746.9 367.6 750 Q366.8 753.1 367.9 754.5 Q369 755.9 371.6 755.3 Q374.2 754.6 375.3 755.9 Q376.5 757.1 376.4 760.6 Q376.3 764.2 377.5 765.4 Q378.7 766.5 380.9 765.1 Q383.1 763.6 384.4 764.7 Q385.6 765.7 386.2 769.5 Q386.7 773.2 388 774.2 Q389.3 775.1 391 772.9 Q392.7 770.8 394 771.5 Q395.3 772.3 396.5 776.1 Q397.6 780 399 780.6 Q400.3 781.2 401.4 778.5 Q402.6 775.7 403.8 776.1 Q405.1 776.6 406.9 780.3 Q408.6 784.1 409.9 784.4 Q411.2 784.7 411.7 781.4 Q412.2 778.1 413.4 778.2 Q414.7 778.4 416.9 781.9 Q419.2 785.4 420.4 785.4 Q421.6 785.3 421.4 781.7 Q421.3 778 422.4 777.8 Q423.5 777.6 426.1 780.7 Q428.8 783.8 429.8 783.4Z" fill="none" stroke="#000" stroke-width="2.1" />
<path d="M420.7 806.7 L426.6 813.3 L432.3 806.2 L427 798.9 L428.7 795.8 L430.2 792.6 L431.5 789.1 L432.6 785.5 L433.4 781.7 L434.1 777.7 L440.8 780.8 L441.5 769.4 L434.8 765.1 L434.6 760.7 L434.1 756.2 L433.5 751.6 L432.6 747 L431.6 742.3 L430.3 737.6 L436.1 736.4 L431.5 723.7 L425.3 723.6 L423.2 719 L421 714.4 L418.5 710 L416 705.6 L413.2 701.3 L410.4 697.1 L413.6 691.9 L405.1 681.3 L400.9 685.5 L397.6 681.9 L394.1 678.5 L390.6 675.4 L387 672.4 L383.3 669.6 L379.6 667.1 L379.5 659.3 L369.3 653.7 L368.4 660.9 L364.6 659.4 L360.8 658.1 L357.1 657.1 L353.5 656.3 L349.9 655.8 L346.3 655.6 L342.8 647.3 L333.7 648.2 L336.2 656.6 L333.1 657.4 L330 658.6 L327.1 660 L324.4 661.6 L321.8 663.5 L319.4 665.7 L313.5 659.1 L307.8 666.2 L313.1 673.5 L311.4 676.6 L309.9 679.8 L308.6 683.3 L307.6 686.9 L306.7 690.7 L306 694.7 L299.3 691.6 L298.6 703 L305.3 707.3 L305.5 711.7 L306 716.2 L306.6 720.8 L307.5 725.4 L308.5 730.1 L309.8 734.8 L304 736 L308.6 748.7 L314.8 748.8 L316.9 753.4 L319.1 758 L321.6 762.4 L324.1 766.8 L326.9 771.1 L329.7 775.3 L326.5 780.5 L335 791.1 L339.2 786.9 L342.5 790.5 L346 793.9 L349.5 797 L353.1 800 L356.8 802.8 L360.5 805.3 L360.6 813.1 L370.8 818.7 L371.8 811.5 L375.5 813 L379.3 814.3 L383 815.3 L386.6 816.1 L390.2 816.6 L393.8 816.8 L397.3 825.1 L406.4 824.2 L403.9 815.8 L407 815 L410.1 813.8 L413 812.4 L415.7 810.8 L418.3 808.9Z" fill="#fff" stroke="#000" stroke-width="1.7" />
<path d="M424.4 814.6L426.6 813.3" stroke="#000" stroke-width="1.3" fill="none" />
<path d="M430 807.5L432.3 806.2" stroke="#000" stroke-width="1.3" fill="none" />
<path d="M438.6 782.1L440.8 780.8" stroke="#000" stroke-width="1.3" fill="none" />
<path d="M439.2 770.7L441.5 769.4" stroke="#000" stroke-width="1.3" fill="none" />
<path d="M433.8 737.7L436.1 736.4" stroke="#000" stroke-width="1.3" fill="none" />
<path d="M429.3 725L431.5 723.7" stroke="#000" stroke-width="1.3" fill="none" />
<path d="M411.4 693.2L413.6 691.9" stroke="#000" stroke-width="1.3" fill="none" />
<path d="M402.9 682.6L405.1 681.3" stroke="#000" stroke-width="1.3" fill="none" />
<path d="M377.2 660.6L379.5 659.3" stroke="#000" stroke-width="1.3" fill="none" />
<path d="M367 655L369.3 653.7" stroke="#000" stroke-width="1.3" fill="none" />
<path d="M340.6 648.6L342.8 647.3" stroke="#000" stroke-width="1.3" fill="none" />
<path d="M331.4 649.5L333.7 648.2" stroke="#000" stroke-width="1.3" fill="none" />
<path d="M311.2 660.4L313.5 659.1" stroke="#000" stroke-width="1.3" fill="none" />
<path d="M305.6 667.5L307.8 666.2" stroke="#000" stroke-width="1.3" fill="none" />
<path d="M297 692.9L299.3 691.6" stroke="#000" stroke-width="1.3" fill="none" />
<path d="M296.4 704.3L298.6 703" stroke="#000" stroke-width="1.3" fill="none" />
<path d="M301.8 737.3L304 736" stroke="#000" stroke-width="1.3" fill="none" />
<path d="M306.3 750L308.6 748.7" stroke="#000" stroke-width="1.3" fill="none" />
<path d="M324.2 781.8L326.5 780.5" stroke="#000" stroke-width="1.3" fill="none" />
<path d="M332.7 792.4L335 791.1" stroke="#000" stroke-width="1.3" fill="none" />
<path d="M358.4 814.4L360.6 813.1" stroke="#000" stroke-width="1.3" fill="none" />
<path d="M368.6 820L370.8 818.7" stroke="#000" stroke-width="1.3" fill="none" />
<path d="M395 826.4L397.3 825.1" stroke="#000" stroke-width="1.3" fill="none" />
<path d="M404.2 825.5L406.4 824.2" stroke="#000" stroke-width="1.3" fill="none" />
<path d="M418.5 808 L424.4 814.6 L430 807.5 L424.7 800.2 L426.4 797.1 L427.9 793.9 L429.2 790.4 L430.3 786.8 L431.2 783 L431.8 779 L438.6 782.1 L439.2 770.7 L432.5 766.4 L432.3 762 L431.9 757.5 L431.3 752.9 L430.4 748.3 L429.3 743.6 L428 738.9 L433.8 737.7 L429.3 725 L423 724.9 L420.9 720.3 L418.7 715.7 L416.3 711.3 L413.7 706.9 L411 702.6 L408.1 698.4 L411.4 693.2 L402.9 682.6 L398.7 686.8 L395.3 683.2 L391.9 679.8 L388.3 676.7 L384.7 673.7 L381.1 670.9 L377.4 668.4 L377.2 660.6 L367 655 L366.1 662.2 L362.3 660.7 L358.6 659.4 L354.9 658.4 L351.2 657.6 L347.6 657.1 L344.1 656.9 L340.6 648.6 L331.4 649.5 L334 657.9 L330.8 658.7 L327.8 659.9 L324.9 661.3 L322.1 662.9 L319.5 664.8 L317.1 667 L311.2 660.4 L305.6 667.5 L310.9 674.8 L309.2 677.9 L307.7 681.1 L306.4 684.6 L305.3 688.2 L304.4 692 L303.8 696 L297 692.9 L296.4 704.3 L303.1 708.6 L303.3 713 L303.7 717.5 L304.3 722.1 L305.2 726.7 L306.3 731.4 L307.6 736.1 L301.8 737.3 L306.3 750 L312.6 750.1 L314.7 754.7 L316.9 759.3 L319.3 763.7 L321.9 768.1 L324.6 772.4 L327.5 776.6 L324.2 781.8 L332.7 792.4 L336.9 788.2 L340.3 791.8 L343.7 795.2 L347.3 798.3 L350.9 801.3 L354.5 804.1 L358.2 806.6 L358.4 814.4 L368.6 820 L369.5 812.8 L373.3 814.3 L377 815.6 L380.7 816.6 L384.4 817.4 L388 817.9 L391.5 818.1 L395 826.4 L404.2 825.5 L401.6 817.1 L404.8 816.3 L407.8 815.1 L410.7 813.7 L413.5 812.1 L416.1 810.2Z" fill="#fff" stroke="#000" stroke-width="2" />
<path d="M418.5 808 L420.2 806.3 L421.8 804.4 L423.3 802.3 L424.7 800.2" fill="none" stroke="#000" stroke-width="1.3" />
<path d="M431.8 779 L432.2 776 L432.4 772.9 L432.5 769.7 L432.5 766.4" fill="none" stroke="#000" stroke-width="1.3" />
<path d="M428 738.9 L427 735.4 L425.7 731.9 L424.4 728.4 L423 724.9" fill="none" stroke="#000" stroke-width="1.3" />
<path d="M408.1 698.4 L405.9 695.4 L403.5 692.4 L401.1 689.6 L398.7 686.8" fill="none" stroke="#000" stroke-width="1.3" />
<path d="M377.4 668.4 L374.6 666.6 L371.7 665 L368.9 663.6 L366.1 662.2" fill="none" stroke="#000" stroke-width="1.3" />
<path d="M344.1 656.9 L341.5 656.9 L338.9 657.1 L336.4 657.4 L334 657.9" fill="none" stroke="#000" stroke-width="1.3" />
<path d="M317.1 667 L315.4 668.7 L313.8 670.6 L312.3 672.7 L310.9 674.8" fill="none" stroke="#000" stroke-width="1.3" />
<path d="M303.8 696 L303.4 699 L303.2 702.1 L303.1 705.3 L303.1 708.6" fill="none" stroke="#000" stroke-width="1.3" />
<path d="M307.6 736.1 L308.6 739.6 L309.9 743.1 L311.2 746.6 L312.6 750.1" fill="none" stroke="#000" stroke-width="1.3" />
<path d="M327.5 776.6 L329.7 779.6 L332.1 782.6 L334.5 785.4 L336.9 788.2" fill="none" stroke="#000" stroke-width="1.3" />
<path d="M358.2 806.6 L361 808.4 L363.9 810 L366.7 811.4 L369.5 812.8" fill="none" stroke="#000" stroke-width="1.3" />
<path d="M391.5 818.1 L394.1 818.1 L396.7 817.9 L399.2 817.6 L401.6 817.1" fill="none" stroke="#000" stroke-width="1.3" />
<ellipse cx="367.8" cy="737.5" rx="73.8" ry="46.5" transform="rotate(60 367.8 737.5)" fill="none" stroke="#000" stroke-width="1.7"/>
<path d="M406.6 800.2L408.8 814.7" stroke="#000" stroke-width="1.2" fill="none" />
<path d="M408.2 799L410.9 813.6" stroke="#000" stroke-width="1.2" fill="none" />
<path d="M412.7 794.7L416.9 809.5" stroke="#000" stroke-width="1.2" fill="none" />
<path d="M414 793L418.7 807.9" stroke="#000" stroke-width="1.2" fill="none" />
<path d="M417.4 787.5L423.5 802.1" stroke="#000" stroke-width="1.2" fill="none" />
<path d="M418.4 785.4L424.8 800" stroke="#000" stroke-width="1.2" fill="none" />
<path d="M420.6 778.7L428.4 792.8" stroke="#000" stroke-width="1.2" fill="none" />
<path d="M421.2 776.3L429.3 790.1" stroke="#000" stroke-width="1.2" fill="none" />
<path d="M422.2 768.7L431.4 781.7" stroke="#000" stroke-width="1.2" fill="none" />
<path d="M422.4 766L431.9 778.7" stroke="#000" stroke-width="1.2" fill="none" />
<path d="M422.2 757.7L432.5 769.3" stroke="#000" stroke-width="1.2" fill="none" />
<path d="M421.9 754.8L432.5 766.1" stroke="#000" stroke-width="1.2" fill="none" />
<path d="M420.5 746.1L431.7 756" stroke="#000" stroke-width="1.2" fill="none" />
<path d="M419.8 743.1L431.2 752.6" stroke="#000" stroke-width="1.2" fill="none" />
<path d="M417.2 734.3L428.9 742.1" stroke="#000" stroke-width="1.2" fill="none" />
<path d="M416.1 731.3L427.9 738.6" stroke="#000" stroke-width="1.2" fill="none" />
<path d="M412.4 722.5L424.3 728" stroke="#000" stroke-width="1.2" fill="none" />
<path d="M411 719.6L422.9 724.6" stroke="#000" stroke-width="1.2" fill="none" />
<path d="M406.2 711.2L417.9 714.3" stroke="#000" stroke-width="1.2" fill="none" />
<path d="M404.5 708.5L416.1 710.9" stroke="#000" stroke-width="1.2" fill="none" />
<path d="M398.9 700.7L410.1 701.2" stroke="#000" stroke-width="1.2" fill="none" />
<path d="M396.9 698.3L407.9 698.1" stroke="#000" stroke-width="1.2" fill="none" />
<path d="M390.7 691.3L400.9 689.3" stroke="#000" stroke-width="1.2" fill="none" />
<path d="M388.5 689.2L398.4 686.5" stroke="#000" stroke-width="1.2" fill="none" />
<path d="M381.7 683.4L390.7 678.8" stroke="#000" stroke-width="1.2" fill="none" />
<path d="M379.4 681.6L388.1 676.4" stroke="#000" stroke-width="1.2" fill="none" />
<path d="M372.3 677L379.9 670.1" stroke="#000" stroke-width="1.2" fill="none" />
<path d="M369.9 675.7L377.1 668.2" stroke="#000" stroke-width="1.2" fill="none" />
<path d="M362.8 672.6L368.6 663.4" stroke="#000" stroke-width="1.2" fill="none" />
<path d="M360.4 671.7L365.8 662.1" stroke="#000" stroke-width="1.2" fill="none" />
<path d="M353.4 670L357.4 659" stroke="#000" stroke-width="1.2" fill="none" />
<path d="M351.1 669.7L354.6 658.3" stroke="#000" stroke-width="1.2" fill="none" />
<path d="M344.5 669.6L346.4 657" stroke="#000" stroke-width="1.2" fill="none" />
<path d="M342.4 669.8L343.8 656.9" stroke="#000" stroke-width="1.2" fill="none" />
<path d="M336.3 671.2L336.2 657.4" stroke="#000" stroke-width="1.2" fill="none" />
<path d="M334.4 671.9L333.7 657.9" stroke="#000" stroke-width="1.2" fill="none" />
<path d="M329 674.8L326.8 660.3" stroke="#000" stroke-width="1.2" fill="none" />
<path d="M327.4 676L324.7 661.4" stroke="#000" stroke-width="1.2" fill="none" />
<path d="M322.9 680.3L318.7 665.5" stroke="#000" stroke-width="1.2" fill="none" />
<path d="M321.6 682L316.9 667.1" stroke="#000" stroke-width="1.2" fill="none" />
<path d="M318.2 687.5L312.1 672.9" stroke="#000" stroke-width="1.2" fill="none" />
<path d="M317.2 689.6L310.8 675" stroke="#000" stroke-width="1.2" fill="none" />
<path d="M315 696.3L307.2 682.2" stroke="#000" stroke-width="1.2" fill="none" />
<path d="M314.4 698.7L306.3 684.9" stroke="#000" stroke-width="1.2" fill="none" />
<path d="M313.4 706.3L304.2 693.3" stroke="#000" stroke-width="1.2" fill="none" />
<path d="M313.2 709L303.7 696.3" stroke="#000" stroke-width="1.2" fill="none" />
<path d="M313.4 717.3L303.1 705.7" stroke="#000" stroke-width="1.2" fill="none" />
<path d="M313.7 720.2L303.1 708.9" stroke="#000" stroke-width="1.2" fill="none" />
<path d="M315.1 728.9L303.9 719" stroke="#000" stroke-width="1.2" fill="none" />
<path d="M315.8 731.9L304.4 722.4" stroke="#000" stroke-width="1.2" fill="none" />
<path d="M318.4 740.7L306.7 732.9" stroke="#000" stroke-width="1.2" fill="none" />
<path d="M319.5 743.7L307.7 736.4" stroke="#000" stroke-width="1.2" fill="none" />
<path d="M323.2 752.5L311.3 747" stroke="#000" stroke-width="1.2" fill="none" />
<path d="M324.6 755.4L312.7 750.4" stroke="#000" stroke-width="1.2" fill="none" />
<path d="M329.4 763.8L317.7 760.7" stroke="#000" stroke-width="1.2" fill="none" />
<path d="M331.1 766.5L319.5 764.1" stroke="#000" stroke-width="1.2" fill="none" />
<path d="M336.7 774.3L325.5 773.8" stroke="#000" stroke-width="1.2" fill="none" />
<path d="M338.7 776.7L327.7 776.9" stroke="#000" stroke-width="1.2" fill="none" />
<path d="M344.9 783.7L334.7 785.7" stroke="#000" stroke-width="1.2" fill="none" />
<path d="M347.1 785.8L337.2 788.5" stroke="#000" stroke-width="1.2" fill="none" />
<path d="M353.9 791.6L344.9 796.2" stroke="#000" stroke-width="1.2" fill="none" />
<path d="M356.2 793.4L347.5 798.6" stroke="#000" stroke-width="1.2" fill="none" />
<path d="M363.3 798L355.7 804.9" stroke="#000" stroke-width="1.2" fill="none" />
<path d="M365.7 799.3L358.5 806.8" stroke="#000" stroke-width="1.2" fill="none" />
<path d="M372.8 802.4L367 811.6" stroke="#000" stroke-width="1.2" fill="none" />
<path d="M375.2 803.3L369.8 812.9" stroke="#000" stroke-width="1.2" fill="none" />
<path d="M382.2 805L378.2 816" stroke="#000" stroke-width="1.2" fill="none" />
<path d="M384.5 805.3L381 816.7" stroke="#000" stroke-width="1.2" fill="none" />
<path d="M391.1 805.4L389.2 818" stroke="#000" stroke-width="1.2" fill="none" />
<path d="M393.2 805.2L391.8 818.1" stroke="#000" stroke-width="1.2" fill="none" />
<path d="M399.3 803.8L399.4 817.6" stroke="#000" stroke-width="1.2" fill="none" />
<path d="M401.2 803.1L401.9 817.1" stroke="#000" stroke-width="1.2" fill="none" />
<ellipse cx="342.4" cy="749.6" rx="85.4" ry="53.8" transform="rotate(60 342.4 749.6)" fill="#fff" stroke="#000" stroke-width="1.6"/>
<ellipse cx="340.1" cy="750.9" rx="85.4" ry="53.8" transform="rotate(60 340.1 750.9)" fill="#fff" stroke="#000" stroke-width="1.8"/>
<path d="M365.5 817.9 Q366.6 817.5 365.8 813.7 Q365.1 809.9 366 809.4 Q366.9 808.8 369.9 811.4 Q372.8 814 373.7 813.3 Q374.5 812.5 373.2 808.7 Q371.8 804.8 372.5 804 Q373.3 803.1 376.3 805.1 Q379.4 807 380.1 806 Q380.7 805 378.8 801.3 Q376.8 797.6 377.4 796.5 Q377.9 795.3 381 796.5 Q384.1 797.7 384.4 796.5 Q384.8 795.2 382.5 791.8 Q380.1 788.4 380.3 787.1 Q380.6 785.7 383.5 786.2 Q386.5 786.6 386.6 785.1 Q386.8 783.7 384 780.7 Q381.3 777.7 381.3 776.3 Q381.2 774.8 384 774.4 Q386.7 774 386.5 772.4 Q386.4 770.8 383.4 768.4 Q380.4 766.1 380.1 764.5 Q379.9 762.9 382.2 761.7 Q384.6 760.5 384.2 758.9 Q383.7 757.2 380.6 755.6 Q377.6 753.9 377 752.3 Q376.5 750.7 378.4 748.7 Q380.3 746.8 379.6 745.2 Q378.9 743.6 375.9 742.6 Q372.8 741.7 372 740.1 Q371.3 738.6 372.6 736 Q373.9 733.4 373 731.9 Q372.2 730.3 369.2 730.2 Q366.3 730.1 365.4 728.6 Q364.4 727.2 365.2 724.1 Q365.9 721 364.8 719.6 Q363.7 718.2 361.1 718.8 Q358.5 719.5 357.4 718.2 Q356.3 717 356.3 713.5 Q356.4 709.9 355.2 708.7 Q354 707.6 351.8 709 Q349.6 710.5 348.4 709.4 Q347.1 708.4 346.6 704.6 Q346 700.9 344.7 699.9 Q343.4 699 341.7 701.2 Q340 703.3 338.7 702.6 Q337.4 701.8 336.3 698 Q335.1 694.1 333.7 693.5 Q332.4 692.9 331.3 695.6 Q330.2 698.4 328.9 698 Q327.6 697.5 325.9 693.8 Q324.1 690 322.8 689.7 Q321.5 689.4 321 692.7 Q320.5 696 319.3 695.9 Q318.1 695.7 315.8 692.2 Q313.6 688.7 312.4 688.7 Q311.2 688.8 311.3 692.4 Q311.4 696.1 310.3 696.3 Q309.2 696.5 306.6 693.4 Q303.9 690.3 302.9 690.7 Q301.8 691.1 302.6 694.9 Q303.4 698.7 302.4 699.2 Q301.5 699.8 298.6 697.2 Q295.6 694.6 294.8 695.3 Q293.9 696.1 295.3 699.9 Q296.6 703.8 295.9 704.6 Q295.2 705.5 292.1 703.5 Q289 701.6 288.4 702.6 Q287.7 703.6 289.6 707.3 Q291.6 711 291.1 712.1 Q290.6 713.3 287.5 712.1 Q284.4 710.9 284 712.1 Q283.6 713.4 286 716.8 Q288.4 720.2 288.1 721.5 Q287.8 722.9 284.9 722.4 Q281.9 722 281.8 723.5 Q281.7 724.9 284.4 727.9 Q287.2 730.9 287.2 732.3 Q287.2 733.8 284.4 734.2 Q281.7 734.6 281.9 736.2 Q282 737.8 285 740.2 Q288 742.5 288.3 744.1 Q288.6 745.7 286.2 746.9 Q283.8 748.1 284.3 749.7 Q284.7 751.4 287.8 753 Q290.9 754.7 291.4 756.3 Q291.9 757.9 290 759.9 Q288.2 761.8 288.8 763.4 Q289.5 765 292.6 766 Q295.6 766.9 296.4 768.5 Q297.2 770 295.8 772.6 Q294.5 775.2 295.4 776.7 Q296.3 778.3 299.2 778.4 Q302.1 778.5 303 780 Q304 781.4 303.3 784.5 Q302.5 787.6 303.6 789 Q304.7 790.4 307.3 789.8 Q309.9 789.1 311 790.4 Q312.2 791.6 312.1 795.1 Q312 798.7 313.2 799.9 Q314.4 801 316.6 799.6 Q318.8 798.1 320.1 799.2 Q321.3 800.2 321.9 804 Q322.4 807.7 323.7 808.7 Q325 809.6 326.7 807.4 Q328.4 805.3 329.7 806 Q331 806.8 332.2 810.6 Q333.3 814.5 334.7 815.1 Q336 815.7 337.1 813 Q338.3 810.2 339.5 810.6 Q340.8 811.1 342.6 814.8 Q344.3 818.6 345.6 818.9 Q346.9 819.2 347.4 815.9 Q347.9 812.6 349.1 812.7 Q350.4 812.9 352.6 816.4 Q354.9 819.9 356.1 819.9 Q357.3 819.8 357.1 816.2 Q357 812.5 358.1 812.3 Q359.2 812.1 361.8 815.2 Q364.5 818.3 365.5 817.9Z" fill="none" stroke="#000" stroke-width="2.1" />
<path d="M356.4 841.2 L362.3 847.8 L368 840.7 L362.7 833.4 L364.4 830.3 L365.9 827.1 L367.2 823.6 L368.3 820 L369.1 816.2 L369.8 812.2 L376.5 815.3 L377.2 803.9 L370.5 799.6 L370.3 795.2 L369.8 790.7 L369.2 786.1 L368.3 781.5 L367.3 776.8 L366 772.1 L371.8 770.9 L367.2 758.2 L361 758.1 L358.9 753.5 L356.7 748.9 L354.2 744.5 L351.7 740.1 L348.9 735.8 L346.1 731.6 L349.3 726.4 L340.8 715.8 L336.6 720 L333.3 716.4 L329.8 713 L326.3 709.9 L322.7 706.9 L319 704.1 L315.3 701.6 L315.2 693.8 L305 688.2 L304.1 695.4 L300.3 693.9 L296.5 692.6 L292.8 691.6 L289.2 690.8 L285.6 690.3 L282 690.1 L278.5 681.8 L269.4 682.7 L271.9 691.1 L268.8 691.9 L265.7 693.1 L262.8 694.5 L260.1 696.1 L257.5 698 L255.1 700.2 L249.2 693.6 L243.5 700.7 L248.8 708 L247.1 711.1 L245.6 714.3 L244.3 717.8 L243.3 721.4 L242.4 725.2 L241.7 729.2 L235 726.1 L234.3 737.5 L241 741.8 L241.2 746.2 L241.7 750.7 L242.3 755.3 L243.2 759.9 L244.2 764.6 L245.5 769.3 L239.7 770.5 L244.3 783.2 L250.5 783.3 L252.6 787.9 L254.8 792.5 L257.3 796.9 L259.8 801.3 L262.6 805.6 L265.4 809.8 L262.2 815 L270.7 825.6 L274.9 821.4 L278.2 825 L281.7 828.4 L285.2 831.5 L288.8 834.5 L292.5 837.3 L296.2 839.8 L296.3 847.6 L306.5 853.2 L307.5 846 L311.2 847.5 L315 848.8 L318.7 849.8 L322.3 850.6 L325.9 851.1 L329.5 851.3 L333 859.6 L342.1 858.7 L339.6 850.3 L342.7 849.5 L345.8 848.3 L348.7 846.9 L351.4 845.3 L354 843.4Z" fill="#fff" stroke="#000" stroke-width="1.7" />
<path d="M360.1 849.1L362.3 847.8" stroke="#000" stroke-width="1.3" fill="none" />
<path d="M365.7 842L368 840.7" stroke="#000" stroke-width="1.3" fill="none" />
<path d="M374.3 816.6L376.5 815.3" stroke="#000" stroke-width="1.3" fill="none" />
<path d="M374.9 805.2L377.2 803.9" stroke="#000" stroke-width="1.3" fill="none" />
<path d="M369.5 772.2L371.8 770.9" stroke="#000" stroke-width="1.3" fill="none" />
<path d="M365 759.5L367.2 758.2" stroke="#000" stroke-width="1.3" fill="none" />
<path d="M347.1 727.7L349.3 726.4" stroke="#000" stroke-width="1.3" fill="none" />
<path d="M338.6 717.1L340.8 715.8" stroke="#000" stroke-width="1.3" fill="none" />
<path d="M312.9 695.1L315.2 693.8" stroke="#000" stroke-width="1.3" fill="none" />
<path d="M302.7 689.5L305 688.2" stroke="#000" stroke-width="1.3" fill="none" />
<path d="M276.3 683.1L278.5 681.8" stroke="#000" stroke-width="1.3" fill="none" />
<path d="M267.1 684L269.4 682.7" stroke="#000" stroke-width="1.3" fill="none" />
<path d="M246.9 694.9L249.2 693.6" stroke="#000" stroke-width="1.3" fill="none" />
<path d="M241.3 702L243.5 700.7" stroke="#000" stroke-width="1.3" fill="none" />
<path d="M232.7 727.4L235 726.1" stroke="#000" stroke-width="1.3" fill="none" />
<path d="M232.1 738.8L234.3 737.5" stroke="#000" stroke-width="1.3" fill="none" />
<path d="M237.5 771.8L239.7 770.5" stroke="#000" stroke-width="1.3" fill="none" />
<path d="M242 784.5L244.3 783.2" stroke="#000" stroke-width="1.3" fill="none" />
<path d="M259.9 816.3L262.2 815" stroke="#000" stroke-width="1.3" fill="none" />
<path d="M268.4 826.9L270.7 825.6" stroke="#000" stroke-width="1.3" fill="none" />
<path d="M294.1 848.9L296.3 847.6" stroke="#000" stroke-width="1.3" fill="none" />
<path d="M304.3 854.5L306.5 853.2" stroke="#000" stroke-width="1.3" fill="none" />
<path d="M330.7 860.9L333 859.6" stroke="#000" stroke-width="1.3" fill="none" />
<path d="M339.9 860L342.1 858.7" stroke="#000" stroke-width="1.3" fill="none" />
<path d="M354.2 842.5 L360.1 849.1 L365.7 842 L360.4 834.7 L362.1 831.6 L363.6 828.4 L364.9 824.9 L366 821.3 L366.9 817.5 L367.5 813.5 L374.3 816.6 L374.9 805.2 L368.2 800.9 L368 796.5 L367.6 792 L367 787.4 L366.1 782.8 L365 778.1 L363.7 773.4 L369.5 772.2 L365 759.5 L358.7 759.4 L356.6 754.8 L354.4 750.2 L352 745.8 L349.4 741.4 L346.7 737.1 L343.8 732.9 L347.1 727.7 L338.6 717.1 L334.4 721.3 L331 717.7 L327.6 714.3 L324 711.2 L320.4 708.2 L316.8 705.4 L313.1 702.9 L312.9 695.1 L302.7 689.5 L301.8 696.7 L298 695.2 L294.3 693.9 L290.6 692.9 L286.9 692.1 L283.3 691.6 L279.8 691.4 L276.3 683.1 L267.1 684 L269.7 692.4 L266.5 693.2 L263.5 694.4 L260.6 695.8 L257.8 697.4 L255.2 699.3 L252.8 701.5 L246.9 694.9 L241.3 702 L246.6 709.3 L244.9 712.4 L243.4 715.6 L242.1 719.1 L241 722.7 L240.1 726.5 L239.5 730.5 L232.7 727.4 L232.1 738.8 L238.8 743.1 L239 747.5 L239.4 752 L240 756.6 L240.9 761.2 L242 765.9 L243.3 770.6 L237.5 771.8 L242 784.5 L248.3 784.6 L250.4 789.2 L252.6 793.8 L255 798.2 L257.6 802.6 L260.3 806.9 L263.2 811.1 L259.9 816.3 L268.4 826.9 L272.6 822.7 L276 826.3 L279.4 829.7 L283 832.8 L286.6 835.8 L290.2 838.6 L293.9 841.1 L294.1 848.9 L304.3 854.5 L305.2 847.3 L309 848.8 L312.7 850.1 L316.4 851.1 L320.1 851.9 L323.7 852.4 L327.2 852.6 L330.7 860.9 L339.9 860 L337.3 851.6 L340.5 850.8 L343.5 849.6 L346.4 848.2 L349.2 846.6 L351.8 844.7Z" fill="#fff" stroke="#000" stroke-width="2" />
<path d="M354.2 842.5 L355.9 840.8 L357.5 838.9 L359 836.8 L360.4 834.7" fill="none" stroke="#000" stroke-width="1.3" />
<path d="M367.5 813.5 L367.9 810.5 L368.1 807.4 L368.2 804.2 L368.2 800.9" fill="none" stroke="#000" stroke-width="1.3" />
<path d="M363.7 773.4 L362.7 769.9 L361.4 766.4 L360.1 762.9 L358.7 759.4" fill="none" stroke="#000" stroke-width="1.3" />
<path d="M343.8 732.9 L341.6 729.9 L339.2 726.9 L336.8 724.1 L334.4 721.3" fill="none" stroke="#000" stroke-width="1.3" />
<path d="M313.1 702.9 L310.3 701.1 L307.4 699.5 L304.6 698.1 L301.8 696.7" fill="none" stroke="#000" stroke-width="1.3" />
<path d="M279.8 691.4 L277.2 691.4 L274.6 691.6 L272.1 691.9 L269.7 692.4" fill="none" stroke="#000" stroke-width="1.3" />
<path d="M252.8 701.5 L251.1 703.2 L249.5 705.1 L248 707.2 L246.6 709.3" fill="none" stroke="#000" stroke-width="1.3" />
<path d="M239.5 730.5 L239.1 733.5 L238.9 736.6 L238.8 739.8 L238.8 743.1" fill="none" stroke="#000" stroke-width="1.3" />
<path d="M243.3 770.6 L244.3 774.1 L245.6 777.6 L246.9 781.1 L248.3 784.6" fill="none" stroke="#000" stroke-width="1.3" />
<path d="M263.2 811.1 L265.4 814.1 L267.8 817.1 L270.2 819.9 L272.6 822.7" fill="none" stroke="#000" stroke-width="1.3" />
<path d="M293.9 841.1 L296.7 842.9 L299.6 844.5 L302.4 845.9 L305.2 847.3" fill="none" stroke="#000" stroke-width="1.3" />
<path d="M327.2 852.6 L329.8 852.6 L332.4 852.4 L334.9 852.1 L337.3 851.6" fill="none" stroke="#000" stroke-width="1.3" />
<ellipse cx="303.5" cy="772" rx="73.8" ry="46.5" transform="rotate(60 303.5 772)" fill="none" stroke="#000" stroke-width="1.7"/>
<path d="M342.3 834.7L344.5 849.2" stroke="#000" stroke-width="1.2" fill="none" />
<path d="M343.9 833.5L346.6 848.1" stroke="#000" stroke-width="1.2" fill="none" />
<path d="M348.4 829.2L352.6 844" stroke="#000" stroke-width="1.2" fill="none" />
<path d="M349.7 827.5L354.4 842.4" stroke="#000" stroke-width="1.2" fill="none" />
<path d="M353.1 822L359.2 836.6" stroke="#000" stroke-width="1.2" fill="none" />
<path d="M354.1 819.9L360.5 834.5" stroke="#000" stroke-width="1.2" fill="none" />
<path d="M356.3 813.2L364.1 827.3" stroke="#000" stroke-width="1.2" fill="none" />
<path d="M356.9 810.8L365 824.6" stroke="#000" stroke-width="1.2" fill="none" />
<path d="M357.9 803.2L367.1 816.2" stroke="#000" stroke-width="1.2" fill="none" />
<path d="M358.1 800.5L367.6 813.2" stroke="#000" stroke-width="1.2" fill="none" />
<path d="M357.9 792.2L368.2 803.8" stroke="#000" stroke-width="1.2" fill="none" />
<path d="M357.6 789.3L368.2 800.6" stroke="#000" stroke-width="1.2" fill="none" />
<path d="M356.2 780.6L367.4 790.5" stroke="#000" stroke-width="1.2" fill="none" />
<path d="M355.5 777.6L366.9 787.1" stroke="#000" stroke-width="1.2" fill="none" />
<path d="M352.9 768.8L364.6 776.6" stroke="#000" stroke-width="1.2" fill="none" />
<path d="M351.8 765.8L363.6 773.1" stroke="#000" stroke-width="1.2" fill="none" />
<path d="M348.1 757L360 762.5" stroke="#000" stroke-width="1.2" fill="none" />
<path d="M346.7 754.1L358.6 759.1" stroke="#000" stroke-width="1.2" fill="none" />
<path d="M341.9 745.7L353.6 748.8" stroke="#000" stroke-width="1.2" fill="none" />
<path d="M340.2 743L351.8 745.4" stroke="#000" stroke-width="1.2" fill="none" />
<path d="M334.6 735.2L345.8 735.7" stroke="#000" stroke-width="1.2" fill="none" />
<path d="M332.6 732.8L343.6 732.6" stroke="#000" stroke-width="1.2" fill="none" />
<path d="M326.4 725.8L336.6 723.8" stroke="#000" stroke-width="1.2" fill="none" />
<path d="M324.2 723.7L334.1 721" stroke="#000" stroke-width="1.2" fill="none" />
<path d="M317.4 717.9L326.4 713.3" stroke="#000" stroke-width="1.2" fill="none" />
<path d="M315.1 716.1L323.8 710.9" stroke="#000" stroke-width="1.2" fill="none" />
<path d="M308 711.5L315.6 704.6" stroke="#000" stroke-width="1.2" fill="none" />
<path d="M305.6 710.2L312.8 702.7" stroke="#000" stroke-width="1.2" fill="none" />
<path d="M298.5 707.1L304.3 697.9" stroke="#000" stroke-width="1.2" fill="none" />
<path d="M296.1 706.2L301.5 696.6" stroke="#000" stroke-width="1.2" fill="none" />
<path d="M289.1 704.5L293.1 693.5" stroke="#000" stroke-width="1.2" fill="none" />
<path d="M286.8 704.2L290.3 692.8" stroke="#000" stroke-width="1.2" fill="none" />
<path d="M280.2 704.1L282.1 691.5" stroke="#000" stroke-width="1.2" fill="none" />
<path d="M278.1 704.3L279.5 691.4" stroke="#000" stroke-width="1.2" fill="none" />
<path d="M272 705.7L271.9 691.9" stroke="#000" stroke-width="1.2" fill="none" />
<path d="M270.1 706.4L269.4 692.4" stroke="#000" stroke-width="1.2" fill="none" />
<path d="M264.7 709.3L262.5 694.8" stroke="#000" stroke-width="1.2" fill="none" />
<path d="M263.1 710.5L260.4 695.9" stroke="#000" stroke-width="1.2" fill="none" />
<path d="M258.6 714.8L254.4 700" stroke="#000" stroke-width="1.2" fill="none" />
<path d="M257.3 716.5L252.6 701.6" stroke="#000" stroke-width="1.2" fill="none" />
<path d="M253.9 722L247.8 707.4" stroke="#000" stroke-width="1.2" fill="none" />
<path d="M252.9 724.1L246.5 709.5" stroke="#000" stroke-width="1.2" fill="none" />
<path d="M250.7 730.8L242.9 716.7" stroke="#000" stroke-width="1.2" fill="none" />
<path d="M250.1 733.2L242 719.4" stroke="#000" stroke-width="1.2" fill="none" />
<path d="M249.1 740.8L239.9 727.8" stroke="#000" stroke-width="1.2" fill="none" />
<path d="M248.9 743.5L239.4 730.8" stroke="#000" stroke-width="1.2" fill="none" />
<path d="M249.1 751.8L238.8 740.2" stroke="#000" stroke-width="1.2" fill="none" />
<path d="M249.4 754.7L238.8 743.4" stroke="#000" stroke-width="1.2" fill="none" />
<path d="M250.8 763.4L239.6 753.5" stroke="#000" stroke-width="1.2" fill="none" />
<path d="M251.5 766.4L240.1 756.9" stroke="#000" stroke-width="1.2" fill="none" />
<path d="M254.1 775.2L242.4 767.4" stroke="#000" stroke-width="1.2" fill="none" />
<path d="M255.2 778.2L243.4 770.9" stroke="#000" stroke-width="1.2" fill="none" />
<path d="M258.9 787L247 781.5" stroke="#000" stroke-width="1.2" fill="none" />
<path d="M260.3 789.9L248.4 784.9" stroke="#000" stroke-width="1.2" fill="none" />
<path d="M265.1 798.3L253.4 795.2" stroke="#000" stroke-width="1.2" fill="none" />
<path d="M266.8 801L255.2 798.6" stroke="#000" stroke-width="1.2" fill="none" />
<path d="M272.4 808.8L261.2 808.3" stroke="#000" stroke-width="1.2" fill="none" />
<path d="M274.4 811.2L263.4 811.4" stroke="#000" stroke-width="1.2" fill="none" />
<path d="M280.6 818.2L270.4 820.2" stroke="#000" stroke-width="1.2" fill="none" />
<path d="M282.8 820.3L272.9 823" stroke="#000" stroke-width="1.2" fill="none" />
<path d="M289.6 826.1L280.6 830.7" stroke="#000" stroke-width="1.2" fill="none" />
<path d="M291.9 827.9L283.2 833.1" stroke="#000" stroke-width="1.2" fill="none" />
<path d="M299 832.5L291.4 839.4" stroke="#000" stroke-width="1.2" fill="none" />
<path d="M301.4 833.8L294.2 841.3" stroke="#000" stroke-width="1.2" fill="none" />
<path d="M308.5 836.9L302.7 846.1" stroke="#000" stroke-width="1.2" fill="none" />
<path d="M310.9 837.8L305.5 847.4" stroke="#000" stroke-width="1.2" fill="none" />
<path d="M317.9 839.5L313.9 850.5" stroke="#000" stroke-width="1.2" fill="none" />
<path d="M320.2 839.8L316.7 851.2" stroke="#000" stroke-width="1.2" fill="none" />
<path d="M326.8 839.9L324.9 852.5" stroke="#000" stroke-width="1.2" fill="none" />
<path d="M328.9 839.7L327.5 852.6" stroke="#000" stroke-width="1.2" fill="none" />
<path d="M335 838.3L335.1 852.1" stroke="#000" stroke-width="1.2" fill="none" />
<path d="M336.9 837.6L337.6 851.6" stroke="#000" stroke-width="1.2" fill="none" />
<ellipse cx="278.1" cy="784.1" rx="85.4" ry="53.8" transform="rotate(60 278.1 784.1)" fill="#fff" stroke="#000" stroke-width="1.6"/>
<ellipse cx="275.8" cy="785.4" rx="85.4" ry="53.8" transform="rotate(60 275.8 785.4)" fill="#fff" stroke="#000" stroke-width="1.8"/>
<path d="M301.2 852.4 Q302.3 852 301.5 848.2 Q300.8 844.4 301.7 843.9 Q302.6 843.3 305.6 845.9 Q308.5 848.5 309.4 847.8 Q310.2 847 308.9 843.2 Q307.5 839.3 308.2 838.5 Q309 837.6 312 839.6 Q315.1 841.5 315.8 840.5 Q316.4 839.5 314.5 835.8 Q312.5 832.1 313.1 831 Q313.6 829.8 316.7 831 Q319.8 832.2 320.1 831 Q320.5 829.7 318.2 826.3 Q315.8 822.9 316 821.6 Q316.3 820.2 319.2 820.7 Q322.2 821.1 322.3 819.6 Q322.5 818.2 319.7 815.2 Q317 812.2 317 810.8 Q316.9 809.3 319.7 808.9 Q322.4 808.5 322.2 806.9 Q322.1 805.3 319.1 802.9 Q316.1 800.6 315.8 799 Q315.6 797.4 317.9 796.2 Q320.3 795 319.9 793.4 Q319.4 791.7 316.3 790.1 Q313.3 788.4 312.7 786.8 Q312.2 785.2 314.1 783.2 Q316 781.3 315.3 779.7 Q314.6 778.1 311.6 777.1 Q308.5 776.2 307.7 774.6 Q307 773.1 308.3 770.5 Q309.6 767.9 308.7 766.4 Q307.9 764.8 304.9 764.7 Q302 764.6 301.1 763.1 Q300.1 761.7 300.9 758.6 Q301.6 755.5 300.5 754.1 Q299.4 752.7 296.8 753.3 Q294.2 754 293.1 752.7 Q292 751.5 292 748 Q292.1 744.4 290.9 743.2 Q289.7 742.1 287.5 743.5 Q285.3 745 284.1 743.9 Q282.8 742.9 282.3 739.1 Q281.7 735.4 280.4 734.4 Q279.1 733.5 277.4 735.7 Q275.7 737.8 274.4 737.1 Q273.1 736.3 272 732.5 Q270.8 728.6 269.4 728 Q268.1 727.4 267 730.1 Q265.9 732.9 264.6 732.5 Q263.3 732 261.6 728.3 Q259.8 724.5 258.5 724.2 Q257.2 723.9 256.7 727.2 Q256.2 730.5 255 730.4 Q253.8 730.2 251.5 726.7 Q249.3 723.2 248.1 723.2 Q246.9 723.3 247 726.9 Q247.1 730.6 246 730.8 Q244.9 731 242.3 727.9 Q239.6 724.8 238.6 725.2 Q237.5 725.6 238.3 729.4 Q239.1 733.2 238.1 733.7 Q237.2 734.3 234.3 731.7 Q231.3 729.1 230.5 729.8 Q229.6 730.6 231 734.4 Q232.3 738.3 231.6 739.1 Q230.9 740 227.8 738 Q224.7 736.1 224.1 737.1 Q223.4 738.1 225.3 741.8 Q227.3 745.5 226.8 746.6 Q226.3 747.8 223.2 746.6 Q220.1 745.4 219.7 746.6 Q219.3 747.9 221.7 751.3 Q224.1 754.7 223.8 756 Q223.5 757.4 220.6 756.9 Q217.6 756.5 217.5 758 Q217.4 759.4 220.1 762.4 Q222.9 765.4 222.9 766.8 Q222.9 768.3 220.1 768.7 Q217.4 769.1 217.6 770.7 Q217.7 772.3 220.7 774.7 Q223.7 777 224 778.6 Q224.3 780.2 221.9 781.4 Q219.5 782.6 220 784.2 Q220.4 785.9 223.5 787.5 Q226.6 789.2 227.1 790.8 Q227.6 792.4 225.7 794.4 Q223.9 796.3 224.5 797.9 Q225.2 799.5 228.3 800.5 Q231.3 801.4 232.1 803 Q232.9 804.5 231.5 807.1 Q230.2 809.7 231.1 811.2 Q232 812.8 234.9 812.9 Q237.8 813 238.7 814.5 Q239.7 815.9 239 819 Q238.2 822.1 239.3 823.5 Q240.4 824.9 243 824.3 Q245.6 823.6 246.7 824.9 Q247.9 826.1 247.8 829.6 Q247.7 833.2 248.9 834.4 Q250.1 835.5 252.3 834.1 Q254.5 832.6 255.8 833.7 Q257 834.7 257.6 838.5 Q258.1 842.2 259.4 843.2 Q260.7 844.1 262.4 841.9 Q264.1 839.8 265.4 840.5 Q266.7 841.3 267.9 845.1 Q269 849 270.4 849.6 Q271.7 850.2 272.8 847.5 Q274 844.7 275.2 845.1 Q276.5 845.6 278.3 849.3 Q280 853.1 281.3 853.4 Q282.6 853.7 283.1 850.4 Q283.6 847.1 284.8 847.2 Q286.1 847.4 288.3 850.9 Q290.6 854.4 291.8 854.4 Q293 854.3 292.8 850.7 Q292.7 847 293.8 846.8 Q294.9 846.6 297.5 849.7 Q300.2 852.8 301.2 852.4Z" fill="none" stroke="#000" stroke-width="2.1" />
<path d="M292.1 875.7 L298 882.3 L303.7 875.2 L298.4 867.9 L300.1 864.8 L301.6 861.6 L302.9 858.1 L304 854.5 L304.8 850.7 L305.5 846.7 L312.2 849.8 L312.9 838.4 L306.2 834.1 L306 829.7 L305.5 825.2 L304.9 820.6 L304 816 L303 811.3 L301.7 806.6 L307.5 805.4 L302.9 792.7 L296.7 792.6 L294.6 788 L292.4 783.4 L289.9 779 L287.4 774.6 L284.6 770.3 L281.8 766.1 L285 760.9 L276.5 750.3 L272.3 754.5 L269 750.9 L265.5 747.5 L262 744.4 L258.4 741.4 L254.7 738.6 L251 736.1 L250.9 728.3 L240.7 722.7 L239.8 729.9 L236 728.4 L232.2 727.1 L228.5 726.1 L224.9 725.3 L221.3 724.8 L217.7 724.6 L214.2 716.3 L205.1 717.2 L207.6 725.6 L204.5 726.4 L201.4 727.6 L198.5 729 L195.8 730.6 L193.2 732.5 L190.8 734.7 L184.9 728.1 L179.2 735.2 L184.5 742.5 L182.8 745.6 L181.3 748.8 L180 752.3 L179 755.9 L178.1 759.7 L177.4 763.7 L170.7 760.6 L170 772 L176.7 776.3 L176.9 780.7 L177.4 785.2 L178 789.8 L178.9 794.4 L179.9 799.1 L181.2 803.8 L175.4 805 L180 817.7 L186.2 817.8 L188.3 822.4 L190.5 827 L193 831.4 L195.5 835.8 L198.3 840.1 L201.1 844.3 L197.9 849.5 L206.4 860.1 L210.6 855.9 L213.9 859.5 L217.4 862.9 L220.9 866 L224.5 869 L228.2 871.8 L231.9 874.3 L232 882.1 L242.2 887.7 L243.2 880.5 L246.9 882 L250.7 883.3 L254.4 884.3 L258 885.1 L261.6 885.6 L265.2 885.8 L268.7 894.1 L277.8 893.2 L275.3 884.8 L278.4 884 L281.5 882.8 L284.4 881.4 L287.1 879.8 L289.7 877.9Z" fill="#fff" stroke="#000" stroke-width="1.7" />
<path d="M295.8 883.6L298 882.3" stroke="#000" stroke-width="1.3" fill="none" />
<path d="M301.4 876.5L303.7 875.2" stroke="#000" stroke-width="1.3" fill="none" />
<path d="M310 851.1L312.2 849.8" stroke="#000" stroke-width="1.3" fill="none" />
<path d="M310.6 839.7L312.9 838.4" stroke="#000" stroke-width="1.3" fill="none" />
<path d="M305.2 806.7L307.5 805.4" stroke="#000" stroke-width="1.3" fill="none" />
<path d="M300.7 794L302.9 792.7" stroke="#000" stroke-width="1.3" fill="none" />
<path d="M282.8 762.2L285 760.9" stroke="#000" stroke-width="1.3" fill="none" />
<path d="M274.3 751.6L276.5 750.3" stroke="#000" stroke-width="1.3" fill="none" />
<path d="M248.6 729.6L250.9 728.3" stroke="#000" stroke-width="1.3" fill="none" />
<path d="M238.4 724L240.7 722.7" stroke="#000" stroke-width="1.3" fill="none" />
<path d="M212 717.6L214.2 716.3" stroke="#000" stroke-width="1.3" fill="none" />
<path d="M202.8 718.5L205.1 717.2" stroke="#000" stroke-width="1.3" fill="none" />
<path d="M182.6 729.4L184.9 728.1" stroke="#000" stroke-width="1.3" fill="none" />
<path d="M177 736.5L179.2 735.2" stroke="#000" stroke-width="1.3" fill="none" />
<path d="M168.4 761.9L170.7 760.6" stroke="#000" stroke-width="1.3" fill="none" />
<path d="M167.8 773.3L170 772" stroke="#000" stroke-width="1.3" fill="none" />
<path d="M173.2 806.3L175.4 805" stroke="#000" stroke-width="1.3" fill="none" />
<path d="M177.7 819L180 817.7" stroke="#000" stroke-width="1.3" fill="none" />
<path d="M195.6 850.8L197.9 849.5" stroke="#000" stroke-width="1.3" fill="none" />
<path d="M204.1 861.4L206.4 860.1" stroke="#000" stroke-width="1.3" fill="none" />
<path d="M229.8 883.4L232 882.1" stroke="#000" stroke-width="1.3" fill="none" />
<path d="M240 889L242.2 887.7" stroke="#000" stroke-width="1.3" fill="none" />
<path d="M266.4 895.4L268.7 894.1" stroke="#000" stroke-width="1.3" fill="none" />
<path d="M275.6 894.5L277.8 893.2" stroke="#000" stroke-width="1.3" fill="none" />
<path d="M289.9 877 L295.8 883.6 L301.4 876.5 L296.1 869.2 L297.8 866.1 L299.3 862.9 L300.6 859.4 L301.7 855.8 L302.6 852 L303.2 848 L310 851.1 L310.6 839.7 L303.9 835.4 L303.7 831 L303.3 826.5 L302.7 821.9 L301.8 817.3 L300.7 812.6 L299.4 807.9 L305.2 806.7 L300.7 794 L294.4 793.9 L292.3 789.3 L290.1 784.7 L287.7 780.3 L285.1 775.9 L282.4 771.6 L279.5 767.4 L282.8 762.2 L274.3 751.6 L270.1 755.8 L266.7 752.2 L263.3 748.8 L259.7 745.7 L256.1 742.7 L252.5 739.9 L248.8 737.4 L248.6 729.6 L238.4 724 L237.5 731.2 L233.7 729.7 L230 728.4 L226.3 727.4 L222.6 726.6 L219 726.1 L215.5 725.9 L212 717.6 L202.8 718.5 L205.4 726.9 L202.2 727.7 L199.2 728.9 L196.3 730.3 L193.5 731.9 L190.9 733.8 L188.5 736 L182.6 729.4 L177 736.5 L182.3 743.8 L180.6 746.9 L179.1 750.1 L177.8 753.6 L176.7 757.2 L175.8 761 L175.2 765 L168.4 761.9 L167.8 773.3 L174.5 777.6 L174.7 782 L175.1 786.5 L175.7 791.1 L176.6 795.7 L177.7 800.4 L179 805.1 L173.2 806.3 L177.7 819 L184 819.1 L186.1 823.7 L188.3 828.3 L190.7 832.7 L193.3 837.1 L196 841.4 L198.9 845.6 L195.6 850.8 L204.1 861.4 L208.3 857.2 L211.7 860.8 L215.1 864.2 L218.7 867.3 L222.3 870.3 L225.9 873.1 L229.6 875.6 L229.8 883.4 L240 889 L240.9 881.8 L244.7 883.3 L248.4 884.6 L252.1 885.6 L255.8 886.4 L259.4 886.9 L262.9 887.1 L266.4 895.4 L275.6 894.5 L273 886.1 L276.2 885.3 L279.2 884.1 L282.1 882.7 L284.9 881.1 L287.5 879.2Z" fill="#fff" stroke="#000" stroke-width="2" />
<path d="M289.9 877 L291.6 875.3 L293.2 873.4 L294.7 871.3 L296.1 869.2" fill="none" stroke="#000" stroke-width="1.3" />
<path d="M303.2 848 L303.6 845 L303.8 841.9 L303.9 838.7 L303.9 835.4" fill="none" stroke="#000" stroke-width="1.3" />
<path d="M299.4 807.9 L298.4 804.4 L297.1 800.9 L295.8 797.4 L294.4 793.9" fill="none" stroke="#000" stroke-width="1.3" />
<path d="M279.5 767.4 L277.3 764.4 L274.9 761.4 L272.5 758.6 L270.1 755.8" fill="none" stroke="#000" stroke-width="1.3" />
<path d="M248.8 737.4 L246 735.6 L243.1 734 L240.3 732.6 L237.5 731.2" fill="none" stroke="#000" stroke-width="1.3" />
<path d="M215.5 725.9 L212.9 725.9 L210.3 726.1 L207.8 726.4 L205.4 726.9" fill="none" stroke="#000" stroke-width="1.3" />
<path d="M188.5 736 L186.8 737.7 L185.2 739.6 L183.7 741.7 L182.3 743.8" fill="none" stroke="#000" stroke-width="1.3" />
<path d="M175.2 765 L174.8 768 L174.6 771.1 L174.5 774.3 L174.5 777.6" fill="none" stroke="#000" stroke-width="1.3" />
<path d="M179 805.1 L180 808.6 L181.3 812.1 L182.6 815.6 L184 819.1" fill="none" stroke="#000" stroke-width="1.3" />
<path d="M198.9 845.6 L201.1 848.6 L203.5 851.6 L205.9 854.4 L208.3 857.2" fill="none" stroke="#000" stroke-width="1.3" />
<path d="M229.6 875.6 L232.4 877.4 L235.3 879 L238.1 880.4 L240.9 881.8" fill="none" stroke="#000" stroke-width="1.3" />
<path d="M262.9 887.1 L265.5 887.1 L268.1 886.9 L270.6 886.6 L273 886.1" fill="none" stroke="#000" stroke-width="1.3" />
<ellipse cx="239.2" cy="806.5" rx="73.8" ry="46.5" transform="rotate(60 239.2 806.5)" fill="none" stroke="#000" stroke-width="1.7"/>
<path d="M278 869.2L280.2 883.7" stroke="#000" stroke-width="1.2" fill="none" />
<path d="M279.6 868L282.3 882.6" stroke="#000" stroke-width="1.2" fill="none" />
<path d="M284.1 863.7L288.3 878.5" stroke="#000" stroke-width="1.2" fill="none" />
<path d="M285.4 862L290.1 876.9" stroke="#000" stroke-width="1.2" fill="none" />
<path d="M288.8 856.5L294.9 871.1" stroke="#000" stroke-width="1.2" fill="none" />
<path d="M289.8 854.4L296.2 869" stroke="#000" stroke-width="1.2" fill="none" />
<path d="M292 847.7L299.8 861.8" stroke="#000" stroke-width="1.2" fill="none" />
<path d="M292.6 845.3L300.7 859.1" stroke="#000" stroke-width="1.2" fill="none" />
<path d="M293.6 837.7L302.8 850.7" stroke="#000" stroke-width="1.2" fill="none" />
<path d="M293.8 835L303.3 847.7" stroke="#000" stroke-width="1.2" fill="none" />
<path d="M293.6 826.7L303.9 838.3" stroke="#000" stroke-width="1.2" fill="none" />
<path d="M293.3 823.8L303.9 835.1" stroke="#000" stroke-width="1.2" fill="none" />
<path d="M291.9 815.1L303.1 825" stroke="#000" stroke-width="1.2" fill="none" />
<path d="M291.2 812.1L302.6 821.6" stroke="#000" stroke-width="1.2" fill="none" />
<path d="M288.6 803.3L300.3 811.1" stroke="#000" stroke-width="1.2" fill="none" />
<path d="M287.5 800.3L299.3 807.6" stroke="#000" stroke-width="1.2" fill="none" />
<path d="M283.8 791.5L295.7 797" stroke="#000" stroke-width="1.2" fill="none" />
<path d="M282.4 788.6L294.3 793.6" stroke="#000" stroke-width="1.2" fill="none" />
<path d="M277.6 780.2L289.3 783.3" stroke="#000" stroke-width="1.2" fill="none" />
<path d="M275.9 777.5L287.5 779.9" stroke="#000" stroke-width="1.2" fill="none" />
<path d="M270.3 769.7L281.5 770.2" stroke="#000" stroke-width="1.2" fill="none" />
<path d="M268.3 767.3L279.3 767.1" stroke="#000" stroke-width="1.2" fill="none" />
<path d="M262.1 760.3L272.3 758.3" stroke="#000" stroke-width="1.2" fill="none" />
<path d="M259.9 758.2L269.8 755.5" stroke="#000" stroke-width="1.2" fill="none" />
<path d="M253.1 752.4L262.1 747.8" stroke="#000" stroke-width="1.2" fill="none" />
<path d="M250.8 750.6L259.5 745.4" stroke="#000" stroke-width="1.2" fill="none" />
<path d="M243.7 746L251.3 739.1" stroke="#000" stroke-width="1.2" fill="none" />
<path d="M241.3 744.7L248.5 737.2" stroke="#000" stroke-width="1.2" fill="none" />
<path d="M234.2 741.6L240 732.4" stroke="#000" stroke-width="1.2" fill="none" />
<path d="M231.8 740.7L237.2 731.1" stroke="#000" stroke-width="1.2" fill="none" />
<path d="M224.8 739L228.8 728" stroke="#000" stroke-width="1.2" fill="none" />
<path d="M222.5 738.7L226 727.3" stroke="#000" stroke-width="1.2" fill="none" />
<path d="M215.9 738.6L217.8 726" stroke="#000" stroke-width="1.2" fill="none" />
<path d="M213.8 738.8L215.2 725.9" stroke="#000" stroke-width="1.2" fill="none" />
<path d="M207.7 740.2L207.6 726.4" stroke="#000" stroke-width="1.2" fill="none" />
<path d="M205.8 740.9L205.1 726.9" stroke="#000" stroke-width="1.2" fill="none" />
<path d="M200.4 743.8L198.2 729.3" stroke="#000" stroke-width="1.2" fill="none" />
<path d="M198.8 745L196.1 730.4" stroke="#000" stroke-width="1.2" fill="none" />
<path d="M194.3 749.3L190.1 734.5" stroke="#000" stroke-width="1.2" fill="none" />
<path d="M193 751L188.3 736.1" stroke="#000" stroke-width="1.2" fill="none" />
<path d="M189.6 756.5L183.5 741.9" stroke="#000" stroke-width="1.2" fill="none" />
<path d="M188.6 758.6L182.2 744" stroke="#000" stroke-width="1.2" fill="none" />
<path d="M186.4 765.3L178.6 751.2" stroke="#000" stroke-width="1.2" fill="none" />
<path d="M185.8 767.7L177.7 753.9" stroke="#000" stroke-width="1.2" fill="none" />
<path d="M184.8 775.3L175.6 762.3" stroke="#000" stroke-width="1.2" fill="none" />
<path d="M184.6 778L175.1 765.3" stroke="#000" stroke-width="1.2" fill="none" />
<path d="M184.8 786.3L174.5 774.7" stroke="#000" stroke-width="1.2" fill="none" />
<path d="M185.1 789.2L174.5 777.9" stroke="#000" stroke-width="1.2" fill="none" />
<path d="M186.5 797.9L175.3 788" stroke="#000" stroke-width="1.2" fill="none" />
<path d="M187.2 800.9L175.8 791.4" stroke="#000" stroke-width="1.2" fill="none" />
<path d="M189.8 809.7L178.1 801.9" stroke="#000" stroke-width="1.2" fill="none" />
<path d="M190.9 812.7L179.1 805.4" stroke="#000" stroke-width="1.2" fill="none" />
<path d="M194.6 821.5L182.7 816" stroke="#000" stroke-width="1.2" fill="none" />
<path d="M196 824.4L184.1 819.4" stroke="#000" stroke-width="1.2" fill="none" />
<path d="M200.8 832.8L189.1 829.7" stroke="#000" stroke-width="1.2" fill="none" />
<path d="M202.5 835.5L190.9 833.1" stroke="#000" stroke-width="1.2" fill="none" />
<path d="M208.1 843.3L196.9 842.8" stroke="#000" stroke-width="1.2" fill="none" />
<path d="M210.1 845.7L199.1 845.9" stroke="#000" stroke-width="1.2" fill="none" />
<path d="M216.3 852.7L206.1 854.7" stroke="#000" stroke-width="1.2" fill="none" />
<path d="M218.5 854.8L208.6 857.5" stroke="#000" stroke-width="1.2" fill="none" />
<path d="M225.3 860.6L216.3 865.2" stroke="#000" stroke-width="1.2" fill="none" />
<path d="M227.6 862.4L218.9 867.6" stroke="#000" stroke-width="1.2" fill="none" />
<path d="M234.7 867L227.1 873.9" stroke="#000" stroke-width="1.2" fill="none" />
<path d="M237.1 868.3L229.9 875.8" stroke="#000" stroke-width="1.2" fill="none" />
<path d="M244.2 871.4L238.4 880.6" stroke="#000" stroke-width="1.2" fill="none" />
<path d="M246.6 872.3L241.2 881.9" stroke="#000" stroke-width="1.2" fill="none" />
<path d="M253.6 874L249.6 885" stroke="#000" stroke-width="1.2" fill="none" />
<path d="M255.9 874.3L252.4 885.7" stroke="#000" stroke-width="1.2" fill="none" />
<path d="M262.5 874.4L260.6 887" stroke="#000" stroke-width="1.2" fill="none" />
<path d="M264.6 874.2L263.2 887.1" stroke="#000" stroke-width="1.2" fill="none" />
<path d="M270.7 872.8L270.8 886.6" stroke="#000" stroke-width="1.2" fill="none" />
<path d="M272.6 872.1L273.3 886.1" stroke="#000" stroke-width="1.2" fill="none" />
<path d="M241.6 903.2 L246.7 908.9 L249.1 907.8 L248.3 900.3 L250.4 898.9 L255.9 903.4 L257.9 901.6 L256 893.9 L257.7 892 L263.4 895.1 L265 892.7 L262.1 885.1 L263.3 882.6 L269 884.4 L270 881.3 L266.3 874.2 L267 871.2 L272.4 871.5 L272.9 868 L268.4 861.6 L268.6 858.2 L273.6 857 L273.5 853.2 L268.3 847.7 L268 844.1 L272.4 841.5 L271.7 837.5 L266.2 833.2 L265.3 829.5 L268.9 825.5 L267.7 821.5 L262 818.5 L260.7 814.9 L263.3 809.7 L261.6 805.8 L255.9 804.3 L254.1 800.9 L255.7 794.6 L253.6 791.1 L248.2 791 L246 787.9 L246.5 780.9 L244 777.8 L239.1 779.2 L236.7 776.6 L236 769.1 L233.3 766.5 L229 769.4 L226.4 767.3 L224.7 759.6 L221.7 757.7 L218.3 761.9 L215.6 760.4 L212.8 752.9 L209.9 751.6 L207.4 757 L204.7 756.2 L201 749 L198.1 748.5 L196.7 754.9 L194.1 754.8 L189.7 748.3 L186.9 748.6 L186.6 755.7 L184.2 756.3 L179.2 750.7 L176.8 751.8 L177.6 759.3 L175.5 760.6 L170 756.1 L168 758 L169.9 765.6 L168.2 767.6 L162.5 764.4 L160.9 766.9 L163.8 774.4 L162.6 777 L156.9 775.2 L155.8 778.2 L159.6 785.3 L158.9 788.4 L153.5 788.1 L153 791.6 L157.5 798 L157.3 801.3 L152.3 802.6 L152.4 806.4 L157.5 811.8 L157.9 815.4 L153.5 818.1 L154.2 822.1 L159.7 826.4 L160.6 830 L157 834.1 L158.2 838.1 L163.9 841 L165.2 844.7 L162.6 849.9 L164.3 853.7 L170 855.3 L171.8 858.7 L170.2 864.9 L172.3 868.5 L177.7 868.5 L179.9 871.6 L179.4 878.6 L181.9 881.8 L186.8 880.3 L189.2 883 L189.8 890.4 L192.6 893 L196.9 890.1 L199.5 892.2 L201.2 899.9 L204.2 901.9 L207.6 897.6 L210.3 899.1 L213 906.7 L216 907.9 L218.5 902.5 L221.2 903.3 L224.9 910.5 L227.8 911 L229.2 904.7 L231.8 904.7 L236.2 911.3 L238.9 911 L239.3 903.9Z" fill="#fff" stroke="#000" stroke-width="1.8" />
<path d="M205.3 916.5 L209.7 923.1 L236.2 911.3 L231.8 904.7Z" fill="#fff" stroke="#000" stroke-width="1.5" />
<path d="M212.5 922.7 L212.8 915.7 L239.3 903.9 L238.9 911Z" fill="#fff" stroke="#000" stroke-width="1.5" />
<path d="M209.7 923.1 L212.5 922.7 L238.9 911 L236.2 911.3Z" fill="#fff" stroke="#000" stroke-width="1.5" />
<path d="M149 772.4 L143.5 767.9 L170 756.1 L175.5 760.6Z" fill="#fff" stroke="#000" stroke-width="1.5" />
<path d="M141.5 769.7 L143.4 777.4 L169.9 765.6 L168 758Z" fill="#fff" stroke="#000" stroke-width="1.5" />
<path d="M143.5 767.9 L141.5 769.7 L168 758 L170 756.1Z" fill="#fff" stroke="#000" stroke-width="1.5" />
<path d="M215.2 915 L220.2 920.7 L246.7 908.9 L241.6 903.2Z" fill="#fff" stroke="#000" stroke-width="1.5" />
<path d="M222.6 919.6 L221.8 912.1 L248.3 900.3 L249.1 907.8Z" fill="#fff" stroke="#000" stroke-width="1.5" />
<path d="M220.2 920.7 L222.6 919.6 L249.1 907.8 L246.7 908.9Z" fill="#fff" stroke="#000" stroke-width="1.5" />
<path d="M157.8 768.1 L152.7 762.5 L179.2 750.7 L184.2 756.3Z" fill="#fff" stroke="#000" stroke-width="1.5" />
<path d="M150.3 763.6 L151.1 771.1 L177.6 759.3 L176.8 751.8Z" fill="#fff" stroke="#000" stroke-width="1.5" />
<path d="M152.7 762.5 L150.3 763.6 L176.8 751.8 L179.2 750.7Z" fill="#fff" stroke="#000" stroke-width="1.5" />
<path d="M167.6 766.6 L163.2 760.1 L189.7 748.3 L194.1 754.8Z" fill="#fff" stroke="#000" stroke-width="1.5" />
<path d="M160.5 760.4 L160.1 767.5 L186.6 755.7 L186.9 748.6Z" fill="#fff" stroke="#000" stroke-width="1.5" />
<path d="M163.2 760.1 L160.5 760.4 L186.9 748.6 L189.7 748.3Z" fill="#fff" stroke="#000" stroke-width="1.5" />
<path d="M223.9 910.7 L229.4 915.2 L255.9 903.4 L250.4 898.9Z" fill="#fff" stroke="#000" stroke-width="1.5" />
<path d="M231.4 913.4 L229.5 905.7 L256 893.9 L257.9 901.6Z" fill="#fff" stroke="#000" stroke-width="1.5" />
<path d="M229.4 915.2 L231.4 913.4 L257.9 901.6 L255.9 903.4Z" fill="#fff" stroke="#000" stroke-width="1.5" />
<path d="M231.2 903.8 L236.9 906.9 L263.4 895.1 L257.7 892Z" fill="#fff" stroke="#000" stroke-width="1.5" />
<path d="M238.5 904.5 L235.6 896.9 L262.1 885.1 L265 892.7Z" fill="#fff" stroke="#000" stroke-width="1.5" />
<path d="M236.9 906.9 L238.5 904.5 L265 892.7 L263.4 895.1Z" fill="#fff" stroke="#000" stroke-width="1.5" />
<path d="M178.2 768 L174.5 760.8 L201 749 L204.7 756.2Z" fill="#fff" stroke="#000" stroke-width="1.5" />
<path d="M171.6 760.3 L170.2 766.7 L196.7 754.9 L198.1 748.5Z" fill="#fff" stroke="#000" stroke-width="1.5" />
<path d="M174.5 760.8 L171.6 760.3 L198.1 748.5 L201 749Z" fill="#fff" stroke="#000" stroke-width="1.5" />
<path d="M236.8 894.4 L242.5 896.2 L269 884.4 L263.3 882.6Z" fill="#fff" stroke="#000" stroke-width="1.5" />
<path d="M243.6 893.1 L239.8 886 L266.3 874.2 L270 881.3Z" fill="#fff" stroke="#000" stroke-width="1.5" />
<path d="M242.5 896.2 L243.6 893.1 L270 881.3 L269 884.4Z" fill="#fff" stroke="#000" stroke-width="1.5" />
<path d="M189.1 772.2 L186.4 764.7 L212.8 752.9 L215.6 760.4Z" fill="#fff" stroke="#000" stroke-width="1.5" />
<path d="M183.4 763.4 L180.9 768.8 L207.4 757 L209.9 751.6Z" fill="#fff" stroke="#000" stroke-width="1.5" />
<path d="M186.4 764.7 L183.4 763.4 L209.9 751.6 L212.8 752.9Z" fill="#fff" stroke="#000" stroke-width="1.5" />
<path d="M240.5 883 L245.9 883.3 L272.4 871.5 L267 871.2Z" fill="#fff" stroke="#000" stroke-width="1.5" />
<path d="M246.4 879.8 L241.9 873.4 L268.4 861.6 L272.9 868Z" fill="#fff" stroke="#000" stroke-width="1.5" />
<path d="M245.9 883.3 L246.4 879.8 L272.9 868 L272.4 871.5Z" fill="#fff" stroke="#000" stroke-width="1.5" />
<path d="M199.9 779.1 L198.2 771.4 L224.7 759.6 L226.4 767.3Z" fill="#fff" stroke="#000" stroke-width="1.5" />
<path d="M195.2 769.5 L191.8 773.7 L218.3 761.9 L221.7 757.7Z" fill="#fff" stroke="#000" stroke-width="1.5" />
<path d="M198.2 771.4 L195.2 769.5 L221.7 757.7 L224.7 759.6Z" fill="#fff" stroke="#000" stroke-width="1.5" />
<path d="M210.2 788.4 L209.6 780.9 L236 769.1 L236.7 776.6Z" fill="#fff" stroke="#000" stroke-width="1.5" />
<path d="M206.8 778.3 L202.5 781.2 L229 769.4 L233.3 766.5Z" fill="#fff" stroke="#000" stroke-width="1.5" />
<path d="M209.6 780.9 L206.8 778.3 L233.3 766.5 L236 769.1Z" fill="#fff" stroke="#000" stroke-width="1.5" />
<path d="M242.1 870 L247.1 868.8 L273.6 857 L268.6 858.2Z" fill="#fff" stroke="#000" stroke-width="1.5" />
<path d="M247 865 L241.9 859.5 L268.3 847.7 L273.5 853.2Z" fill="#fff" stroke="#000" stroke-width="1.5" />
<path d="M247.1 868.8 L247 865 L273.5 853.2 L273.6 857Z" fill="#fff" stroke="#000" stroke-width="1.5" />
<path d="M241.5 855.9 L245.9 853.3 L272.4 841.5 L268 844.1Z" fill="#fff" stroke="#000" stroke-width="1.5" />
<path d="M245.2 849.3 L239.7 845 L266.2 833.2 L271.7 837.5Z" fill="#fff" stroke="#000" stroke-width="1.5" />
<path d="M245.9 853.3 L245.2 849.3 L271.7 837.5 L272.4 841.5Z" fill="#fff" stroke="#000" stroke-width="1.5" />
<path d="M219.5 799.7 L220 792.7 L246.5 780.9 L246 787.9Z" fill="#fff" stroke="#000" stroke-width="1.5" />
<path d="M217.5 789.6 L212.6 791 L239.1 779.2 L244 777.8Z" fill="#fff" stroke="#000" stroke-width="1.5" />
<path d="M220 792.7 L217.5 789.6 L244 777.8 L246.5 780.9Z" fill="#fff" stroke="#000" stroke-width="1.5" />
<path d="M238.8 841.3 L242.4 837.3 L268.9 825.5 L265.3 829.5Z" fill="#fff" stroke="#000" stroke-width="1.5" />
<path d="M241.2 833.3 L235.5 830.3 L262 818.5 L267.7 821.5Z" fill="#fff" stroke="#000" stroke-width="1.5" />
<path d="M242.4 837.3 L241.2 833.3 L267.7 821.5 L268.9 825.5Z" fill="#fff" stroke="#000" stroke-width="1.5" />
<path d="M227.6 812.6 L229.2 806.4 L255.7 794.6 L254.1 800.9Z" fill="#fff" stroke="#000" stroke-width="1.5" />
<path d="M227.1 802.9 L221.7 802.8 L248.2 791 L253.6 791.1Z" fill="#fff" stroke="#000" stroke-width="1.5" />
<path d="M229.2 806.4 L227.1 802.9 L253.6 791.1 L255.7 794.6Z" fill="#fff" stroke="#000" stroke-width="1.5" />
<path d="M234.2 826.7 L236.8 821.5 L263.3 809.7 L260.7 814.9Z" fill="#fff" stroke="#000" stroke-width="1.5" />
<path d="M235.1 817.6 L229.4 816.1 L255.9 804.3 L261.6 805.8Z" fill="#fff" stroke="#000" stroke-width="1.5" />
<path d="M236.8 821.5 L235.1 817.6 L261.6 805.8 L263.3 809.7Z" fill="#fff" stroke="#000" stroke-width="1.5" />
<path d="M145 758.2 L149.5 756.2 L152.4 755.1 L155.3 754.2 L158.4 753.5 L161.5 753.1 L164.7 752.9 L167.9 753 L171.2 753.3 L174.6 753.9 L178 754.6 L181.4 755.7 L184.8 756.9 L188.2 758.4 L191.7 760.1 L195.1 762.1 L198.5 764.2 L201.8 766.6 L205.2 769.2 L208.4 771.9 L211.7 774.9 L214.8 778 L217.9 781.4 L220.9 784.8 L223.8 788.5 L226.6 792.2 L229.3 796.2 L231.9 800.2 L234.3 804.3 L236.6 808.6 L238.8 812.9 L240.9 817.3 L242.8 821.8 L244.6 826.3 L246.2 830.9 L247.6 835.5 L248.9 840.1 L250 844.8 L250.9 849.4 L251.7 854 L252.2 858.5 L252.6 863 L252.9 867.5 L252.9 871.8 L252.8 876.1 L252.5 880.3 L252 884.4 L251.3 888.4 L250.4 892.2 L249.4 895.9 L248.2 899.4 L246.9 902.8 L245.4 906 L243.7 909.1 L241.9 911.9 L239.9 914.6 L237.8 917.1 L235.5 919.3 L233.1 921.4 L230.6 923.2 L227.9 924.8 L225.2 926.1 L220.6 928.2 L217.8 929.3 L214.8 930.2 L211.8 930.8 L208.7 931.3 L205.5 931.4 L202.2 931.4 L198.9 931.1 L195.6 930.5 L192.2 929.7 L188.8 928.7 L185.4 927.4 L181.9 925.9 L178.5 924.2 L175.1 922.3 L171.7 920.1 L168.3 917.8 L165 915.2 L161.7 912.4 L158.5 909.5 L155.4 906.3 L152.3 903 L149.3 899.5 L146.4 895.9 L143.6 892.1 L140.9 888.2 L138.3 884.2 L135.9 880 L133.5 875.8 L131.3 871.4 L129.3 867 L127.4 862.6 L125.6 858 L124 853.4 L122.6 848.8 L121.3 844.2 L120.2 839.6 L119.3 835 L118.5 830.4 L117.9 825.9 L117.5 821.4 L117.3 816.9 L117.3 812.5 L117.4 808.3 L117.7 804.1 L118.2 800 L118.9 796 L119.7 792.2 L120.7 788.5 L121.9 784.9 L123.3 781.5 L124.8 778.3 L126.5 775.3 L128.3 772.4 L130.3 769.8 L132.4 767.3 L134.7 765.1 L137.1 763 L139.6 761.2 L142.2 759.6 L145 758.2Z" fill="#fff" stroke="#000" stroke-width="1.8" />
<ellipse cx="182.8" cy="843.2" rx="93" ry="58.6" transform="rotate(66 182.8 843.2)" fill="#fff" stroke="#000" stroke-width="1.8"/>
<ellipse cx="182.3" cy="844.4" rx="71" ry="44.7" transform="rotate(66 182.3 844.4)" fill="none" stroke="#000" stroke-width="1.6"/>
<ellipse cx="182.3" cy="844.4" rx="67" ry="42.2" transform="rotate(66 182.3 844.4)" fill="none" stroke="#000" stroke-width="1.5"/>
<ellipse cx="179.8" cy="846.2" rx="26.6" ry="16.8" transform="rotate(66 179.8 846.2)" fill="none" stroke="#000" stroke-width="1.8"/>
<clipPath id="hubb"><ellipse cx="180.3" cy="847.4" rx="17.6" ry="11.1" transform="rotate(66 180.3 847.4)"/></clipPath>
<g clip-path="url(#hubb)">
<ellipse cx="184.9" cy="845.4" rx="17.6" ry="11.1" transform="rotate(66 184.9 845.4)" fill="none" stroke="#000" stroke-width="1.6"/>
</g>
<ellipse cx="180.3" cy="847.4" rx="17.6" ry="11.1" transform="rotate(66 180.3 847.4)" fill="none" stroke="#000" stroke-width="2"/>
<ellipse cx="180.3" cy="847.4" rx="15.2" ry="9.6" transform="rotate(66 180.3 847.4)" fill="none" stroke="#000" stroke-width="1.2"/>
<ellipse cx="180.3" cy="805.3" rx="6.2" ry="4.3" transform="rotate(66 180.3 805.3)" fill="none" stroke="#000" stroke-width="1.6"/>
<ellipse cx="148.2" cy="813.3" rx="6.2" ry="4.3" transform="rotate(66 148.2 813.3)" fill="none" stroke="#000" stroke-width="1.6"/>
<ellipse cx="213.4" cy="851.4" rx="6.2" ry="4.3" transform="rotate(66 213.4 851.4)" fill="none" stroke="#000" stroke-width="1.6"/>
<ellipse cx="160.2" cy="865.5" rx="6.2" ry="4.3" transform="rotate(66 160.2 865.5)" fill="none" stroke="#000" stroke-width="1.6"/>
<ellipse cx="199.8" cy="889.6" rx="6.2" ry="4.3" transform="rotate(66 199.8 889.6)" fill="none" stroke="#000" stroke-width="1.6"/>
<ellipse cx="817.4" cy="495.9" rx="95.6" ry="58.3" transform="rotate(62 817.4 495.9)" fill="#fff" stroke="#000" stroke-width="1.8"/>
<ellipse cx="814.6" cy="497.4" rx="95.6" ry="58.3" transform="rotate(62 814.6 497.4)" fill="#fff" stroke="#000" stroke-width="2"/>
<ellipse cx="810.9" cy="497.8" rx="79" ry="48.2" transform="rotate(62 810.9 497.8)" fill="none" stroke="#000" stroke-width="1.3"/>
<path d="M771.1 520.6 Q776 521.4 777 523 Q778 524.6 777.4 527.3 Q776.8 530 777.6 531.2 Q778.4 532.3 780.7 532.1 Q783 531.9 784.1 533.4 Q785.3 534.8 785.1 537.8 Q785 540.9 785.9 541.9 Q786.8 542.9 788.8 542 Q790.9 541.2 792.1 542.5 Q793.4 543.8 793.7 547 Q794.1 550.2 795.1 551.1 Q796 551.9 797.7 550.5 Q799.5 549.1 800.8 550.1 Q802.1 551.1 802.9 554.5 Q803.8 557.8 804.8 558.4 Q805.7 559.1 807.1 557.1 Q808.4 555.2 809.8 555.9 Q811.2 556.7 812.4 560 Q813.7 563.3 814.7 563.8 Q815.7 564.2 816.6 561.8 Q817.5 559.4 818.9 559.8 Q820.2 560.2 821.8 563.4 Q823.5 566.6 824.4 566.8 Q825.4 567 825.9 564.2 Q826.3 561.4 827.6 561.5 Q828.9 561.6 830.9 564.6 Q832.9 567.6 833.8 567.5 Q834.7 567.5 834.7 564.4 Q834.7 561.3 835.8 561.1 Q837 560.9 839.3 563.5 Q841.5 566.2 842.3 565.9 Q843.1 565.6 842.6 562.3 Q842.2 559.1 843.2 558.5 Q844.2 558 846.7 560.2 Q849.1 562.4 849.8 561.9 Q850.5 561.4 849.5 558.1 Q848.6 554.7 849.4 553.9 Q850.3 553 852.8 554.8 Q855.4 556.5 855.9 555.8 Q856.5 555 855.1 551.7 Q853.8 548.4 854.4 547.3 Q855 546.2 857.6 547.4 Q860.2 548.5 860.5 547.6 Q860.9 546.7 859.2 543.6 Q857.4 540.4 857.9 539.1 Q858.3 537.7 860.8 538.3 Q863.3 538.9 863.5 537.8 Q863.7 536.7 861.6 533.8 Q859.6 530.9 859.7 529.4 Q859.9 527.9 862.2 527.8 Q864.6 527.8 864.6 526.6 Q864.6 525.4 862.3 522.9 Q860 520.3 859.9 518.7 Q859.8 517 861.9 516.3 Q864.1 515.7 863.9 514.4 Q863.8 513.2 861.3 511.1 Q858.8 509 858.4 507.2 Q858.1 505.5 859.9 504.2 Q861.8 503 861.4 501.7 Q861.1 500.4 858.5 498.8 Q855.9 497.2 855.4 495.5 Q854.8 493.7 856.2 491.9 Q857.7 490.1 857.2 488.8 Q856.7 487.6 854.1 486.5 Q851.6 485.5 850.8 483.8 Q850 482.1 851 479.8 Q852 477.5 851.4 476.3 Q850.7 475 848.3 474.6 Q845.8 474.2 844.8 472.6 Q843.8 471 844.4 468.3 Q845 465.6 844.2 464.4 Q843.4 463.3 841.1 463.5 Q838.8 463.7 837.7 462.2 Q836.5 460.8 836.7 457.8 Q836.8 454.7 835.9 453.7 Q835 452.7 833 453.6 Q830.9 454.4 829.7 453.1 Q828.4 451.8 828.1 448.6 Q827.7 445.4 826.7 444.5 Q825.8 443.7 824.1 445.1 Q822.3 446.5 821 445.5 Q819.7 444.5 818.9 441.1 Q818 437.8 817 437.2 Q816.1 436.5 814.7 438.5 Q813.4 440.4 812 439.7 Q810.6 438.9 809.4 435.6 Q808.1 432.3 807.1 431.8 Q806.1 431.4 805.2 433.8 Q804.3 436.2 802.9 435.8 Q801.6 435.4 800 432.2 Q798.3 429 797.4 428.8 Q796.4 428.6 795.9 431.4 Q795.5 434.2 794.2 434.1 Q792.9 434 790.9 431 Q788.9 428 788 428.1 Q787.1 428.1 787.1 431.2 Q787.1 434.3 786 434.5 Q784.8 434.7 782.5 432.1 Q780.3 429.4 779.5 429.7 Q778.7 430 779.2 433.3 Q779.6 436.5 778.6 437.1 Q777.6 437.6 775.1 435.4 Q772.7 433.2 772 433.7 Q771.3 434.2 772.3 437.5 Q773.2 440.9 772.4 441.7 Q771.5 442.6 769 440.8 Q766.4 439.1 765.9 439.8 Q765.3 440.6 766.7 443.9 Q768 447.2 767.4 448.3 Q766.8 449.4 764.2 448.2 L761.6 447.1" fill="none" stroke="#000" stroke-width="2.1" />
<clipPath id="pph"><ellipse cx="810" cy="496.6" rx="19.2" ry="11.7" transform="rotate(62 810 496.6)"/></clipPath>
<g clip-path="url(#pph)">
<ellipse cx="813.1" cy="495" rx="19.2" ry="11.7" transform="rotate(62 813.1 495)" fill="none" stroke="#000" stroke-width="1.3"/>
<ellipse cx="816.2" cy="493.3" rx="19.2" ry="11.7" transform="rotate(62 816.2 493.3)" fill="none" stroke="#000" stroke-width="1.3"/>
<ellipse cx="819.3" cy="491.7" rx="19.2" ry="11.7" transform="rotate(62 819.3 491.7)" fill="none" stroke="#000" stroke-width="1.3"/>
<ellipse cx="822.4" cy="490" rx="19.2" ry="11.7" transform="rotate(62 822.4 490)" fill="none" stroke="#000" stroke-width="1.3"/>
</g>
<ellipse cx="810" cy="496.6" rx="19.2" ry="11.7" transform="rotate(62 810 496.6)" fill="none" stroke="#000" stroke-width="1.8"/>
<path d="M755.1 460.5 L776.1 448.9 L789.4 459.8 L791.6 476.9 L770.7 488.5Z" fill="#fff" stroke="#fff" stroke-width="0.1" />
<path d="M770.7 488.5L791.6 476.9" stroke="#000" stroke-width="1.8" fill="none" />
<path d="M755.1 460.5L776.1 448.9" stroke="#000" stroke-width="1.8" fill="none" />
<ellipse cx="762.9" cy="474.5" rx="16" ry="10.6" transform="rotate(61 762.9 474.5)" fill="#fff" stroke="#000" stroke-width="2"/>
<ellipse cx="762.9" cy="474.5" rx="14.2" ry="9.4" transform="rotate(61 762.9 474.5)" fill="none" stroke="#000" stroke-width="1.1"/>
<ellipse cx="762.9" cy="474.5" rx="10.4" ry="6.9" transform="rotate(61 762.9 474.5)" fill="none" stroke="#000" stroke-width="1.8"/>
<path d="M765.8 511.8 L790.3 498.2 L803.6 509.2 L805.8 526.2 L781.4 539.8Z" fill="#fff" stroke="#fff" stroke-width="0.1" />
<path d="M781.4 539.8L805.8 526.2" stroke="#000" stroke-width="1.8" fill="none" />
<path d="M765.8 511.8L790.3 498.2" stroke="#000" stroke-width="1.8" fill="none" />
<ellipse cx="773.6" cy="525.8" rx="16" ry="10.6" transform="rotate(61 773.6 525.8)" fill="#fff" stroke="#000" stroke-width="2"/>
<ellipse cx="773.6" cy="525.8" rx="14.2" ry="9.4" transform="rotate(61 773.6 525.8)" fill="none" stroke="#000" stroke-width="1.1"/>
<ellipse cx="773.6" cy="525.8" rx="10.4" ry="6.9" transform="rotate(61 773.6 525.8)" fill="none" stroke="#000" stroke-width="1.8"/>
<path d="M788.4 453.2 L812.9 439.6 L826.2 450.6 L828.4 467.6 L804 481.2Z" fill="#fff" stroke="#fff" stroke-width="0.1" />
<path d="M804 481.2L828.4 467.6" stroke="#000" stroke-width="1.8" fill="none" />
<path d="M788.4 453.2L812.9 439.6" stroke="#000" stroke-width="1.8" fill="none" />
<ellipse cx="796.2" cy="467.2" rx="16" ry="10.6" transform="rotate(61 796.2 467.2)" fill="#fff" stroke="#000" stroke-width="2"/>
<ellipse cx="796.2" cy="467.2" rx="14.2" ry="9.4" transform="rotate(61 796.2 467.2)" fill="none" stroke="#000" stroke-width="1.1"/>
<ellipse cx="796.2" cy="467.2" rx="10.4" ry="6.9" transform="rotate(61 796.2 467.2)" fill="none" stroke="#000" stroke-width="1.8"/>
<path d="M803.7 538.6 L828.2 525 L841.5 536 L843.7 553 L819.3 566.6Z" fill="#fff" stroke="#fff" stroke-width="0.1" />
<path d="M819.3 566.6L843.7 553" stroke="#000" stroke-width="1.8" fill="none" />
<path d="M803.7 538.6L828.2 525" stroke="#000" stroke-width="1.8" fill="none" />
<ellipse cx="811.5" cy="552.6" rx="16" ry="10.6" transform="rotate(61 811.5 552.6)" fill="#fff" stroke="#000" stroke-width="2"/>
<ellipse cx="811.5" cy="552.6" rx="14.2" ry="9.4" transform="rotate(61 811.5 552.6)" fill="none" stroke="#000" stroke-width="1.1"/>
<ellipse cx="811.5" cy="552.6" rx="10.4" ry="6.9" transform="rotate(61 811.5 552.6)" fill="none" stroke="#000" stroke-width="1.8"/>
<path d="M819.8 499.9 L842.6 487.3 L855.9 498.2 L858.1 515.3 L835.4 527.9Z" fill="#fff" stroke="#fff" stroke-width="0.1" />
<path d="M835.4 527.9L858.1 515.3" stroke="#000" stroke-width="1.8" fill="none" />
<path d="M819.8 499.9L842.6 487.3" stroke="#000" stroke-width="1.8" fill="none" />
<ellipse cx="827.6" cy="513.9" rx="16" ry="10.6" transform="rotate(61 827.6 513.9)" fill="#fff" stroke="#000" stroke-width="2"/>
<ellipse cx="827.6" cy="513.9" rx="14.2" ry="9.4" transform="rotate(61 827.6 513.9)" fill="none" stroke="#000" stroke-width="1.1"/>
<ellipse cx="827.6" cy="513.9" rx="10.4" ry="6.9" transform="rotate(61 827.6 513.9)" fill="none" stroke="#000" stroke-width="1.8"/>
<path d="M775.8 487.6L827.6 469.8" stroke="#000" stroke-width="1.6" fill="none" />
<path d="M771.4 508.8L789.6 499.7" stroke="#000" stroke-width="1.6" fill="none" />
<path d="M790.4 509.8L809.8 500.7" stroke="#000" stroke-width="1.6" fill="none" />
<path d="M789.6 532.1L808.6 524.1" stroke="#000" stroke-width="1.6" fill="none" />
<path d="M826.1 495.6L845.8 486.1" stroke="#000" stroke-width="1.6" fill="none" />
<path d="M764.1 493.4L771.4 500.7" stroke="#000" stroke-width="1.6" fill="none" />
<ellipse cx="767" cy="500.4" rx="2.2" ry="1.8" transform="rotate(60.5 767 500.4)" fill="none" stroke="#000" stroke-width="1.5"/>
<ellipse cx="773.3" cy="503.9" rx="2.2" ry="1.8" transform="rotate(60.5 773.3 503.9)" fill="none" stroke="#000" stroke-width="1.5"/>
<ellipse cx="796.2" cy="540.9" rx="2.2" ry="1.8" transform="rotate(60.5 796.2 540.9)" fill="none" stroke="#000" stroke-width="1.5"/>
<ellipse cx="798.4" cy="547.4" rx="2.2" ry="1.8" transform="rotate(60.5 798.4 547.4)" fill="none" stroke="#000" stroke-width="1.5"/>
<path d="M789.6 509.8 L783.3 809.6" fill="none" stroke="#000" stroke-width="1.5" />
<path d="M 216.5 1034.8 L 242.8 1021.7 L 323.1 1023.1 C 366.9 1024.6 413.6 1048 451.5 1128.2" fill="none" stroke="#000" stroke-width="1.4" stroke-dasharray="62 3.5 4 3.5"/>
<path d="M 422.3 1141.4 C 407.7 1097.6 372.7 1045 317.2 1039.2 L 216.5 1034.8 C 197.5 1042.1 196.1 1059.6 201.9 1077.2 C 209.2 1097.6 232.6 1123.9 282.2 1185.2 C 326 1234.8 361 1266.9 404.8 1261.1" fill="none" stroke="#000" stroke-width="1.4" stroke-dasharray="62 3.5 4 3.5" stroke-dashoffset="20"/>
<path d="M 413.6 1144.3 C 399 1106.4 366.9 1056.7 317.2 1050.9 L 234 1045 L 223.8 1044.5 C 209.2 1048 204.8 1062.6 212.1 1080.1 C 220.9 1100.5 247.2 1129.7 288 1176.4 C 326 1217.3 361 1248 404.8 1243.6" fill="none" stroke="#000" stroke-width="1.4" stroke-dasharray="62 3.5 4 3.5" stroke-dashoffset="45"/>
<path d="M 234 1045 C 234 1068.4 253 1085.9 288 1123.9 C 331.8 1170.6 366.9 1214.4 422.3 1223.1" fill="none" stroke="#000" stroke-width="1.4" stroke-dasharray="62 3.5 4 3.5" stroke-dashoffset="10"/>
<path d="M417.8 1145.6 L448.6 1129 L452.7 1132.5 L456.9 1140.8 L461.6 1155 L461.6 1169.3 L464.6 1171.6 L464.6 1190.6 L462.2 1193 L461.6 1216.7 L447.4 1238 L441.5 1246.3 L410.7 1255.2 L404.7 1251 L423.7 1233.3 L433.2 1204.8 L434.4 1181.1 L429.6 1159.8Z" fill="#000" stroke="#000" stroke-width="1.2" />
<clipPath id="chc"><path d="M417.8 1145.6 L448.6 1129 L452.7 1132.5 L456.9 1140.8 L461.6 1155 L461.6 1169.3 L464.6 1171.6 L464.6 1190.6 L462.2 1193 L461.6 1216.7 L447.4 1238 L441.5 1246.3 L410.7 1255.2 L404.7 1251 L423.7 1233.3 L433.2 1204.8 L434.4 1181.1 L429.6 1159.8Z"/></clipPath>
<g clip-path="url(#chc)">
<path d="M422 1144.9 L423.1 1145.9 L424.2 1146.9 L425.3 1147.8 L426.4 1148.8 L427.4 1149.8 L428.3 1151.2 L429.2 1152.6" fill="none" stroke="#fff" stroke-width="1.5" />
<path d="M431 1155.4 L431.9 1156.7 L432.8 1158.1 L433.3 1159.9 L433.9 1161.7 L434.4 1163.5 L435 1165.2" fill="none" stroke="#fff" stroke-width="1.5" />
<path d="M436.3 1170.6 L436.6 1172.3 L436.8 1174.1 L437 1175.9 L437.3 1177.7 L437.5 1179.5 L437.6 1181.4 L437.6 1183.4" fill="none" stroke="#fff" stroke-width="1.5" />
<path d="M437.6 1185.4 L437.7 1187.4 L437.7 1189.3 L437.7 1191.3 L437.5 1193.3" fill="none" stroke="#fff" stroke-width="1.5" />
<path d="M436.8 1199.2 L436.6 1201.2 L436.3 1203.2 L435.7 1205.5 L435.1 1207.9 L434.5 1210.3 L434 1212.6" fill="none" stroke="#fff" stroke-width="1.5" />
<path d="M431.8 1219.7 L430.8 1222.1 L429.8 1224.5 L428.8 1226.9 L427.8 1229.2 L426.8 1231.6 L425.3 1233.4 L423.7 1235.2" fill="none" stroke="#fff" stroke-width="1.5" />
<path d="M422.1 1236.9 L420.5 1238.7" fill="none" stroke="#fff" stroke-width="1.5" />
<path d="M425.1 1143.2 L426.2 1144.2 L427.3 1145.2 L428.4 1146.2 L429.5 1147.2" fill="none" stroke="#fff" stroke-width="1.5" />
<path d="M430.6 1148.2 L431.5 1149.5 L432.4 1150.9 L433.2 1152.3 L434.1 1153.7 L435 1155.1 L435.9 1156.5 L436.5 1158.2" fill="none" stroke="#fff" stroke-width="1.5" />
<path d="M438.1 1163.6 L438.7 1165.3 L439.2 1167.1 L439.5 1168.9 L439.7 1170.7 L439.9 1172.5 L440.2 1174.2 L440.4 1176 L440.7 1177.8" fill="none" stroke="#fff" stroke-width="1.5" />
<path d="M440.7 1179.8 L440.7 1181.7 L440.8 1183.7 L440.8 1185.7 L440.8 1187.7 L440.9 1189.6 L440.7 1191.6 L440.4 1193.6" fill="none" stroke="#fff" stroke-width="1.5" />
<path d="M439.9 1197.5 L439.7 1199.5 L439.5 1201.5 L438.9 1203.9 L438.3 1206.2 L437.7 1208.6 L437.1 1211" fill="none" stroke="#fff" stroke-width="1.5" />
<path d="M434.9 1218.1 L433.9 1220.5 L432.9 1222.8 L432 1225.2 L431 1227.6 L430 1229.9 L428.4 1231.7 L426.8 1233.5 L425.2 1235.3" fill="none" stroke="#fff" stroke-width="1.5" />
<path d="M429.4 1142.6 L430.5 1143.5 L431.5 1144.5 L432.6 1145.5 L433.7 1146.5" fill="none" stroke="#fff" stroke-width="1.5" />
<path d="M436.4 1150.7 L437.3 1152 L438.2 1153.4 L439.1 1154.8" fill="none" stroke="#fff" stroke-width="1.5" />
<path d="M440.7 1160.1 L441.3 1161.9 L441.8 1163.7 L442.4 1165.5" fill="none" stroke="#fff" stroke-width="1.5" />
<path d="M442.6 1167.2 L442.8 1169 L443.1 1170.8 L443.3 1172.6" fill="none" stroke="#fff" stroke-width="1.5" />
<path d="M443.6 1174.4 L443.8 1176.1 L443.8 1178.1 L443.9 1180.1 L443.9 1182.1" fill="none" stroke="#fff" stroke-width="1.5" />
<path d="M444 1188 L443.8 1190 L443.6 1191.9 L443.3 1193.9" fill="none" stroke="#fff" stroke-width="1.5" />
<path d="M442.8 1197.9 L442.6 1199.8 L442 1202.2 L441.4 1204.6 L440.8 1206.9 L440.2 1209.3" fill="none" stroke="#fff" stroke-width="1.5" />
<path d="M439.1 1214.1 L438.1 1216.4 L437.1 1218.8 L436.1 1221.2 L435.1 1223.5 L434.1 1225.9 L433.1 1228.3 L431.5 1230.1" fill="none" stroke="#fff" stroke-width="1.5" />
<path d="M432.5 1140.9 L433.6 1141.9 L434.7 1142.9 L435.8 1143.9 L436.9 1144.8" fill="none" stroke="#fff" stroke-width="1.5" />
<path d="M439.5 1149 L440.4 1150.4 L441.3 1151.8 L442.2 1153.1 L442.7 1154.9 L443.3 1156.7" fill="none" stroke="#fff" stroke-width="1.5" />
<path d="M444.4 1160.3 L445 1162 L445.5 1163.8 L445.7 1165.6" fill="none" stroke="#fff" stroke-width="1.5" />
<path d="M446.5 1170.9 L446.7 1172.7 L446.9 1174.5 L447 1176.4" fill="none" stroke="#fff" stroke-width="1.5" />
<path d="M447.1 1180.4 L447.1 1182.4 L447.1 1184.4 L447.2 1186.3 L446.9 1188.3 L446.7 1190.3 L446.5 1192.3 L446.2 1194.2 L446 1196.2" fill="none" stroke="#fff" stroke-width="1.5" />
<path d="M445.2 1200.5 L444.6 1202.9 L444 1205.3 L443.4 1207.7 L442.8 1210 L442.2 1212.4 L441.2 1214.8" fill="none" stroke="#fff" stroke-width="1.5" />
<path d="M438.2 1221.9 L437.3 1224.3 L436.3 1226.6 L434.7 1228.4" fill="none" stroke="#fff" stroke-width="1.5" />
<path d="M434.6 1138.2 L435.7 1139.2 L436.7 1140.2 L437.8 1141.2 L438.9 1142.2 L440 1143.2" fill="none" stroke="#fff" stroke-width="1.5" />
<path d="M440.9 1144.6 L441.8 1146 L442.7 1147.3 L443.6 1148.7 L444.4 1150.1 L445.3 1151.5 L445.9 1153.3 L446.4 1155" fill="none" stroke="#fff" stroke-width="1.5" />
<path d="M447.5 1158.6 L448.1 1160.4 L448.7 1162.1 L448.9 1163.9" fill="none" stroke="#fff" stroke-width="1.5" />
<path d="M449.1 1165.7 L449.4 1167.5 L449.6 1169.3 L449.8 1171 L450.1 1172.8 L450.1 1174.8 L450.2 1176.8 L450.2 1178.7" fill="none" stroke="#fff" stroke-width="1.5" />
<path d="M450.2 1180.7 L450.3 1182.7 L450.3 1184.7 L450.1 1186.6 L449.8 1188.6 L449.6 1190.6 L449.4 1192.6" fill="none" stroke="#fff" stroke-width="1.5" />
<path d="M449.1 1194.5 L448.9 1196.5 L448.3 1198.9 L447.7 1201.3 L447.1 1203.6 L446.5 1206" fill="none" stroke="#fff" stroke-width="1.5" />
<path d="M445.3 1210.7 L444.3 1213.1 L443.4 1215.5 L442.4 1217.9" fill="none" stroke="#fff" stroke-width="1.5" />
<path d="M441.4 1220.2 L440.4 1222.6" fill="none" stroke="#fff" stroke-width="1.5" />
<path d="M436.6 1135.6 L437.7 1136.6 L438.8 1137.6 L439.9 1138.6 L441 1139.6" fill="none" stroke="#fff" stroke-width="1.5" />
<path d="M442.1 1140.5 L443.1 1141.5 L444 1142.9 L444.9 1144.3 L445.8 1145.7 L446.7 1147.1 L447.6 1148.4" fill="none" stroke="#fff" stroke-width="1.5" />
<path d="M449 1151.6 L449.6 1153.4 L450.1 1155.2 L450.7 1156.9 L451.2 1158.7 L451.8 1160.5 L452 1162.3 L452.3 1164 L452.5 1165.8" fill="none" stroke="#fff" stroke-width="1.5" />
<path d="M453 1169.4 L453.2 1171.2 L453.3 1173.1 L453.3 1175.1 L453.3 1177.1 L453.4 1179.1 L453.4 1181" fill="none" stroke="#fff" stroke-width="1.5" />
<path d="M453.5 1183 L453.2 1185 L453 1187 L452.7 1188.9 L452.5 1190.9 L452.3 1192.9 L452 1194.9 L451.4 1197.2" fill="none" stroke="#fff" stroke-width="1.5" />
<path d="M449.7 1204.3 L449.1 1206.7 L448.5 1209.1 L447.5 1211.5 L446.5 1213.8" fill="none" stroke="#fff" stroke-width="1.5" />
<path d="M440.8 1134.9 L441.9 1135.9 L443 1136.9 L444.1 1137.9 L445.2 1138.9 L446.3 1139.9" fill="none" stroke="#fff" stroke-width="1.5" />
<path d="M447.2 1141.2 L448.1 1142.6 L448.9 1144 L449.8 1145.4 L450.7 1146.8 L451.6 1148.2" fill="none" stroke="#fff" stroke-width="1.5" />
<path d="M452.7 1151.7 L453.3 1153.5 L453.8 1155.3 L454.4 1157.1" fill="none" stroke="#fff" stroke-width="1.5" />
<path d="M455.2 1160.6 L455.4 1162.4 L455.6 1164.2 L455.9 1165.9" fill="none" stroke="#fff" stroke-width="1.5" />
<path d="M456.1 1167.7 L456.4 1169.5 L456.4 1171.5 L456.4 1173.4 L456.5 1175.4" fill="none" stroke="#fff" stroke-width="1.5" />
<path d="M456.6 1181.3 L456.4 1183.3 L456.1 1185.3 L455.9 1187.3" fill="none" stroke="#fff" stroke-width="1.5" />
<path d="M455.6 1189.2 L455.4 1191.2 L455.2 1193.2 L454.6 1195.6" fill="none" stroke="#fff" stroke-width="1.5" />
<path d="M453.4 1200.3 L452.8 1202.7 L452.2 1205.1 L451.6 1207.4 L450.6 1209.8 L449.6 1212.2 L448.7 1214.5" fill="none" stroke="#fff" stroke-width="1.5" />
<path d="M445.1 1134.3 L446.2 1135.2 L447.2 1136.2 L448.3 1137.2 L449.4 1138.2 L450.3 1139.6 L451.2 1141 L452.1 1142.4" fill="none" stroke="#fff" stroke-width="1.5" />
<path d="M453 1143.7 L453.9 1145.1 L454.8 1146.5 L455.3 1148.3 L455.9 1150.1 L456.4 1151.8 L457 1153.6" fill="none" stroke="#fff" stroke-width="1.5" />
<path d="M458.3 1158.9 L458.5 1160.7 L458.8 1162.5 L459 1164.3 L459.3 1166.1" fill="none" stroke="#fff" stroke-width="1.5" />
<path d="M459.6 1171.8 L459.6 1173.8 L459.7 1175.7 L459.7 1177.7 L459.7 1179.7" fill="none" stroke="#fff" stroke-width="1.5" />
<path d="M459.3 1183.6 L459 1185.6 L458.8 1187.6 L458.5 1189.6 L458.3 1191.5 L457.7 1193.9 L457.1 1196.3 L456.5 1198.7 L455.9 1201" fill="none" stroke="#fff" stroke-width="1.5" />
<path d="M454.8 1205.8 L453.8 1208.1 L452.8 1210.5" fill="none" stroke="#fff" stroke-width="1.5" />
<path d="M447.1 1131.6 L448.2 1132.6 L449.3 1133.6 L450.4 1134.6 L451.5 1135.6" fill="none" stroke="#fff" stroke-width="1.5" />
<path d="M452.6 1136.5 L453.5 1137.9 L454.3 1139.3 L455.2 1140.7 L456.1 1142.1 L457 1143.5" fill="none" stroke="#fff" stroke-width="1.5" />
<path d="M459 1148.4 L459.6 1150.2 L460.1 1152 L460.7 1153.7 L461.2 1155.5 L461.5 1157.3" fill="none" stroke="#fff" stroke-width="1.5" />
<path d="M461.7 1159.1 L461.9 1160.8 L462.2 1162.6 L462.4 1164.4 L462.6 1166.2" fill="none" stroke="#fff" stroke-width="1.5" />
<path d="M462.7 1168.2 L462.7 1170.1 L462.8 1172.1 L462.8 1174.1 L462.8 1176.1 L462.9 1178 L462.6 1180" fill="none" stroke="#fff" stroke-width="1.5" />
<path d="M461.9 1185.9 L461.7 1187.9 L461.5 1189.9 L460.9 1192.3 L460.3 1194.6 L459.7 1197 L459.1 1199.4 L458.5 1201.7 L457.9 1204.1" fill="none" stroke="#fff" stroke-width="1.5" />
</g>
<path d="M411 1236 L412.6 1234.7 L414.5 1234.1 L416.5 1234.1 L418.4 1234.8 L419.9 1236.1 L420.9 1237.9 L421.2 1239.9 L420.8 1241.8 L419.8 1243.6 L414.3 1246.6 L412.1 1252.5 L410.5 1253.7 L408.6 1254.4 L406.6 1254.4 L404.7 1253.6 L403.2 1252.3 L402.2 1250.6 L401.9 1248.6 L402.3 1246.6 L403.3 1244.9 L408.8 1241.9Z" fill="#fff" stroke="#000" stroke-width="1.8" />
<circle cx="415.4" cy="1239.8" r="1.4" fill="#000"/>
<circle cx="407.7" cy="1248.7" r="1.4" fill="#000"/>
<path d="M422.8 1213.5 L423.6 1211.7 L425 1210.2 L426.8 1209.3 L428.8 1209.1 L430.7 1209.6 L432.4 1210.7 L433.6 1212.3 L434.2 1214.2 L434.1 1216.2 L430.5 1221.9 L431.1 1228.7 L430.3 1230.5 L428.9 1232 L427.1 1232.9 L425.1 1233.1 L423.2 1232.7 L421.5 1231.5 L420.3 1229.9 L419.7 1228 L419.8 1226 L423.5 1220.3Z" fill="#fff" stroke="#000" stroke-width="1.8" />
<circle cx="428.4" cy="1214.9" r="1.4" fill="#000"/>
<circle cx="425.5" cy="1227.3" r="1.4" fill="#000"/>
<path d="M423.3 1185.4 L423.4 1183.4 L424.1 1181.5 L425.5 1180.1 L427.3 1179.1 L429.3 1178.9 L431.3 1179.3 L433 1180.4 L434.2 1182 L434.8 1183.9 L433.5 1191 L436.6 1197.5 L436.5 1199.6 L435.7 1201.4 L434.3 1202.9 L432.6 1203.8 L430.6 1204.1 L428.6 1203.7 L426.9 1202.6 L425.7 1201 L425.1 1199 L426.4 1191.9Z" fill="#fff" stroke="#000" stroke-width="1.8" />
<circle cx="429" cy="1184.7" r="1.4" fill="#000"/>
<circle cx="430.8" cy="1198.3" r="1.4" fill="#000"/>
<path d="M415.6 1152.7 L415.3 1150.8 L415.7 1148.8 L416.7 1147.1 L418.3 1145.8 L420.2 1145.2 L422.2 1145.2 L424.1 1145.9 L425.6 1147.3 L426.6 1149 L427.2 1157.6 L431.9 1164.8 L432.2 1166.8 L431.8 1168.8 L430.8 1170.5 L429.2 1171.7 L427.3 1172.4 L425.3 1172.3 L423.4 1171.6 L421.9 1170.3 L420.9 1168.5 L420.4 1159.9Z" fill="#fff" stroke="#000" stroke-width="1.8" />
<circle cx="421.1" cy="1150.9" r="1.4" fill="#000"/>
<circle cx="426.4" cy="1166.7" r="1.4" fill="#000"/>
<path d="M417.8 1145.6 L448.6 1129" fill="none" stroke="#000" stroke-width="1.6" />
<path d="M461.6 1169.3 L464.6 1171.6 L464.6 1190.6 L462.2 1193Z" fill="#888" stroke="#000" stroke-width="1.5" />
</svg>
</body></html>
